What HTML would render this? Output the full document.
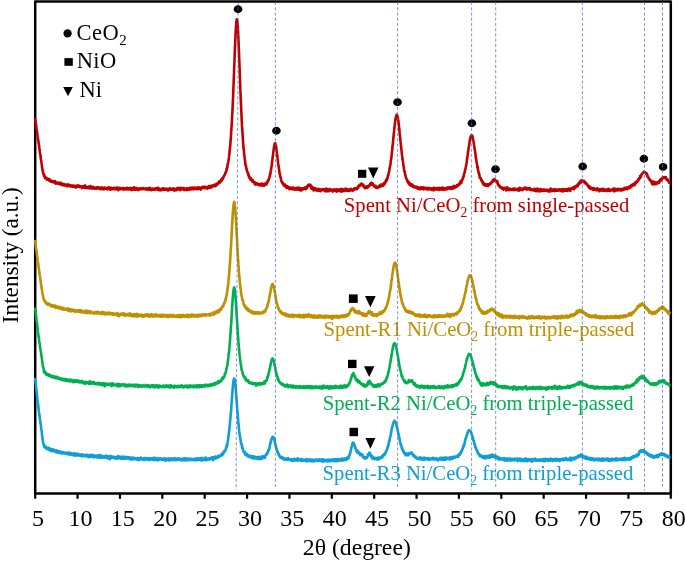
<!DOCTYPE html>
<html><head><meta charset="utf-8"><title>XRD patterns</title>
<style>
html,body{margin:0;padding:0;background:#fff;}
body{width:685px;height:561px;overflow:hidden;}
svg{display:block;font-family:"Liberation Serif",serif;will-change:transform;}
</style></head>
<body>
<svg width="685" height="561" viewBox="0 0 685 561">
<rect width="685" height="561" fill="#fff"/>
<rect x="35.2" y="1.5" width="635.5999999999999" height="492.0" fill="none" stroke="#000" stroke-width="2.5" stroke-linejoin="round"/>
<line x1="35.20" y1="493.5" x2="35.20" y2="498.8" stroke="#000" stroke-width="2.2"/>
<line x1="77.57" y1="493.5" x2="77.57" y2="498.8" stroke="#000" stroke-width="2.2"/>
<line x1="119.95" y1="493.5" x2="119.95" y2="498.8" stroke="#000" stroke-width="2.2"/>
<line x1="162.32" y1="493.5" x2="162.32" y2="498.8" stroke="#000" stroke-width="2.2"/>
<line x1="204.69" y1="493.5" x2="204.69" y2="498.8" stroke="#000" stroke-width="2.2"/>
<line x1="247.07" y1="493.5" x2="247.07" y2="498.8" stroke="#000" stroke-width="2.2"/>
<line x1="289.44" y1="493.5" x2="289.44" y2="498.8" stroke="#000" stroke-width="2.2"/>
<line x1="331.81" y1="493.5" x2="331.81" y2="498.8" stroke="#000" stroke-width="2.2"/>
<line x1="374.19" y1="493.5" x2="374.19" y2="498.8" stroke="#000" stroke-width="2.2"/>
<line x1="416.56" y1="493.5" x2="416.56" y2="498.8" stroke="#000" stroke-width="2.2"/>
<line x1="458.93" y1="493.5" x2="458.93" y2="498.8" stroke="#000" stroke-width="2.2"/>
<line x1="501.31" y1="493.5" x2="501.31" y2="498.8" stroke="#000" stroke-width="2.2"/>
<line x1="543.68" y1="493.5" x2="543.68" y2="498.8" stroke="#000" stroke-width="2.2"/>
<line x1="586.05" y1="493.5" x2="586.05" y2="498.8" stroke="#000" stroke-width="2.2"/>
<line x1="628.43" y1="493.5" x2="628.43" y2="498.8" stroke="#000" stroke-width="2.2"/>
<line x1="670.80" y1="493.5" x2="670.80" y2="498.8" stroke="#000" stroke-width="2.2"/>
<path d="M35.2 119.5L35.4 121.1L35.6 122.1L35.8 123.2L36.0 124.8L36.2 125.9L36.4 127.9L36.6 129.9L36.8 130.3L37.0 131.6L37.2 133.6L37.4 134.9L37.6 136.2L37.8 137.0L38.0 138.9L38.2 140.7L38.4 141.0L38.6 142.9L38.8 143.5L39.0 145.3L39.2 146.4L39.4 148.8L39.6 149.6L39.8 151.9L40.0 153.2L40.2 154.4L40.4 154.5L40.6 157.0L40.8 158.6L41.0 160.0L41.2 160.4L41.4 162.2L41.6 163.3L41.8 164.8L42.0 167.2L42.2 167.5L42.4 169.2L42.6 170.8L42.8 171.1L43.0 172.3L43.2 173.2L43.4 173.8L43.6 173.7L43.8 174.9L44.0 176.1L44.2 174.9L44.4 176.6L44.6 176.5L44.8 176.4L45.0 178.1L45.2 177.7L45.4 176.8L45.6 177.8L45.8 178.2L46.0 178.0L46.2 178.7L46.4 178.4L46.6 178.9L46.8 179.5L47.0 178.5L47.2 179.1L47.4 178.9L47.6 179.3L47.8 178.7L48.0 179.2L48.2 179.5L48.4 180.2L48.6 180.4L48.8 179.2L49.0 179.6L49.2 180.5L49.4 179.1L49.6 180.1L49.8 180.3L50.0 181.2L50.2 181.0L50.4 180.5L50.6 180.5L50.8 180.7L51.0 181.8L51.2 180.8L51.4 180.9L51.6 181.3L51.8 181.2L52.0 181.2L52.2 180.8L52.4 181.4L52.6 181.3L52.8 182.2L53.0 182.0L53.2 181.7L53.4 182.2L53.6 181.7L53.8 182.5L54.0 182.0L54.2 182.4L54.4 181.4L54.6 182.4L54.8 181.3L55.0 181.2L55.2 182.2L55.4 182.0L55.6 182.6L55.8 183.8L56.0 182.2L56.2 182.4L56.4 182.9L56.6 183.1L56.8 182.8L57.0 182.9L57.2 183.4L57.4 183.4L57.6 182.6L57.8 183.2L58.0 183.3L58.2 182.8L58.4 183.5L58.6 183.0L58.8 184.0L59.0 183.7L59.2 183.7L59.4 183.3L59.6 183.7L59.8 182.7L60.0 183.2L60.2 184.1L60.4 182.8L60.6 184.5L60.8 183.1L61.0 184.5L61.2 183.7L61.4 184.6L61.6 184.3L61.8 183.4L62.0 185.0L62.2 185.2L62.4 184.4L62.6 184.3L62.8 184.4L63.0 184.0L63.2 185.2L63.4 184.4L63.6 184.7L63.8 184.3L64.0 184.4L64.2 184.1L64.4 185.5L64.6 184.8L64.8 185.5L65.0 185.0L65.2 184.6L65.4 184.9L65.6 184.8L65.8 185.1L66.0 184.9L66.2 185.0L66.4 184.5L66.6 184.8L66.8 186.2L67.0 184.9L67.2 184.8L67.4 185.6L67.6 186.2L67.8 184.6L68.0 185.3L68.2 185.1L68.4 184.5L68.6 185.9L68.8 185.6L69.0 185.6L69.2 185.2L69.4 185.9L69.6 185.4L69.8 185.6L70.0 185.1L70.2 185.1L70.4 186.5L70.6 185.5L70.8 186.0L71.0 185.8L71.2 185.6L71.4 185.6L71.6 186.3L71.8 185.8L72.0 185.9L72.2 186.0L72.4 186.7L72.6 186.4L72.8 186.3L73.0 185.8L73.2 185.4L73.4 186.7L73.6 186.7L73.8 186.1L74.0 186.5L74.2 186.7L74.4 186.7L74.6 186.8L74.8 186.0L75.0 187.2L75.2 185.7L75.4 186.8L75.6 186.7L75.8 186.9L76.0 187.5L76.2 187.3L76.4 185.8L76.6 185.6L76.8 187.0L77.0 186.0L77.2 186.5L77.4 187.0L77.6 185.7L77.8 185.4L78.0 186.8L78.2 186.7L78.4 186.5L78.6 186.7L78.8 186.2L79.0 185.9L79.2 186.6L79.4 186.2L79.6 185.9L79.8 187.1L80.0 186.8L80.2 187.0L80.4 186.3L80.6 186.5L80.8 186.3L81.0 186.4L81.2 187.0L81.4 186.5L81.6 187.1L81.8 187.1L82.0 188.1L82.2 186.2L82.4 187.5L82.6 187.0L82.8 187.0L83.0 186.2L83.2 186.8L83.4 187.5L83.6 187.0L83.8 187.1L84.0 187.0L84.2 187.8L84.4 187.1L84.6 185.9L84.8 186.8L85.0 186.1L85.2 185.4L85.4 186.9L85.6 188.0L85.8 187.3L86.0 186.6L86.2 186.8L86.4 187.9L86.6 187.4L86.8 187.3L87.0 187.3L87.2 187.4L87.4 187.8L87.6 187.7L87.8 187.5L88.0 186.8L88.2 187.7L88.4 187.0L88.6 188.0L88.8 186.8L89.0 187.4L89.2 187.5L89.4 186.8L89.6 188.5L89.8 188.3L90.0 187.3L90.2 188.0L90.4 187.8L90.6 186.1L90.8 187.7L91.0 187.6L91.2 187.7L91.4 187.0L91.6 187.5L91.8 187.6L92.0 188.3L92.2 187.9L92.4 187.7L92.6 188.5L92.8 187.4L93.0 187.5L93.2 186.7L93.4 188.6L93.6 188.3L93.8 188.3L94.0 188.2L94.2 187.9L94.4 187.9L94.6 187.7L94.8 187.7L95.0 187.9L95.2 188.7L95.4 188.2L95.6 187.8L95.8 187.6L96.0 187.6L96.2 188.8L96.4 188.2L96.6 188.0L96.8 187.8L97.0 187.3L97.2 187.9L97.4 188.5L97.6 187.8L97.8 187.9L98.0 187.9L98.2 188.1L98.4 187.2L98.6 187.9L98.8 187.6L99.0 188.6L99.2 187.7L99.4 188.4L99.6 188.9L99.8 187.9L100.0 187.8L100.2 188.2L100.4 188.1L100.6 187.6L100.8 188.4L101.0 189.3L101.2 188.0L101.4 188.1L101.6 187.6L101.8 188.4L102.0 187.5L102.2 187.6L102.4 188.9L102.6 187.7L102.8 188.8L103.0 189.1L103.2 188.4L103.4 188.6L103.6 189.4L103.8 188.2L104.0 188.0L104.2 187.6L104.4 188.3L104.6 189.1L104.8 188.9L105.0 187.8L105.2 187.9L105.4 188.1L105.6 188.5L105.8 188.3L106.0 188.5L106.2 188.6L106.4 188.2L106.6 188.4L106.8 188.5L107.0 188.4L107.2 188.7L107.4 189.5L107.6 188.8L107.8 188.5L108.0 187.5L108.2 188.7L108.4 187.4L108.6 187.7L108.8 189.0L109.0 188.9L109.2 188.4L109.4 187.6L109.6 188.3L109.8 188.1L110.0 188.9L110.2 189.8L110.4 188.6L110.6 188.1L110.8 187.9L111.0 188.5L111.2 188.5L111.4 187.9L111.6 188.6L111.8 187.9L112.0 189.2L112.2 189.2L112.4 189.2L112.6 188.3L112.8 188.9L113.0 188.5L113.2 188.4L113.4 188.4L113.6 187.9L113.8 187.8L114.0 189.1L114.2 188.5L114.4 188.8L114.6 189.2L114.8 187.7L115.0 188.2L115.2 188.8L115.4 188.9L115.6 188.5L115.8 189.2L116.0 188.8L116.2 188.0L116.4 188.2L116.6 189.1L116.8 188.9L117.0 187.6L117.2 189.4L117.4 189.0L117.6 189.4L117.8 188.5L118.0 188.6L118.2 188.1L118.4 190.1L118.6 188.6L118.8 189.6L119.0 188.4L119.2 188.8L119.4 187.8L119.6 188.5L119.8 189.3L120.0 188.1L120.2 189.3L120.4 188.9L120.6 188.2L120.8 188.5L121.0 188.5L121.2 188.7L121.4 188.5L121.6 188.3L121.8 188.6L122.0 188.2L122.2 188.1L122.4 188.8L122.6 189.3L122.8 188.0L123.0 188.8L123.2 188.5L123.4 188.3L123.6 189.3L123.8 188.5L124.0 189.6L124.2 188.4L124.4 189.0L124.6 188.7L124.8 188.4L125.0 189.2L125.2 188.8L125.4 189.2L125.6 188.8L125.8 188.3L126.0 188.8L126.2 188.9L126.4 189.4L126.6 188.4L126.8 188.8L127.0 187.9L127.2 189.2L127.4 188.3L127.6 187.9L127.8 188.9L128.0 189.5L128.2 188.1L128.4 188.3L128.6 188.5L128.8 188.3L129.0 189.1L129.2 188.5L129.4 188.5L129.6 189.2L129.8 188.5L130.0 189.2L130.2 188.4L130.4 188.3L130.6 187.9L130.8 190.0L131.0 188.8L131.2 189.1L131.4 188.9L131.6 189.0L131.8 189.0L132.0 190.0L132.2 188.4L132.4 188.1L132.6 188.4L132.8 188.2L133.0 189.4L133.2 189.4L133.4 188.4L133.6 188.2L133.8 188.8L134.0 189.7L134.2 187.4L134.4 189.3L134.6 188.4L134.8 189.6L135.0 188.4L135.2 188.8L135.4 188.2L135.6 188.5L135.8 189.8L136.0 189.5L136.2 188.8L136.4 188.5L136.6 188.0L136.8 188.8L137.0 189.0L137.2 189.0L137.4 189.0L137.6 188.4L137.8 189.0L138.0 189.0L138.2 189.7L138.4 190.1L138.6 189.0L138.8 188.6L139.0 189.0L139.2 188.7L139.4 188.6L139.6 189.0L139.8 188.5L140.0 189.4L140.2 189.0L140.4 189.2L140.6 189.0L140.8 188.7L141.0 188.5L141.2 188.9L141.4 188.8L141.6 189.2L141.8 189.1L142.0 188.3L142.2 189.1L142.4 188.3L142.6 188.7L142.8 188.9L143.0 188.0L143.2 189.1L143.4 189.2L143.6 189.0L143.8 188.9L144.0 188.9L144.2 188.6L144.4 189.0L144.6 188.8L144.8 189.2L145.0 188.5L145.2 189.2L145.4 189.2L145.6 189.0L145.8 188.9L146.0 189.4L146.2 188.2L146.4 189.4L146.6 189.3L146.8 189.3L147.0 189.4L147.2 188.8L147.4 189.0L147.6 189.5L147.8 189.4L148.0 189.3L148.2 188.3L148.4 189.5L148.6 189.8L148.8 189.7L149.0 189.3L149.2 188.3L149.4 189.7L149.6 189.1L149.8 187.8L150.0 189.4L150.2 188.4L150.4 188.5L150.6 188.8L150.8 189.9L151.0 189.0L151.2 189.3L151.4 190.1L151.6 190.1L151.8 189.1L152.0 189.1L152.2 188.5L152.4 188.8L152.6 189.4L152.8 189.4L153.0 189.3L153.2 189.7L153.4 188.8L153.6 189.2L153.8 189.6L154.0 189.5L154.2 189.8L154.4 189.4L154.6 189.0L154.8 189.4L155.0 188.7L155.2 188.3L155.4 189.5L155.6 189.2L155.8 189.4L156.0 188.3L156.2 189.0L156.4 188.9L156.6 188.7L156.8 188.0L157.0 189.0L157.2 189.7L157.4 189.4L157.6 188.9L157.8 189.2L158.0 189.6L158.2 187.7L158.4 189.2L158.6 189.5L158.8 189.6L159.0 190.2L159.2 189.9L159.4 189.4L159.6 189.4L159.8 189.7L160.0 188.9L160.2 189.2L160.4 189.7L160.6 190.3L160.8 189.1L161.0 189.2L161.2 189.3L161.4 190.0L161.6 189.2L161.8 190.0L162.0 188.7L162.2 189.1L162.4 189.1L162.6 189.7L162.8 189.8L163.0 188.4L163.2 188.7L163.4 189.4L163.6 188.9L163.8 188.4L164.0 189.8L164.2 189.5L164.4 189.5L164.6 189.0L164.8 189.8L165.0 189.1L165.2 189.8L165.4 188.7L165.6 188.8L165.8 189.3L166.0 188.9L166.2 189.6L166.4 189.4L166.6 188.7L166.8 189.3L167.0 189.0L167.2 189.7L167.4 188.9L167.6 189.0L167.8 189.9L168.0 190.5L168.2 190.3L168.4 189.3L168.6 189.3L168.8 190.1L169.0 189.2L169.2 188.7L169.4 189.3L169.6 189.5L169.8 188.8L170.0 188.3L170.2 188.4L170.4 189.6L170.6 188.8L170.8 189.1L171.0 189.3L171.2 189.6L171.4 189.0L171.6 189.5L171.8 188.7L172.0 189.0L172.2 188.6L172.4 189.8L172.6 189.2L172.8 188.8L173.0 189.0L173.2 189.1L173.4 189.6L173.6 188.3L173.8 188.6L174.0 189.0L174.2 190.6L174.4 189.7L174.6 189.1L174.8 189.6L175.0 190.3L175.2 189.0L175.4 189.0L175.6 189.8L175.8 189.4L176.0 189.5L176.2 188.9L176.4 190.2L176.6 190.1L176.8 189.5L177.0 189.5L177.2 188.0L177.4 189.5L177.6 189.0L177.8 189.4L178.0 189.5L178.2 188.9L178.4 188.2L178.6 189.3L178.8 188.7L179.0 188.9L179.2 188.8L179.4 188.9L179.6 187.8L179.8 189.8L180.0 189.2L180.2 189.7L180.4 190.2L180.6 189.1L180.8 188.1L181.0 188.6L181.2 188.4L181.4 188.8L181.6 189.1L181.8 188.0L182.0 189.2L182.2 188.2L182.4 189.2L182.6 189.0L182.8 188.9L183.0 189.0L183.2 188.7L183.4 188.7L183.6 188.1L183.8 189.0L184.0 190.0L184.2 190.1L184.4 189.7L184.6 189.4L184.8 188.6L185.0 189.8L185.2 188.9L185.4 188.9L185.6 188.8L185.8 189.0L186.0 188.7L186.2 188.9L186.4 188.3L186.6 188.7L186.8 190.2L187.0 188.9L187.2 188.8L187.4 189.2L187.6 189.3L187.8 188.3L188.0 188.8L188.2 189.4L188.4 189.0L188.6 188.9L188.8 189.7L189.0 188.5L189.2 188.9L189.4 188.5L189.6 189.6L189.8 187.7L190.0 188.4L190.2 188.5L190.4 189.2L190.6 189.1L190.8 189.5L191.0 187.9L191.2 189.2L191.4 188.6L191.6 188.4L191.8 189.0L192.0 188.2L192.2 187.6L192.4 188.5L192.6 187.9L192.8 188.3L193.0 188.9L193.2 188.8L193.4 189.5L193.6 188.5L193.8 187.8L194.0 188.2L194.2 188.1L194.4 187.9L194.6 188.8L194.8 188.2L195.0 187.5L195.2 188.9L195.4 188.5L195.6 188.7L195.8 188.6L196.0 188.9L196.2 188.5L196.4 189.2L196.6 188.7L196.8 188.7L197.0 188.7L197.2 187.6L197.4 188.3L197.6 188.3L197.8 188.5L198.0 187.6L198.2 189.3L198.4 188.4L198.6 187.7L198.8 187.4L199.0 188.1L199.2 188.2L199.4 187.9L199.6 188.3L199.8 187.9L200.0 188.5L200.2 187.8L200.4 188.2L200.6 188.7L200.8 189.6L201.0 187.6L201.2 187.9L201.4 187.6L201.6 188.5L201.8 187.4L202.0 187.8L202.2 188.0L202.4 187.4L202.6 187.4L202.8 187.7L203.0 186.8L203.2 187.1L203.4 187.6L203.6 187.9L203.8 187.7L204.0 186.8L204.2 187.5L204.4 188.2L204.6 188.0L204.8 187.7L205.0 187.2L205.2 188.0L205.4 187.3L205.6 186.9L205.8 187.1L206.0 188.3L206.2 187.6L206.4 188.1L206.6 187.2L206.8 187.9L207.0 187.0L207.2 187.3L207.4 188.7L207.6 187.7L207.8 187.0L208.0 187.2L208.2 187.3L208.4 187.8L208.6 186.8L208.8 186.1L209.0 186.8L209.2 187.0L209.4 187.0L209.6 187.6L209.8 187.0L210.0 187.2L210.2 186.1L210.4 187.2L210.6 187.8L210.8 187.0L211.0 186.7L211.2 186.6L211.4 187.4L211.6 185.9L211.8 186.2L212.0 186.5L212.2 186.6L212.4 185.9L212.6 186.2L212.8 185.8L213.0 186.0L213.2 185.8L213.4 185.2L213.6 185.7L213.8 186.1L214.0 185.0L214.2 185.4L214.4 185.8L214.6 184.7L214.8 185.3L215.0 184.6L215.2 185.7L215.4 186.2L215.6 186.0L215.8 184.6L216.0 185.1L216.2 184.6L216.4 184.5L216.6 185.2L216.8 183.5L217.0 184.7L217.2 183.9L217.4 184.6L217.6 183.8L217.8 183.2L218.0 183.6L218.2 183.7L218.4 183.1L218.6 183.2L218.8 182.5L219.0 181.5L219.2 183.0L219.4 182.7L219.6 182.2L219.8 182.0L220.0 182.3L220.2 181.3L220.4 180.9L220.6 181.0L220.8 181.6L221.0 179.9L221.2 181.1L221.4 179.8L221.6 179.3L221.8 180.4L222.0 179.4L222.2 178.4L222.4 178.7L222.6 179.1L222.8 178.9L223.0 177.7L223.2 177.8L223.4 177.7L223.6 176.5L223.8 176.7L224.0 176.1L224.2 175.5L224.4 175.1L224.6 174.9L224.8 174.5L225.0 173.7L225.2 173.2L225.4 173.6L225.6 172.5L225.8 172.3L226.0 171.9L226.2 170.9L226.4 171.2L226.6 168.8L226.8 169.0L227.0 167.6L227.2 167.9L227.4 167.0L227.6 164.0L227.8 163.6L228.0 163.4L228.2 162.4L228.4 161.1L228.6 159.4L228.8 158.3L229.0 157.0L229.2 155.0L229.4 154.0L229.6 150.4L229.8 150.1L230.0 147.2L230.2 146.1L230.4 143.2L230.6 140.4L230.8 138.5L231.0 135.0L231.2 132.1L231.4 128.6L231.6 126.2L231.8 123.0L232.0 119.7L232.2 115.2L232.4 111.9L232.6 107.1L232.8 102.7L233.0 98.4L233.2 94.0L233.4 88.4L233.6 83.4L233.8 78.3L234.0 73.2L234.2 67.5L234.4 63.0L234.6 57.2L234.8 52.3L235.0 46.8L235.2 42.3L235.4 37.7L235.6 33.3L235.8 29.9L236.0 26.3L236.2 23.8L236.4 21.6L236.6 20.0L236.8 19.3L237.0 19.5L237.2 20.2L237.4 21.7L237.6 23.9L237.8 26.5L238.0 30.1L238.2 33.6L238.4 38.4L238.6 42.8L238.8 47.8L239.0 53.0L239.2 58.5L239.4 63.2L239.6 68.5L239.8 74.1L240.0 78.9L240.2 84.6L240.4 90.9L240.6 94.6L240.8 100.2L241.0 103.8L241.2 109.2L241.4 113.1L241.6 117.3L241.8 121.6L242.0 125.9L242.2 128.6L242.4 131.9L242.6 134.4L242.8 138.2L243.0 140.6L243.2 143.8L243.4 145.8L243.6 149.1L243.8 149.2L244.0 152.2L244.2 154.7L244.4 155.8L244.6 157.3L244.8 159.1L245.0 159.9L245.2 162.1L245.4 164.7L245.6 165.1L245.8 165.0L246.0 166.1L246.2 167.4L246.4 169.0L246.6 168.9L246.8 169.7L247.0 171.3L247.2 172.0L247.4 172.0L247.6 172.2L247.8 172.5L248.0 173.6L248.2 173.2L248.4 175.4L248.6 175.1L248.8 176.1L249.0 177.3L249.2 177.3L249.4 176.4L249.6 177.9L249.8 178.4L250.0 177.7L250.2 177.8L250.4 178.6L250.6 178.1L250.8 180.0L251.0 178.2L251.2 179.1L251.4 179.8L251.6 180.1L251.8 180.5L252.0 180.8L252.2 180.7L252.4 181.7L252.6 180.1L252.8 181.4L253.0 181.2L253.2 181.8L253.4 182.0L253.6 181.6L253.8 181.9L254.0 182.8L254.2 182.7L254.4 182.3L254.6 183.9L254.8 184.1L255.0 182.2L255.2 183.3L255.4 184.6L255.6 183.7L255.8 183.5L256.0 183.4L256.2 183.3L256.4 183.6L256.6 183.5L256.8 184.3L257.0 183.7L257.2 183.8L257.4 183.4L257.6 184.1L257.8 183.7L258.0 184.2L258.2 184.9L258.4 184.6L258.6 184.7L258.8 184.7L259.0 184.5L259.2 184.5L259.4 184.4L259.6 185.0L259.8 184.1L260.0 185.4L260.2 184.7L260.4 184.3L260.6 184.5L260.8 184.4L261.0 184.9L261.2 184.4L261.4 185.4L261.6 184.4L261.8 183.5L262.0 184.4L262.2 183.7L262.4 184.7L262.6 185.3L262.8 185.1L263.0 184.0L263.2 184.2L263.4 185.6L263.6 184.8L263.8 184.5L264.0 185.1L264.2 185.8L264.4 185.1L264.6 184.4L264.8 184.4L265.0 184.5L265.2 183.7L265.4 183.3L265.6 183.8L265.8 183.2L266.0 183.5L266.2 183.4L266.4 184.5L266.6 182.6L266.8 182.8L267.0 182.5L267.2 182.6L267.4 182.7L267.6 181.5L267.8 181.0L268.0 180.2L268.2 180.2L268.4 180.6L268.6 179.9L268.8 178.8L269.0 178.6L269.2 178.2L269.4 177.8L269.6 176.5L269.8 175.9L270.0 174.2L270.2 173.7L270.4 174.2L270.6 171.2L270.8 171.0L271.0 170.2L271.2 168.6L271.4 167.1L271.6 166.0L271.8 164.6L272.0 163.0L272.2 160.7L272.4 159.8L272.6 157.9L272.8 156.3L273.0 154.9L273.2 153.3L273.4 151.7L273.6 149.8L273.8 148.6L274.0 147.2L274.2 146.0L274.4 145.0L274.6 144.0L274.8 143.5L275.0 143.3L275.2 143.1L275.4 143.6L275.6 144.0L275.8 144.9L276.0 145.7L276.2 147.0L276.4 148.6L276.6 150.3L276.8 152.0L277.0 153.4L277.2 155.1L277.4 156.6L277.6 158.7L277.8 160.2L278.0 162.2L278.2 164.4L278.4 165.1L278.6 165.9L278.8 167.6L279.0 168.7L279.2 170.1L279.4 172.6L279.6 173.2L279.8 173.3L280.0 175.5L280.2 176.7L280.4 176.7L280.6 177.4L280.8 178.3L281.0 179.3L281.2 180.2L281.4 181.0L281.6 181.6L281.8 182.1L282.0 182.7L282.2 182.7L282.4 181.9L282.6 183.0L282.8 183.6L283.0 183.5L283.2 184.5L283.4 184.1L283.6 184.0L283.8 185.5L284.0 185.3L284.2 185.3L284.4 185.8L284.6 186.1L284.8 185.8L285.0 184.5L285.2 185.6L285.4 185.8L285.6 185.7L285.8 186.4L286.0 187.1L286.2 186.3L286.4 186.0L286.6 187.9L286.8 186.6L287.0 186.2L287.2 187.1L287.4 187.3L287.6 186.8L287.8 187.7L288.0 187.0L288.2 186.9L288.4 187.5L288.6 187.9L288.8 187.2L289.0 187.8L289.2 187.6L289.4 189.3L289.6 187.4L289.8 188.6L290.0 187.9L290.2 187.9L290.4 188.4L290.6 188.5L290.8 188.8L291.0 188.3L291.2 187.8L291.4 187.9L291.6 188.5L291.8 188.6L292.0 189.1L292.2 188.6L292.4 189.0L292.6 189.2L292.8 188.5L293.0 187.6L293.2 187.8L293.4 187.7L293.6 189.4L293.8 188.1L294.0 189.3L294.2 188.9L294.4 189.6L294.6 189.2L294.8 188.6L295.0 188.6L295.2 188.8L295.4 188.9L295.6 188.5L295.8 188.8L296.0 189.7L296.2 187.9L296.4 189.0L296.6 188.4L296.8 189.0L297.0 189.4L297.2 188.9L297.4 189.4L297.6 188.1L297.8 189.6L298.0 188.6L298.2 189.3L298.4 189.1L298.6 187.6L298.8 188.6L299.0 189.1L299.2 189.9L299.4 189.2L299.6 189.2L299.8 188.3L300.0 189.8L300.2 190.1L300.4 189.1L300.6 189.0L300.8 188.2L301.0 189.6L301.2 190.6L301.4 189.5L301.6 189.8L301.8 189.4L302.0 188.5L302.2 189.8L302.4 188.4L302.6 188.9L302.8 189.2L303.0 189.5L303.2 189.2L303.4 189.2L303.6 188.5L303.8 188.2L304.0 188.9L304.2 188.4L304.4 188.1L304.6 188.0L304.8 188.4L305.0 187.5L305.2 187.7L305.4 187.5L305.6 188.3L305.8 188.3L306.0 189.1L306.2 187.0L306.4 187.3L306.6 188.0L306.8 187.1L307.0 186.9L307.2 187.8L307.4 186.4L307.6 185.7L307.8 185.4L308.0 186.1L308.2 185.9L308.4 184.8L308.6 184.9L308.8 185.6L309.0 185.5L309.2 184.8L309.4 185.6L309.6 185.6L309.8 184.5L310.0 185.4L310.2 186.0L310.4 185.7L310.6 185.1L310.8 186.3L311.0 187.1L311.2 187.8L311.4 186.0L311.6 188.9L311.8 187.0L312.0 188.4L312.2 188.7L312.4 188.7L312.6 188.4L312.8 187.9L313.0 189.0L313.2 188.4L313.4 187.5L313.6 190.5L313.8 189.4L314.0 190.1L314.2 188.7L314.4 190.1L314.6 190.2L314.8 190.2L315.0 189.4L315.2 188.8L315.4 189.4L315.6 188.3L315.8 188.6L316.0 189.6L316.2 189.0L316.4 189.5L316.6 189.6L316.8 190.7L317.0 190.4L317.2 189.7L317.4 190.4L317.6 189.3L317.8 189.5L318.0 190.2L318.2 189.1L318.4 189.6L318.6 189.0L318.8 189.9L319.0 190.7L319.2 189.4L319.4 189.9L319.6 189.3L319.8 189.2L320.0 189.2L320.2 190.7L320.4 191.2L320.6 190.1L320.8 189.5L321.0 190.3L321.2 189.7L321.4 190.3L321.6 190.1L321.8 190.1L322.0 190.3L322.2 189.6L322.4 189.7L322.6 189.0L322.8 189.7L323.0 189.2L323.2 189.9L323.4 189.4L323.6 190.0L323.8 190.2L324.0 189.2L324.2 189.5L324.4 189.5L324.6 190.4L324.8 190.9L325.0 190.5L325.2 189.8L325.4 190.8L325.6 189.2L325.8 190.8L326.0 189.7L326.2 188.5L326.4 191.5L326.6 190.9L326.8 189.5L327.0 190.1L327.2 189.9L327.4 190.1L327.6 189.2L327.8 189.7L328.0 190.3L328.2 190.2L328.4 190.7L328.6 190.1L328.8 191.3L329.0 189.7L329.2 190.2L329.4 189.0L329.6 189.4L329.8 190.8L330.0 189.6L330.2 190.4L330.4 190.0L330.6 189.5L330.8 189.9L331.0 189.8L331.2 189.8L331.4 190.5L331.6 190.4L331.8 189.8L332.0 189.6L332.2 190.2L332.4 190.0L332.6 190.7L332.8 191.6L333.0 190.6L333.2 190.1L333.4 190.0L333.6 189.6L333.8 189.6L334.0 189.5L334.2 189.9L334.4 189.9L334.6 190.5L334.8 189.9L335.0 190.0L335.2 189.4L335.4 191.0L335.6 190.4L335.8 191.1L336.0 190.5L336.2 190.9L336.4 190.0L336.6 190.5L336.8 191.6L337.0 189.4L337.2 190.7L337.4 191.0L337.6 190.3L337.8 190.5L338.0 190.8L338.2 189.7L338.4 190.3L338.6 189.6L338.8 189.7L339.0 189.7L339.2 190.0L339.4 190.2L339.6 190.3L339.8 189.3L340.0 191.2L340.2 190.7L340.4 190.5L340.6 189.9L340.8 190.0L341.0 190.4L341.2 190.3L341.4 189.1L341.6 190.5L341.8 191.7L342.0 189.0L342.2 190.6L342.4 190.3L342.6 190.0L342.8 190.8L343.0 189.4L343.2 190.1L343.4 190.9L343.6 189.9L343.8 189.8L344.0 190.1L344.2 189.8L344.4 190.9L344.6 189.5L344.8 190.5L345.0 189.3L345.2 190.4L345.4 189.9L345.6 188.5L345.8 190.0L346.0 189.4L346.2 189.7L346.4 190.8L346.6 189.3L346.8 189.3L347.0 190.8L347.2 190.0L347.4 190.8L347.6 190.1L347.8 189.4L348.0 189.9L348.2 190.6L348.4 190.4L348.6 189.9L348.8 189.9L349.0 189.8L349.2 189.5L349.4 190.9L349.6 189.8L349.8 189.2L350.0 189.5L350.2 190.2L350.4 190.2L350.6 189.7L350.8 189.4L351.0 189.8L351.2 188.8L351.4 189.0L351.6 190.2L351.8 189.4L352.0 189.9L352.2 190.4L352.4 190.0L352.6 189.6L352.8 190.8L353.0 190.0L353.2 189.4L353.4 190.0L353.6 189.8L353.8 189.0L354.0 189.5L354.2 189.3L354.4 188.3L354.6 189.3L354.8 189.1L355.0 189.0L355.2 188.3L355.4 188.9L355.6 189.0L355.8 189.0L356.0 188.3L356.2 189.2L356.4 188.0L356.6 188.5L356.8 189.2L357.0 187.9L357.2 187.9L357.4 188.6L357.6 187.6L357.8 187.5L358.0 187.6L358.2 187.9L358.4 185.8L358.6 186.3L358.8 186.0L359.0 185.7L359.2 185.6L359.4 185.4L359.6 185.8L359.8 184.9L360.0 185.2L360.2 185.2L360.4 184.3L360.6 184.6L360.8 185.3L361.0 184.5L361.2 183.9L361.4 184.2L361.6 183.7L361.8 184.4L362.0 184.8L362.2 184.0L362.4 184.5L362.6 185.4L362.8 184.6L363.0 185.2L363.2 184.7L363.4 185.1L363.6 185.4L363.8 187.1L364.0 185.9L364.2 186.0L364.4 186.2L364.6 186.6L364.8 187.2L365.0 187.1L365.2 188.3L365.4 187.4L365.6 188.1L365.8 187.6L366.0 187.8L366.2 186.7L366.4 187.5L366.6 187.5L366.8 187.4L367.0 186.3L367.2 187.9L367.4 187.2L367.6 187.0L367.8 187.0L368.0 186.9L368.2 187.1L368.4 186.0L368.6 185.9L368.8 186.4L369.0 186.1L369.2 185.6L369.4 185.2L369.6 184.8L369.8 184.9L370.0 185.4L370.2 183.9L370.4 185.1L370.6 184.5L370.8 183.7L371.0 184.2L371.2 182.9L371.4 182.7L371.6 183.0L371.8 183.6L372.0 183.8L372.2 183.8L372.4 184.3L372.6 183.3L372.8 185.0L373.0 184.2L373.2 184.8L373.4 185.2L373.6 185.0L373.8 185.1L374.0 185.5L374.2 186.2L374.4 186.7L374.6 186.8L374.8 186.1L375.0 186.3L375.2 186.3L375.4 187.2L375.6 185.9L375.8 187.7L376.0 186.8L376.2 186.7L376.4 187.3L376.6 187.7L376.8 187.3L377.0 187.7L377.2 187.2L377.4 187.8L377.6 187.7L377.8 187.0L378.0 187.8L378.2 187.0L378.4 186.9L378.6 186.3L378.8 186.6L379.0 187.1L379.2 185.9L379.4 186.9L379.6 186.7L379.8 186.6L380.0 185.2L380.2 186.2L380.4 186.6L380.6 185.7L380.8 186.1L381.0 184.6L381.2 186.2L381.4 185.4L381.6 186.1L381.8 184.5L382.0 185.8L382.2 185.1L382.4 185.6L382.6 184.5L382.8 184.5L383.0 185.9L383.2 184.1L383.4 184.0L383.6 184.0L383.8 183.4L384.0 184.5L384.2 184.6L384.4 183.0L384.6 182.2L384.8 183.5L385.0 183.2L385.2 182.8L385.4 182.7L385.6 181.3L385.8 181.3L386.0 180.3L386.2 179.9L386.4 180.8L386.6 179.4L386.8 180.6L387.0 178.9L387.2 178.0L387.4 178.2L387.6 178.2L387.8 176.8L388.0 175.2L388.2 175.4L388.4 175.2L388.6 173.3L388.8 172.3L389.0 172.4L389.2 171.0L389.4 169.3L389.6 168.7L389.8 167.3L390.0 166.7L390.2 165.4L390.4 164.7L390.6 163.1L390.8 160.5L391.0 160.1L391.2 158.8L391.4 157.0L391.6 155.7L391.8 153.1L392.0 151.1L392.2 150.3L392.4 147.4L392.6 145.0L392.8 144.7L393.0 141.8L393.2 140.1L393.4 137.5L393.6 135.6L393.8 133.7L394.0 132.0L394.2 130.4L394.4 127.4L394.6 126.7L394.8 124.3L395.0 122.6L395.2 121.5L395.4 119.9L395.6 118.3L395.8 117.7L396.0 116.4L396.2 115.7L396.4 115.2L396.6 114.9L396.8 114.7L397.0 114.9L397.2 115.1L397.4 115.8L397.6 116.4L397.8 117.4L398.0 118.9L398.2 119.9L398.4 121.3L398.6 123.5L398.8 124.7L399.0 126.1L399.2 128.5L399.4 129.7L399.6 132.6L399.8 134.7L400.0 135.9L400.2 137.9L400.4 140.3L400.6 142.2L400.8 143.6L401.0 146.4L401.2 146.9L401.4 149.6L401.6 151.4L401.8 153.2L402.0 155.2L402.2 156.0L402.4 158.6L402.6 159.7L402.8 160.9L403.0 161.9L403.2 163.4L403.4 165.5L403.6 166.0L403.8 167.7L404.0 169.4L404.2 170.4L404.4 171.7L404.6 171.6L404.8 172.1L405.0 174.1L405.2 174.5L405.4 175.7L405.6 175.8L405.8 177.1L406.0 177.6L406.2 178.1L406.4 178.5L406.6 179.0L406.8 179.4L407.0 179.8L407.2 180.7L407.4 180.3L407.6 181.9L407.8 181.2L408.0 182.2L408.2 181.9L408.4 182.1L408.6 183.7L408.8 182.6L409.0 182.3L409.2 182.9L409.4 183.3L409.6 184.9L409.8 184.0L410.0 184.6L410.2 183.7L410.4 184.6L410.6 185.0L410.8 185.7L411.0 184.5L411.2 185.4L411.4 185.3L411.6 184.7L411.8 185.4L412.0 185.4L412.2 184.4L412.4 186.1L412.6 186.2L412.8 185.7L413.0 185.3L413.2 187.0L413.4 186.4L413.6 186.9L413.8 187.2L414.0 186.2L414.2 187.0L414.4 186.5L414.6 186.7L414.8 186.7L415.0 186.8L415.2 187.5L415.4 187.0L415.6 186.9L415.8 186.9L416.0 187.3L416.2 186.7L416.4 187.0L416.6 187.3L416.8 187.0L417.0 187.3L417.2 187.1L417.4 188.6L417.6 188.3L417.8 187.8L418.0 187.6L418.2 188.9L418.4 187.9L418.6 187.7L418.8 188.0L419.0 188.0L419.2 188.6L419.4 187.9L419.6 189.1L419.8 187.5L420.0 188.4L420.2 187.5L420.4 189.1L420.6 187.9L420.8 188.1L421.0 188.7L421.2 188.9L421.4 187.6L421.6 188.0L421.8 187.5L422.0 188.3L422.2 188.2L422.4 188.1L422.6 188.0L422.8 188.2L423.0 188.0L423.2 188.7L423.4 189.3L423.6 187.4L423.8 188.4L424.0 188.3L424.2 188.8L424.4 188.0L424.6 188.5L424.8 188.0L425.0 189.0L425.2 188.6L425.4 188.5L425.6 188.8L425.8 188.5L426.0 187.8L426.2 189.0L426.4 188.8L426.6 188.6L426.8 189.2L427.0 189.4L427.2 188.1L427.4 188.3L427.6 189.6L427.8 189.5L428.0 188.4L428.2 188.1L428.4 188.4L428.6 188.5L428.8 187.9L429.0 188.8L429.2 188.1L429.4 188.2L429.6 189.3L429.8 188.5L430.0 188.8L430.2 189.2L430.4 189.3L430.6 188.7L430.8 188.9L431.0 188.4L431.2 189.8L431.4 189.2L431.6 188.3L431.8 188.9L432.0 189.3L432.2 189.2L432.4 189.9L432.6 189.7L432.8 188.6L433.0 188.9L433.2 188.2L433.4 189.1L433.6 189.0L433.8 190.4L434.0 189.0L434.2 187.8L434.4 188.6L434.6 189.0L434.8 188.2L435.0 188.5L435.2 188.7L435.4 189.1L435.6 188.8L435.8 188.4L436.0 189.4L436.2 188.6L436.4 188.7L436.6 188.2L436.8 188.5L437.0 189.3L437.2 188.0L437.4 188.9L437.6 189.3L437.8 188.7L438.0 189.0L438.2 188.3L438.4 189.6L438.6 189.5L438.8 189.0L439.0 187.9L439.2 188.3L439.4 189.4L439.6 189.8L439.8 189.0L440.0 189.5L440.2 188.5L440.4 188.7L440.6 188.8L440.8 189.1L441.0 188.0L441.2 189.3L441.4 189.5L441.6 188.2L441.8 188.0L442.0 189.0L442.2 188.4L442.4 187.5L442.6 189.2L442.8 188.8L443.0 188.5L443.2 189.9L443.4 188.8L443.6 188.3L443.8 188.7L444.0 188.1L444.2 188.2L444.4 188.9L444.6 188.3L444.8 188.4L445.0 189.5L445.2 189.0L445.4 189.0L445.6 188.8L445.8 188.8L446.0 189.3L446.2 188.5L446.4 189.5L446.6 187.9L446.8 188.3L447.0 187.6L447.2 188.2L447.4 188.6L447.6 189.1L447.8 188.0L448.0 188.3L448.2 188.1L448.4 187.8L448.6 187.6L448.8 188.2L449.0 187.2L449.2 188.2L449.4 188.1L449.6 187.7L449.8 187.5L450.0 187.2L450.2 189.0L450.4 187.2L450.6 188.8L450.8 188.2L451.0 187.6L451.2 187.2L451.4 188.3L451.6 188.7L451.8 187.2L452.0 187.5L452.2 188.2L452.4 187.7L452.6 188.6L452.8 187.1L453.0 187.7L453.2 186.6L453.4 188.4L453.6 186.8L453.8 185.9L454.0 187.0L454.2 187.0L454.4 188.0L454.6 186.7L454.8 186.8L455.0 187.1L455.2 187.6L455.4 186.6L455.6 187.1L455.8 186.7L456.0 186.2L456.2 186.3L456.4 186.2L456.6 185.6L456.8 186.6L457.0 185.1L457.2 186.4L457.4 186.2L457.6 185.5L457.8 185.0L458.0 185.1L458.2 185.4L458.4 185.4L458.6 185.0L458.8 185.2L459.0 184.2L459.2 184.4L459.4 183.2L459.6 184.3L459.8 183.8L460.0 183.2L460.2 183.8L460.4 183.3L460.6 181.1L460.8 182.4L461.0 181.3L461.2 182.3L461.4 182.8L461.6 180.8L461.8 180.7L462.0 180.1L462.2 180.0L462.4 179.7L462.6 179.6L462.8 177.8L463.0 178.7L463.2 176.8L463.4 176.8L463.6 176.7L463.8 175.8L464.0 174.2L464.2 173.5L464.4 172.9L464.6 172.3L464.8 172.1L465.0 169.9L465.2 169.9L465.4 169.0L465.6 168.0L465.8 166.9L466.0 166.4L466.2 164.7L466.4 163.7L466.6 162.4L466.8 161.8L467.0 158.6L467.2 158.9L467.4 156.8L467.6 155.4L467.8 153.7L468.0 151.9L468.2 151.2L468.4 149.7L468.6 148.8L468.8 146.6L469.0 146.4L469.2 144.6L469.4 143.2L469.6 141.8L469.8 140.6L470.0 139.5L470.2 138.6L470.4 137.8L470.6 137.0L470.8 136.2L471.0 135.9L471.2 135.4L471.4 135.3L471.6 135.4L471.8 135.3L472.0 135.5L472.2 135.7L472.4 136.2L472.6 136.8L472.8 138.0L473.0 138.6L473.2 139.7L473.4 140.6L473.6 142.0L473.8 143.7L474.0 144.2L474.2 145.7L474.4 146.8L474.6 148.9L474.8 149.5L475.0 150.8L475.2 152.1L475.4 153.4L475.6 155.8L475.8 158.2L476.0 157.7L476.2 160.0L476.4 160.9L476.6 161.4L476.8 163.0L477.0 164.2L477.2 165.1L477.4 167.6L477.6 166.5L477.8 168.8L478.0 169.7L478.2 170.2L478.4 171.4L478.6 172.7L478.8 173.1L479.0 174.0L479.2 174.9L479.4 174.1L479.6 176.7L479.8 177.7L480.0 177.6L480.2 178.2L480.4 177.4L480.6 178.6L480.8 178.7L481.0 179.3L481.2 180.5L481.4 180.0L481.6 180.7L481.8 180.1L482.0 181.4L482.2 181.8L482.4 181.7L482.6 181.9L482.8 183.6L483.0 182.1L483.2 182.5L483.4 182.8L483.6 184.1L483.8 184.8L484.0 184.0L484.2 183.6L484.4 183.9L484.6 184.8L484.8 183.9L485.0 185.3L485.2 185.4L485.4 184.7L485.6 185.1L485.8 185.3L486.0 185.8L486.2 184.4L486.4 185.7L486.6 184.9L486.8 184.7L487.0 185.2L487.2 185.0L487.4 184.6L487.6 184.3L487.8 184.6L488.0 185.9L488.2 186.1L488.4 185.4L488.6 185.6L488.8 184.6L489.0 184.7L489.2 184.8L489.4 184.0L489.6 183.9L489.8 184.3L490.0 184.0L490.2 183.4L490.4 184.0L490.6 183.4L490.8 183.9L491.0 183.2L491.2 182.8L491.4 182.8L491.6 182.3L491.8 181.8L492.0 181.7L492.2 182.1L492.4 181.8L492.6 181.9L492.8 180.0L493.0 180.5L493.2 180.2L493.4 180.4L493.6 179.8L493.8 179.7L494.0 180.3L494.2 179.9L494.4 179.1L494.6 180.6L494.8 180.4L495.0 179.7L495.2 180.6L495.4 180.0L495.6 181.2L495.8 180.7L496.0 180.7L496.2 181.2L496.4 181.3L496.6 182.2L496.8 182.5L497.0 182.7L497.2 182.7L497.4 181.3L497.6 183.7L497.8 182.9L498.0 184.4L498.2 185.2L498.4 185.0L498.6 184.9L498.8 185.3L499.0 185.5L499.2 185.5L499.4 185.7L499.6 185.7L499.8 187.1L500.0 186.6L500.2 187.3L500.4 186.8L500.6 187.1L500.8 187.1L501.0 187.6L501.2 188.0L501.4 187.7L501.6 187.3L501.8 187.4L502.0 188.8L502.2 187.8L502.4 187.9L502.6 189.0L502.8 188.8L503.0 188.6L503.2 188.1L503.4 189.7L503.6 188.7L503.8 188.8L504.0 188.5L504.2 187.8L504.4 187.9L504.6 188.9L504.8 188.9L505.0 188.6L505.2 188.2L505.4 188.0L505.6 188.7L505.8 188.1L506.0 189.4L506.2 189.6L506.4 190.5L506.6 189.5L506.8 188.7L507.0 188.6L507.2 187.2L507.4 188.8L507.6 189.0L507.8 189.7L508.0 189.5L508.2 189.5L508.4 189.3L508.6 189.6L508.8 190.0L509.0 188.7L509.2 189.0L509.4 188.5L509.6 190.2L509.8 190.0L510.0 189.7L510.2 188.7L510.4 189.4L510.6 189.2L510.8 189.4L511.0 189.3L511.2 189.7L511.4 189.2L511.6 189.9L511.8 189.6L512.0 189.3L512.2 189.4L512.4 189.2L512.6 189.9L512.8 189.3L513.0 189.6L513.2 189.3L513.4 188.7L513.6 190.0L513.8 188.9L514.0 189.9L514.2 189.7L514.4 188.6L514.6 189.0L514.8 189.2L515.0 189.1L515.2 188.9L515.4 189.9L515.6 189.4L515.8 189.7L516.0 189.3L516.2 189.7L516.4 189.1L516.6 189.5L516.8 189.8L517.0 189.5L517.2 189.2L517.4 188.9L517.6 189.6L517.8 189.7L518.0 189.3L518.2 189.0L518.4 189.7L518.6 190.8L518.8 189.2L519.0 189.6L519.2 189.6L519.4 187.9L519.6 189.4L519.8 188.9L520.0 190.1L520.2 189.1L520.4 188.8L520.6 189.1L520.8 189.3L521.0 188.9L521.2 189.1L521.4 188.4L521.6 189.0L521.8 189.5L522.0 190.1L522.2 189.4L522.4 189.1L522.6 189.6L522.8 189.5L523.0 189.8L523.2 189.4L523.4 188.7L523.6 188.9L523.8 188.8L524.0 188.9L524.2 188.8L524.4 188.2L524.6 187.5L524.8 188.3L525.0 187.5L525.2 188.6L525.4 188.6L525.6 187.7L525.8 189.0L526.0 189.1L526.2 188.7L526.4 189.5L526.6 189.7L526.8 188.0L527.0 189.2L527.2 188.9L527.4 188.9L527.6 189.3L527.8 188.4L528.0 188.5L528.2 188.4L528.4 188.5L528.6 188.9L528.8 188.2L529.0 188.4L529.2 189.4L529.4 189.0L529.6 189.3L529.8 188.1L530.0 188.8L530.2 188.9L530.4 189.3L530.6 189.0L530.8 189.9L531.0 189.4L531.2 189.4L531.4 189.5L531.6 189.9L531.8 189.3L532.0 190.2L532.2 189.8L532.4 189.7L532.6 189.7L532.8 190.0L533.0 190.3L533.2 190.3L533.4 190.0L533.6 190.3L533.8 189.9L534.0 190.5L534.2 189.8L534.4 188.7L534.6 190.6L534.8 190.0L535.0 189.3L535.2 189.8L535.4 189.5L535.6 191.1L535.8 190.3L536.0 189.1L536.2 190.3L536.4 189.8L536.6 191.1L536.8 189.5L537.0 188.8L537.2 190.1L537.4 189.9L537.6 189.8L537.8 188.9L538.0 190.3L538.2 191.0L538.4 189.1L538.6 190.8L538.8 189.8L539.0 191.4L539.2 190.4L539.4 190.0L539.6 190.8L539.8 190.4L540.0 189.8L540.2 190.6L540.4 189.9L540.6 189.2L540.8 191.3L541.0 190.0L541.2 189.8L541.4 190.4L541.6 189.3L541.8 189.5L542.0 189.9L542.2 189.9L542.4 190.2L542.6 190.8L542.8 190.0L543.0 190.5L543.2 190.6L543.4 189.6L543.6 190.4L543.8 189.7L544.0 190.8L544.2 190.5L544.4 190.2L544.6 189.5L544.8 190.3L545.0 189.8L545.2 190.6L545.4 190.2L545.6 189.8L545.8 190.8L546.0 190.7L546.2 189.9L546.4 190.9L546.6 190.1L546.8 190.1L547.0 190.3L547.2 189.9L547.4 190.0L547.6 190.2L547.8 191.1L548.0 191.1L548.2 190.1L548.4 191.2L548.6 190.3L548.8 190.5L549.0 190.8L549.2 190.4L549.4 191.6L549.6 190.4L549.8 189.6L550.0 191.0L550.2 190.1L550.4 190.1L550.6 188.6L550.8 190.8L551.0 190.7L551.2 190.7L551.4 190.8L551.6 191.2L551.8 190.3L552.0 190.8L552.2 189.9L552.4 190.1L552.6 190.9L552.8 190.5L553.0 189.5L553.2 190.5L553.4 190.2L553.6 189.8L553.8 190.5L554.0 190.0L554.2 189.4L554.4 189.6L554.6 191.2L554.8 189.4L555.0 190.4L555.2 190.6L555.4 190.6L555.6 189.6L555.8 190.1L556.0 190.3L556.2 190.7L556.4 189.9L556.6 189.6L556.8 190.8L557.0 190.8L557.2 190.4L557.4 189.9L557.6 190.4L557.8 190.3L558.0 190.7L558.2 189.5L558.4 190.3L558.6 190.1L558.8 189.6L559.0 190.3L559.2 190.2L559.4 189.9L559.6 190.4L559.8 189.4L560.0 190.1L560.2 190.4L560.4 190.3L560.6 190.7L560.8 189.5L561.0 189.3L561.2 190.2L561.4 190.3L561.6 191.3L561.8 190.4L562.0 189.6L562.2 190.5L562.4 189.6L562.6 189.2L562.8 191.5L563.0 190.2L563.2 190.4L563.4 190.3L563.6 191.0L563.8 190.1L564.0 190.6L564.2 189.4L564.4 189.2L564.6 190.7L564.8 190.7L565.0 190.2L565.2 190.0L565.4 190.0L565.6 189.5L565.8 190.7L566.0 190.2L566.2 190.1L566.4 190.0L566.6 190.4L566.8 190.0L567.0 190.1L567.2 189.1L567.4 190.0L567.6 190.9L567.8 189.4L568.0 189.5L568.2 190.1L568.4 190.1L568.6 189.9L568.8 188.6L569.0 189.8L569.2 188.8L569.4 189.0L569.6 189.7L569.8 189.2L570.0 189.7L570.2 191.0L570.4 189.6L570.6 189.6L570.8 188.6L571.0 188.7L571.2 188.4L571.4 188.7L571.6 188.3L571.8 188.5L572.0 188.7L572.2 188.2L572.4 187.9L572.6 187.8L572.8 188.7L573.0 188.4L573.2 188.9L573.4 188.8L573.6 188.0L573.8 188.4L574.0 187.1L574.2 189.1L574.4 188.4L574.6 187.5L574.8 186.8L575.0 187.6L575.2 186.2L575.4 186.6L575.6 187.3L575.8 186.8L576.0 186.3L576.2 187.0L576.4 185.7L576.6 186.3L576.8 185.6L577.0 185.3L577.2 185.8L577.4 184.8L577.6 186.2L577.8 184.6L578.0 185.8L578.2 183.9L578.4 184.6L578.6 183.4L578.8 183.1L579.0 183.7L579.2 183.7L579.4 182.4L579.6 183.6L579.8 182.2L580.0 182.5L580.2 182.5L580.4 182.4L580.6 180.9L580.8 182.6L581.0 181.9L581.2 181.2L581.4 180.7L581.6 180.3L581.8 180.4L582.0 181.3L582.2 180.8L582.4 180.4L582.6 180.7L582.8 181.9L583.0 180.9L583.2 180.9L583.4 182.0L583.6 181.7L583.8 181.6L584.0 181.4L584.2 181.0L584.4 181.4L584.6 182.0L584.8 182.3L585.0 182.9L585.2 183.2L585.4 183.2L585.6 183.5L585.8 183.0L586.0 182.6L586.2 183.7L586.4 183.7L586.6 184.1L586.8 184.5L587.0 184.2L587.2 184.5L587.4 185.3L587.6 185.6L587.8 185.3L588.0 186.2L588.2 186.0L588.4 185.7L588.6 186.4L588.8 187.6L589.0 186.4L589.2 187.5L589.4 187.8L589.6 188.0L589.8 186.9L590.0 188.6L590.2 187.6L590.4 187.6L590.6 187.7L590.8 188.2L591.0 188.0L591.2 188.0L591.4 188.9L591.6 187.9L591.8 187.8L592.0 188.9L592.2 188.9L592.4 189.2L592.6 188.1L592.8 189.3L593.0 189.1L593.2 189.8L593.4 188.2L593.6 189.1L593.8 188.9L594.0 188.2L594.2 188.7L594.4 189.8L594.6 189.0L594.8 188.9L595.0 189.8L595.2 189.9L595.4 189.9L595.6 189.0L595.8 189.4L596.0 190.0L596.2 189.1L596.4 189.1L596.6 190.0L596.8 190.4L597.0 189.0L597.2 188.2L597.4 188.8L597.6 189.1L597.8 189.6L598.0 190.0L598.2 189.6L598.4 189.3L598.6 189.8L598.8 189.2L599.0 189.8L599.2 189.4L599.4 191.3L599.6 190.3L599.8 189.4L600.0 189.3L600.2 189.6L600.4 189.0L600.6 189.5L600.8 189.5L601.0 190.4L601.2 189.7L601.4 189.5L601.6 189.2L601.8 189.3L602.0 189.9L602.2 189.8L602.4 190.6L602.6 189.6L602.8 190.6L603.0 190.1L603.2 190.0L603.4 188.9L603.6 189.3L603.8 190.4L604.0 190.8L604.2 190.1L604.4 190.4L604.6 189.8L604.8 189.8L605.0 189.7L605.2 190.6L605.4 190.2L605.6 189.9L605.8 189.9L606.0 190.3L606.2 190.2L606.4 189.6L606.6 191.0L606.8 190.2L607.0 190.1L607.2 190.9L607.4 190.6L607.6 190.0L607.8 190.3L608.0 189.5L608.2 189.7L608.4 188.8L608.6 190.7L608.8 189.0L609.0 190.4L609.2 189.6L609.4 189.5L609.6 189.9L609.8 190.2L610.0 190.4L610.2 191.0L610.4 190.2L610.6 190.5L610.8 189.7L611.0 190.4L611.2 190.1L611.4 189.8L611.6 190.0L611.8 190.0L612.0 190.1L612.2 190.2L612.4 189.7L612.6 189.6L612.8 190.4L613.0 189.1L613.2 189.6L613.4 190.8L613.6 188.5L613.8 189.6L614.0 190.3L614.2 189.0L614.4 191.4L614.6 188.5L614.8 190.7L615.0 190.8L615.2 190.4L615.4 189.8L615.6 190.1L615.8 189.4L616.0 190.3L616.2 189.3L616.4 189.7L616.6 190.4L616.8 189.2L617.0 189.6L617.2 189.9L617.4 189.1L617.6 190.4L617.8 190.0L618.0 188.9L618.2 189.7L618.4 189.3L618.6 189.4L618.8 189.8L619.0 189.3L619.2 190.2L619.4 189.3L619.6 190.2L619.8 189.6L620.0 190.1L620.2 189.3L620.4 189.3L620.6 188.9L620.8 189.8L621.0 190.0L621.2 190.6L621.4 190.2L621.6 189.6L621.8 189.3L622.0 189.6L622.2 189.3L622.4 190.1L622.6 189.8L622.8 188.8L623.0 188.8L623.2 189.9L623.4 189.3L623.6 189.0L623.8 189.7L624.0 188.8L624.2 188.8L624.4 188.7L624.6 187.8L624.8 189.3L625.0 188.2L625.2 188.5L625.4 188.3L625.6 189.1L625.8 188.6L626.0 188.6L626.2 187.6L626.4 188.4L626.6 187.6L626.8 188.5L627.0 188.5L627.2 188.2L627.4 189.3L627.6 188.4L627.8 188.3L628.0 188.0L628.2 187.7L628.4 188.3L628.6 188.3L628.8 186.9L629.0 188.1L629.2 187.7L629.4 187.9L629.6 187.5L629.8 186.5L630.0 186.4L630.2 188.0L630.4 187.0L630.6 186.0L630.8 186.8L631.0 186.3L631.2 185.4L631.4 185.0L631.6 185.3L631.8 186.2L632.0 185.9L632.2 185.7L632.4 185.8L632.6 185.9L632.8 184.2L633.0 185.1L633.2 184.7L633.4 184.3L633.6 184.5L633.8 184.6L634.0 184.4L634.2 183.5L634.4 183.9L634.6 185.1L634.8 183.3L635.0 182.7L635.2 183.6L635.4 183.6L635.6 183.4L635.8 182.3L636.0 183.3L636.2 182.1L636.4 181.7L636.6 181.8L636.8 181.8L637.0 182.0L637.2 181.8L637.4 181.2L637.6 181.5L637.8 180.7L638.0 180.9L638.2 179.4L638.4 179.0L638.6 180.0L638.8 178.6L639.0 178.9L639.2 178.7L639.4 178.1L639.6 177.8L639.8 178.5L640.0 176.1L640.2 177.6L640.4 177.9L640.6 176.4L640.8 176.1L641.0 176.1L641.2 176.2L641.4 174.5L641.6 174.8L641.8 174.3L642.0 174.3L642.2 173.8L642.4 173.7L642.6 173.1L642.8 173.0L643.0 172.6L643.2 172.4L643.4 172.3L643.6 172.2L643.8 172.0L644.0 172.2L644.2 172.0L644.4 171.9L644.6 172.1L644.8 172.0L645.0 172.3L645.2 172.3L645.4 172.6L645.6 172.8L645.8 172.8L646.0 173.2L646.2 174.0L646.4 173.1L646.6 174.1L646.8 174.6L647.0 174.4L647.2 174.6L647.4 176.4L647.6 175.7L647.8 177.2L648.0 176.9L648.2 177.0L648.4 177.6L648.6 178.0L648.8 178.6L649.0 178.6L649.2 178.8L649.4 179.1L649.6 180.1L649.8 180.1L650.0 179.4L650.2 179.9L650.4 180.7L650.6 180.4L650.8 180.8L651.0 180.7L651.2 181.3L651.4 181.9L651.6 182.4L651.8 182.1L652.0 183.4L652.2 182.3L652.4 184.3L652.6 183.2L652.8 183.1L653.0 182.7L653.2 181.5L653.4 183.0L653.6 183.3L653.8 184.3L654.0 182.6L654.2 184.4L654.4 183.3L654.6 183.9L654.8 182.1L655.0 183.6L655.2 183.3L655.4 183.9L655.6 183.5L655.8 182.8L656.0 183.9L656.2 183.7L656.4 183.6L656.6 183.8L656.8 183.7L657.0 183.0L657.2 182.2L657.4 182.1L657.6 183.5L657.8 183.0L658.0 182.5L658.2 182.1L658.4 182.2L658.6 182.0L658.8 181.7L659.0 181.3L659.2 182.7L659.4 181.4L659.6 180.8L659.8 180.2L660.0 180.3L660.2 180.9L660.4 180.7L660.6 179.9L660.8 179.9L661.0 179.5L661.2 178.8L661.4 179.9L661.6 179.2L661.8 180.1L662.0 178.2L662.2 178.3L662.4 178.7L662.6 177.9L662.8 177.1L663.0 177.2L663.2 177.7L663.4 177.7L663.6 177.4L663.8 177.9L664.0 177.9L664.2 177.5L664.4 177.3L664.6 177.2L664.8 177.7L665.0 177.9L665.2 177.6L665.4 177.9L665.6 177.6L665.8 177.2L666.0 177.6L666.2 178.7L666.4 178.7L666.6 179.6L666.8 178.9L667.0 179.6L667.2 180.1L667.4 180.2L667.6 179.5L667.8 180.0L668.0 180.4L668.2 180.1L668.4 181.1L668.6 181.7L668.8 181.1L669.0 182.7L669.2 181.7L669.4 182.0L669.6 182.2" fill="none" stroke="#C00000" stroke-width="2.6" stroke-linejoin="round" stroke-linecap="round"/>
<path d="M35.2 241.0L35.4 243.1L35.6 244.4L35.8 246.8L36.0 247.8L36.2 249.3L36.4 250.3L36.6 251.2L36.8 253.4L37.0 254.5L37.2 256.9L37.4 257.9L37.6 260.3L37.8 261.2L38.0 262.7L38.2 263.8L38.4 265.3L38.6 267.0L38.8 268.6L39.0 269.1L39.2 271.2L39.4 273.8L39.6 273.8L39.8 275.1L40.0 276.3L40.2 277.2L40.4 280.1L40.6 280.8L40.8 282.2L41.0 284.4L41.2 286.0L41.4 285.4L41.6 287.8L41.8 288.9L42.0 290.1L42.2 291.4L42.4 292.4L42.6 294.5L42.8 295.1L43.0 296.0L43.2 297.5L43.4 298.1L43.6 298.6L43.8 299.2L44.0 300.5L44.2 300.4L44.4 300.5L44.6 300.6L44.8 301.2L45.0 301.2L45.2 302.1L45.4 302.4L45.6 301.4L45.8 302.8L46.0 303.3L46.2 303.2L46.4 302.8L46.6 304.1L46.8 303.1L47.0 303.0L47.2 303.2L47.4 303.9L47.6 304.5L47.8 304.7L48.0 304.3L48.2 303.6L48.4 304.0L48.6 304.0L48.8 304.4L49.0 303.7L49.2 304.8L49.4 305.1L49.6 304.8L49.8 305.2L50.0 304.5L50.2 304.3L50.4 304.8L50.6 305.9L50.8 305.8L51.0 305.1L51.2 306.1L51.4 305.3L51.6 306.4L51.8 305.9L52.0 305.4L52.2 306.1L52.4 305.3L52.6 305.3L52.8 305.1L53.0 306.1L53.2 306.0L53.4 306.0L53.6 305.9L53.8 307.0L54.0 306.0L54.2 305.9L54.4 307.0L54.6 307.2L54.8 306.7L55.0 305.6L55.2 306.3L55.4 307.0L55.6 306.7L55.8 307.6L56.0 306.1L56.2 307.3L56.4 306.6L56.6 307.7L56.8 307.0L57.0 307.7L57.2 306.8L57.4 306.5L57.6 306.7L57.8 307.0L58.0 306.8L58.2 308.1L58.4 308.3L58.6 307.7L58.8 307.1L59.0 307.6L59.2 307.4L59.4 308.6L59.6 308.0L59.8 308.2L60.0 307.7L60.2 306.9L60.4 307.6L60.6 307.5L60.8 308.3L61.0 308.2L61.2 307.8L61.4 308.1L61.6 309.2L61.8 307.9L62.0 307.9L62.2 308.3L62.4 308.1L62.6 308.3L62.8 308.9L63.0 309.6L63.2 307.7L63.4 308.7L63.6 308.8L63.8 308.8L64.0 308.8L64.2 308.7L64.4 309.5L64.6 308.7L64.8 309.0L65.0 309.1L65.2 309.2L65.4 309.1L65.6 309.7L65.8 309.2L66.0 309.4L66.2 309.3L66.4 308.8L66.6 308.9L66.8 308.8L67.0 309.6L67.2 309.1L67.4 308.9L67.6 309.7L67.8 309.9L68.0 308.6L68.2 310.6L68.4 309.7L68.6 309.7L68.8 310.3L69.0 309.8L69.2 309.5L69.4 311.1L69.6 309.3L69.8 309.9L70.0 310.4L70.2 309.4L70.4 309.9L70.6 310.2L70.8 311.4L71.0 309.6L71.2 310.1L71.4 310.5L71.6 310.2L71.8 309.6L72.0 310.5L72.2 310.3L72.4 310.5L72.6 311.0L72.8 310.9L73.0 310.6L73.2 310.6L73.4 309.8L73.6 310.4L73.8 310.6L74.0 310.3L74.2 310.6L74.4 310.1L74.6 311.4L74.8 311.8L75.0 310.4L75.2 310.9L75.4 310.6L75.6 311.4L75.8 311.0L76.0 310.8L76.2 310.7L76.4 310.9L76.6 310.3L76.8 311.3L77.0 310.5L77.2 311.2L77.4 311.0L77.6 311.6L77.8 311.0L78.0 311.6L78.2 310.6L78.4 311.4L78.6 311.0L78.8 311.2L79.0 311.2L79.2 311.7L79.4 310.1L79.6 311.4L79.8 310.4L80.0 311.9L80.2 310.2L80.4 310.8L80.6 310.4L80.8 312.3L81.0 310.7L81.2 311.5L81.4 311.1L81.6 310.5L81.8 311.3L82.0 311.9L82.2 311.4L82.4 312.1L82.6 311.4L82.8 311.6L83.0 311.4L83.2 311.8L83.4 312.7L83.6 311.9L83.8 311.8L84.0 311.4L84.2 311.3L84.4 312.5L84.6 311.2L84.8 311.3L85.0 311.8L85.2 311.6L85.4 312.9L85.6 310.6L85.8 312.1L86.0 312.3L86.2 311.3L86.4 311.6L86.6 312.2L86.8 312.9L87.0 311.5L87.2 311.2L87.4 312.6L87.6 312.9L87.8 311.9L88.0 310.9L88.2 312.9L88.4 312.0L88.6 312.8L88.8 312.1L89.0 312.0L89.2 312.0L89.4 313.0L89.6 313.0L89.8 311.1L90.0 311.8L90.2 313.3L90.4 312.1L90.6 311.6L90.8 312.4L91.0 312.3L91.2 312.3L91.4 312.1L91.6 312.3L91.8 312.2L92.0 312.6L92.2 312.0L92.4 312.3L92.6 312.4L92.8 313.2L93.0 312.8L93.2 312.5L93.4 312.9L93.6 312.8L93.8 313.2L94.0 312.9L94.2 313.6L94.4 313.4L94.6 312.7L94.8 312.5L95.0 313.2L95.2 313.0L95.4 312.7L95.6 312.0L95.8 311.8L96.0 313.0L96.2 313.2L96.4 313.3L96.6 312.1L96.8 313.4L97.0 312.6L97.2 313.1L97.4 313.1L97.6 312.5L97.8 312.6L98.0 311.8L98.2 312.5L98.4 312.0L98.6 313.2L98.8 313.0L99.0 313.5L99.2 313.2L99.4 312.7L99.6 313.3L99.8 312.9L100.0 313.4L100.2 313.3L100.4 312.6L100.6 313.1L100.8 313.2L101.0 313.0L101.2 313.7L101.4 314.1L101.6 313.0L101.8 313.0L102.0 312.0L102.2 313.2L102.4 313.0L102.6 312.1L102.8 313.5L103.0 313.6L103.2 312.9L103.4 313.1L103.6 312.8L103.8 313.8L104.0 312.6L104.2 313.2L104.4 314.5L104.6 313.5L104.8 313.7L105.0 313.4L105.2 312.8L105.4 313.5L105.6 313.7L105.8 312.9L106.0 313.7L106.2 314.2L106.4 314.1L106.6 312.7L106.8 313.0L107.0 312.7L107.2 314.2L107.4 314.0L107.6 314.0L107.8 313.2L108.0 313.0L108.2 313.7L108.4 313.7L108.6 313.2L108.8 313.8L109.0 314.1L109.2 313.9L109.4 313.2L109.6 312.6L109.8 313.6L110.0 313.9L110.2 313.7L110.4 313.6L110.6 313.4L110.8 314.2L111.0 313.8L111.2 313.9L111.4 313.3L111.6 313.5L111.8 314.0L112.0 313.4L112.2 313.2L112.4 313.8L112.6 314.6L112.8 314.1L113.0 314.8L113.2 313.9L113.4 313.8L113.6 313.2L113.8 313.7L114.0 314.8L114.2 314.2L114.4 314.5L114.6 314.5L114.8 314.1L115.0 314.0L115.2 314.2L115.4 314.5L115.6 314.4L115.8 314.4L116.0 314.2L116.2 313.7L116.4 314.0L116.6 313.7L116.8 314.8L117.0 313.1L117.2 314.1L117.4 315.6L117.6 314.1L117.8 313.6L118.0 314.3L118.2 315.0L118.4 314.2L118.6 314.7L118.8 314.4L119.0 314.1L119.2 316.1L119.4 314.4L119.6 314.1L119.8 314.1L120.0 314.6L120.2 314.6L120.4 314.8L120.6 314.5L120.8 313.7L121.0 314.7L121.2 314.3L121.4 314.3L121.6 313.7L121.8 314.2L122.0 314.1L122.2 314.5L122.4 313.7L122.6 314.6L122.8 314.6L123.0 314.0L123.2 314.2L123.4 314.1L123.6 315.1L123.8 313.2L124.0 314.4L124.2 313.7L124.4 314.4L124.6 315.1L124.8 314.3L125.0 314.8L125.2 314.2L125.4 315.8L125.6 315.2L125.8 315.3L126.0 314.0L126.2 314.1L126.4 315.4L126.6 314.7L126.8 314.6L127.0 315.0L127.2 314.1L127.4 315.2L127.6 314.8L127.8 315.1L128.0 314.5L128.2 315.1L128.4 314.5L128.6 315.4L128.8 315.5L129.0 315.4L129.2 315.2L129.4 315.3L129.6 313.4L129.8 315.4L130.0 314.8L130.2 315.0L130.4 314.8L130.6 314.2L130.8 314.7L131.0 315.4L131.2 315.8L131.4 314.7L131.6 314.5L131.8 315.8L132.0 314.5L132.2 316.2L132.4 315.1L132.6 314.6L132.8 315.6L133.0 316.0L133.2 314.3L133.4 316.0L133.6 315.0L133.8 315.9L134.0 314.9L134.2 314.3L134.4 315.4L134.6 315.7L134.8 316.3L135.0 316.1L135.2 315.6L135.4 315.0L135.6 314.9L135.8 315.0L136.0 314.7L136.2 315.1L136.4 313.8L136.6 315.3L136.8 315.2L137.0 316.7L137.2 315.7L137.4 315.0L137.6 315.6L137.8 314.6L138.0 314.9L138.2 314.3L138.4 316.1L138.6 315.6L138.8 314.7L139.0 315.3L139.2 315.8L139.4 315.6L139.6 315.5L139.8 314.9L140.0 315.0L140.2 315.4L140.4 315.9L140.6 314.9L140.8 314.8L141.0 316.0L141.2 314.9L141.4 316.0L141.6 315.5L141.8 315.9L142.0 316.4L142.2 315.8L142.4 315.8L142.6 314.9L142.8 315.0L143.0 315.8L143.2 316.3L143.4 316.2L143.6 316.7L143.8 315.6L144.0 315.6L144.2 316.0L144.4 315.5L144.6 315.4L144.8 314.9L145.0 316.0L145.2 314.9L145.4 315.8L145.6 314.7L145.8 316.1L146.0 314.9L146.2 316.0L146.4 314.6L146.6 315.3L146.8 316.2L147.0 315.1L147.2 315.6L147.4 315.3L147.6 314.3L147.8 315.7L148.0 315.8L148.2 314.9L148.4 315.9L148.6 315.1L148.8 315.0L149.0 315.6L149.2 315.2L149.4 316.8L149.6 314.7L149.8 316.0L150.0 316.1L150.2 314.5L150.4 314.7L150.6 315.9L150.8 315.4L151.0 315.8L151.2 316.3L151.4 315.4L151.6 315.0L151.8 314.1L152.0 315.8L152.2 315.1L152.4 315.8L152.6 315.8L152.8 314.9L153.0 316.6L153.2 316.3L153.4 316.1L153.6 315.0L153.8 315.5L154.0 315.4L154.2 315.5L154.4 315.1L154.6 315.9L154.8 315.8L155.0 315.9L155.2 315.4L155.4 316.4L155.6 315.8L155.8 314.2L156.0 315.4L156.2 315.7L156.4 316.3L156.6 315.6L156.8 315.6L157.0 315.4L157.2 316.1L157.4 315.5L157.6 315.4L157.8 315.3L158.0 316.1L158.2 315.5L158.4 314.8L158.6 316.1L158.8 315.4L159.0 316.0L159.2 316.0L159.4 316.4L159.6 316.4L159.8 315.5L160.0 315.7L160.2 315.1L160.4 316.7L160.6 316.0L160.8 316.6L161.0 315.6L161.2 314.7L161.4 316.6L161.6 315.9L161.8 315.9L162.0 315.8L162.2 316.2L162.4 316.1L162.6 314.9L162.8 316.4L163.0 315.5L163.2 315.6L163.4 316.8L163.6 316.3L163.8 315.7L164.0 314.8L164.2 315.9L164.4 316.1L164.6 315.8L164.8 315.2L165.0 315.4L165.2 315.2L165.4 316.0L165.6 316.3L165.8 316.4L166.0 315.5L166.2 316.0L166.4 316.2L166.6 315.6L166.8 315.8L167.0 317.0L167.2 316.0L167.4 316.4L167.6 315.6L167.8 315.9L168.0 314.9L168.2 315.9L168.4 316.5L168.6 317.0L168.8 316.6L169.0 316.3L169.2 315.9L169.4 315.6L169.6 315.8L169.8 316.2L170.0 315.5L170.2 316.4L170.4 315.4L170.6 314.9L170.8 315.4L171.0 315.0L171.2 315.2L171.4 316.5L171.6 315.8L171.8 316.0L172.0 316.6L172.2 316.6L172.4 315.6L172.6 316.7L172.8 316.1L173.0 315.9L173.2 316.2L173.4 315.1L173.6 315.5L173.8 315.9L174.0 316.3L174.2 315.7L174.4 315.9L174.6 316.5L174.8 316.7L175.0 316.4L175.2 316.6L175.4 315.7L175.6 315.8L175.8 316.1L176.0 315.8L176.2 315.7L176.4 316.8L176.6 315.8L176.8 315.4L177.0 316.2L177.2 316.9L177.4 316.0L177.6 316.6L177.8 315.7L178.0 315.7L178.2 315.6L178.4 315.9L178.6 316.9L178.8 315.3L179.0 316.8L179.2 315.4L179.4 315.8L179.6 316.4L179.8 316.3L180.0 316.1L180.2 315.0L180.4 316.1L180.6 315.4L180.8 317.3L181.0 315.8L181.2 316.0L181.4 315.3L181.6 315.7L181.8 315.2L182.0 316.5L182.2 315.8L182.4 316.2L182.6 315.5L182.8 315.6L183.0 316.6L183.2 315.4L183.4 314.9L183.6 316.1L183.8 315.3L184.0 315.7L184.2 316.4L184.4 315.5L184.6 316.4L184.8 315.5L185.0 316.7L185.2 316.6L185.4 315.6L185.6 315.8L185.8 315.4L186.0 316.0L186.2 316.5L186.4 315.1L186.6 316.4L186.8 315.2L187.0 315.4L187.2 314.9L187.4 317.0L187.6 315.9L187.8 316.0L188.0 315.5L188.2 316.5L188.4 314.7L188.6 315.9L188.8 317.1L189.0 315.6L189.2 315.9L189.4 316.2L189.6 315.4L189.8 315.8L190.0 316.4L190.2 315.9L190.4 316.0L190.6 315.6L190.8 316.0L191.0 315.8L191.2 316.6L191.4 316.2L191.6 315.7L191.8 314.4L192.0 316.2L192.2 316.2L192.4 315.3L192.6 314.7L192.8 315.1L193.0 316.3L193.2 315.2L193.4 315.5L193.6 315.9L193.8 316.4L194.0 315.7L194.2 315.7L194.4 315.4L194.6 316.6L194.8 316.3L195.0 315.6L195.2 314.9L195.4 315.3L195.6 316.0L195.8 315.3L196.0 316.2L196.2 315.9L196.4 315.8L196.6 316.0L196.8 315.9L197.0 315.2L197.2 315.4L197.4 316.9L197.6 314.9L197.8 315.3L198.0 316.2L198.2 315.5L198.4 315.1L198.6 314.8L198.8 315.8L199.0 316.1L199.2 316.3L199.4 315.5L199.6 316.1L199.8 314.9L200.0 315.6L200.2 315.1L200.4 315.6L200.6 315.9L200.8 316.0L201.0 314.9L201.2 316.1L201.4 315.1L201.6 314.8L201.8 315.3L202.0 314.5L202.2 315.3L202.4 315.5L202.6 315.2L202.8 315.6L203.0 315.1L203.2 315.3L203.4 314.4L203.6 315.2L203.8 314.7L204.0 314.9L204.2 315.1L204.4 315.3L204.6 314.2L204.8 314.3L205.0 314.9L205.2 315.3L205.4 315.2L205.6 315.5L205.8 315.7L206.0 315.3L206.2 315.0L206.4 314.4L206.6 314.4L206.8 314.6L207.0 315.0L207.2 315.0L207.4 314.8L207.6 314.7L207.8 315.1L208.0 314.8L208.2 314.9L208.4 314.8L208.6 314.3L208.8 314.0L209.0 314.8L209.2 314.8L209.4 314.4L209.6 314.2L209.8 315.7L210.0 314.0L210.2 314.2L210.4 314.5L210.6 313.6L210.8 314.3L211.0 315.2L211.2 314.6L211.4 314.4L211.6 314.4L211.8 314.1L212.0 314.5L212.2 313.8L212.4 313.6L212.6 313.8L212.8 314.2L213.0 313.8L213.2 314.0L213.4 312.4L213.6 314.1L213.8 314.7L214.0 314.1L214.2 313.1L214.4 312.7L214.6 313.3L214.8 312.5L215.0 313.4L215.2 312.6L215.4 313.3L215.6 313.4L215.8 311.5L216.0 312.7L216.2 312.0L216.4 311.5L216.6 311.9L216.8 312.0L217.0 312.5L217.2 311.0L217.4 312.3L217.6 312.7L217.8 311.8L218.0 311.7L218.2 311.2L218.4 310.4L218.6 311.2L218.8 311.0L219.0 311.0L219.2 311.9L219.4 310.7L219.6 310.3L219.8 310.8L220.0 309.0L220.2 308.9L220.4 309.1L220.6 308.8L220.8 309.3L221.0 308.5L221.2 309.4L221.4 309.0L221.6 308.4L221.8 307.5L222.0 307.7L222.2 307.6L222.4 306.2L222.6 306.7L222.8 306.6L223.0 306.0L223.2 306.3L223.4 305.8L223.6 304.2L223.8 304.3L224.0 303.4L224.2 303.7L224.4 302.4L224.6 302.9L224.8 302.0L225.0 301.7L225.2 300.5L225.4 299.1L225.6 300.2L225.8 298.3L226.0 298.4L226.2 297.0L226.4 296.2L226.6 295.8L226.8 293.9L227.0 293.3L227.2 290.5L227.4 290.5L227.6 288.4L227.8 287.0L228.0 285.4L228.2 283.9L228.4 282.7L228.6 278.8L228.8 277.8L229.0 275.1L229.2 273.8L229.4 270.4L229.6 268.3L229.8 265.0L230.0 262.7L230.2 259.8L230.4 255.9L230.6 252.8L230.8 248.7L231.0 246.0L231.2 242.7L231.4 238.4L231.6 235.3L231.8 230.4L232.0 226.8L232.2 223.4L232.4 220.1L232.6 216.9L232.8 213.7L233.0 210.8L233.2 208.3L233.4 206.0L233.6 204.1L233.8 202.9L234.0 202.4L234.2 201.8L234.4 202.3L234.6 203.3L234.8 204.6L235.0 206.3L235.2 208.6L235.4 211.5L235.6 214.5L235.8 217.3L236.0 221.2L236.2 224.7L236.4 228.7L236.6 232.6L236.8 235.8L237.0 239.1L237.2 243.7L237.4 248.0L237.6 251.1L237.8 254.3L238.0 258.8L238.2 260.3L238.4 264.4L238.6 266.6L238.8 269.8L239.0 272.5L239.2 275.8L239.4 276.9L239.6 279.3L239.8 280.9L240.0 284.0L240.2 285.4L240.4 287.6L240.6 288.5L240.8 290.4L241.0 292.6L241.2 293.3L241.4 294.9L241.6 296.0L241.8 296.6L242.0 296.9L242.2 299.3L242.4 299.7L242.6 300.9L242.8 300.0L243.0 300.9L243.2 301.3L243.4 302.6L243.6 304.2L243.8 304.4L244.0 304.6L244.2 305.1L244.4 305.9L244.6 305.7L244.8 306.4L245.0 306.7L245.2 305.7L245.4 307.0L245.6 308.3L245.8 307.6L246.0 308.0L246.2 308.0L246.4 308.3L246.6 309.4L246.8 308.8L247.0 308.6L247.2 307.7L247.4 309.2L247.6 308.7L247.8 308.9L248.0 310.5L248.2 310.6L248.4 309.3L248.6 311.0L248.8 310.9L249.0 310.4L249.2 311.3L249.4 310.1L249.6 310.5L249.8 310.5L250.0 310.8L250.2 311.9L250.4 310.8L250.6 311.0L250.8 311.2L251.0 311.9L251.2 311.7L251.4 312.5L251.6 311.7L251.8 311.4L252.0 311.9L252.2 312.3L252.4 311.8L252.6 312.6L252.8 313.5L253.0 312.2L253.2 312.6L253.4 313.4L253.6 312.3L253.8 312.3L254.0 312.2L254.2 313.0L254.4 313.1L254.6 312.8L254.8 313.0L255.0 313.7L255.2 313.5L255.4 312.3L255.6 313.0L255.8 313.1L256.0 313.5L256.2 313.0L256.4 312.8L256.6 312.9L256.8 312.2L257.0 313.2L257.2 312.9L257.4 313.5L257.6 312.6L257.8 313.0L258.0 312.7L258.2 312.6L258.4 313.6L258.6 313.0L258.8 313.5L259.0 312.6L259.2 313.2L259.4 312.3L259.6 312.9L259.8 312.9L260.0 313.4L260.2 313.2L260.4 313.0L260.6 313.5L260.8 313.1L261.0 313.3L261.2 313.4L261.4 312.9L261.6 312.7L261.8 313.0L262.0 312.5L262.2 312.9L262.4 313.2L262.6 313.0L262.8 312.2L263.0 311.6L263.2 312.2L263.4 312.1L263.6 312.6L263.8 311.7L264.0 311.6L264.2 312.0L264.4 311.2L264.6 311.2L264.8 312.0L265.0 311.7L265.2 310.9L265.4 310.5L265.6 309.5L265.8 310.0L266.0 309.4L266.2 309.1L266.4 308.3L266.6 308.2L266.8 307.6L267.0 307.4L267.2 307.4L267.4 306.3L267.6 304.5L267.8 304.2L268.0 303.2L268.2 302.8L268.4 302.7L268.6 301.8L268.8 300.4L269.0 299.8L269.2 298.4L269.4 297.0L269.6 296.0L269.8 295.2L270.0 294.9L270.2 292.8L270.4 292.5L270.6 291.4L270.8 289.8L271.0 288.8L271.2 287.7L271.4 286.9L271.6 286.1L271.8 285.3L272.0 284.9L272.2 284.4L272.4 284.1L272.6 284.0L272.8 284.1L273.0 284.4L273.2 284.7L273.4 285.5L273.6 286.2L273.8 286.8L274.0 288.4L274.2 288.7L274.4 289.8L274.6 291.3L274.8 291.7L275.0 293.2L275.2 294.0L275.4 295.4L275.6 296.8L275.8 298.1L276.0 299.6L276.2 300.5L276.4 301.6L276.6 302.3L276.8 302.6L277.0 304.3L277.2 304.2L277.4 304.9L277.6 306.8L277.8 307.0L278.0 307.3L278.2 308.2L278.4 308.8L278.6 308.0L278.8 309.2L279.0 309.0L279.2 310.1L279.4 310.1L279.6 311.5L279.8 311.4L280.0 310.9L280.2 311.6L280.4 311.2L280.6 312.1L280.8 312.6L281.0 312.6L281.2 311.6L281.4 312.6L281.6 313.3L281.8 313.3L282.0 313.9L282.2 312.7L282.4 313.8L282.6 313.2L282.8 313.8L283.0 314.0L283.2 314.3L283.4 313.7L283.6 314.2L283.8 313.5L284.0 313.4L284.2 314.6L284.4 314.3L284.6 313.5L284.8 314.0L285.0 314.5L285.2 315.4L285.4 315.2L285.6 315.1L285.8 313.8L286.0 314.7L286.2 315.1L286.4 315.1L286.6 315.2L286.8 314.8L287.0 316.0L287.2 315.9L287.4 315.0L287.6 314.6L287.8 316.3L288.0 314.9L288.2 315.9L288.4 316.3L288.6 314.8L288.8 315.5L289.0 315.1L289.2 315.6L289.4 315.6L289.6 316.5L289.8 315.8L290.0 315.5L290.2 316.1L290.4 315.4L290.6 315.3L290.8 316.8L291.0 315.1L291.2 315.3L291.4 315.6L291.6 315.1L291.8 314.5L292.0 316.3L292.2 315.3L292.4 315.4L292.6 315.5L292.8 315.2L293.0 315.2L293.2 315.9L293.4 317.1L293.6 316.2L293.8 316.2L294.0 315.0L294.2 315.8L294.4 315.2L294.6 316.3L294.8 315.8L295.0 315.9L295.2 315.9L295.4 315.6L295.6 315.1L295.8 316.3L296.0 315.2L296.2 315.3L296.4 315.8L296.6 315.6L296.8 316.1L297.0 316.6L297.2 316.2L297.4 316.1L297.6 316.0L297.8 316.5L298.0 315.0L298.2 316.3L298.4 315.6L298.6 315.4L298.8 316.1L299.0 315.9L299.2 316.4L299.4 316.7L299.6 314.8L299.8 316.1L300.0 317.2L300.2 316.6L300.4 316.9L300.6 316.2L300.8 315.4L301.0 315.5L301.2 316.5L301.4 316.7L301.6 315.8L301.8 316.0L302.0 316.3L302.2 315.2L302.4 316.0L302.6 317.0L302.8 317.4L303.0 316.1L303.2 317.1L303.4 315.8L303.6 315.7L303.8 314.9L304.0 316.6L304.2 315.9L304.4 317.4L304.6 316.2L304.8 316.1L305.0 315.0L305.2 316.8L305.4 315.8L305.6 315.9L305.8 314.7L306.0 316.4L306.2 316.4L306.4 315.5L306.6 315.9L306.8 316.0L307.0 316.3L307.2 315.8L307.4 316.7L307.6 315.6L307.8 315.4L308.0 315.5L308.2 314.4L308.4 315.3L308.6 316.4L308.8 316.0L309.0 315.4L309.2 316.1L309.4 314.8L309.6 315.8L309.8 316.3L310.0 316.4L310.2 315.6L310.4 316.6L310.6 317.1L310.8 315.9L311.0 316.6L311.2 315.4L311.4 315.2L311.6 316.6L311.8 316.3L312.0 316.4L312.2 316.0L312.4 316.2L312.6 316.8L312.8 317.3L313.0 316.3L313.2 315.5L313.4 317.1L313.6 316.8L313.8 316.8L314.0 316.6L314.2 317.8L314.4 316.5L314.6 316.8L314.8 315.5L315.0 316.2L315.2 316.2L315.4 316.5L315.6 316.7L315.8 316.2L316.0 317.5L316.2 316.0L316.4 316.3L316.6 316.7L316.8 315.9L317.0 316.9L317.2 317.0L317.4 316.4L317.6 317.7L317.8 316.7L318.0 316.8L318.2 316.1L318.4 315.7L318.6 316.3L318.8 316.5L319.0 316.4L319.2 317.1L319.4 315.3L319.6 316.0L319.8 315.7L320.0 317.4L320.2 316.4L320.4 316.4L320.6 316.1L320.8 317.2L321.0 316.5L321.2 316.8L321.4 315.6L321.6 317.3L321.8 316.9L322.0 317.0L322.2 317.4L322.4 316.6L322.6 316.6L322.8 317.1L323.0 316.9L323.2 316.6L323.4 316.7L323.6 316.4L323.8 317.1L324.0 317.2L324.2 316.7L324.4 317.8L324.6 315.9L324.8 316.6L325.0 317.7L325.2 316.5L325.4 315.9L325.6 317.5L325.8 317.0L326.0 316.1L326.2 317.2L326.4 316.2L326.6 316.0L326.8 316.7L327.0 316.5L327.2 316.1L327.4 316.5L327.6 316.2L327.8 316.8L328.0 316.7L328.2 317.2L328.4 316.5L328.6 316.0L328.8 316.0L329.0 316.6L329.2 317.6L329.4 317.2L329.6 316.4L329.8 317.3L330.0 316.1L330.2 317.3L330.4 316.5L330.6 317.2L330.8 317.1L331.0 316.6L331.2 316.9L331.4 316.2L331.6 316.7L331.8 317.4L332.0 319.0L332.2 317.1L332.4 316.8L332.6 316.2L332.8 317.3L333.0 315.8L333.2 316.3L333.4 316.9L333.6 316.1L333.8 317.6L334.0 317.3L334.2 316.4L334.4 316.4L334.6 316.0L334.8 316.0L335.0 317.0L335.2 317.1L335.4 316.9L335.6 316.9L335.8 316.4L336.0 316.9L336.2 315.9L336.4 316.7L336.6 317.5L336.8 317.4L337.0 316.5L337.2 316.5L337.4 317.5L337.6 317.7L337.8 315.9L338.0 316.4L338.2 316.8L338.4 317.3L338.6 316.2L338.8 317.0L339.0 316.5L339.2 318.0L339.4 316.9L339.6 316.6L339.8 316.4L340.0 317.2L340.2 317.0L340.4 316.0L340.6 316.7L340.8 315.8L341.0 316.2L341.2 315.9L341.4 315.8L341.6 316.2L341.8 316.0L342.0 316.8L342.2 317.0L342.4 316.4L342.6 315.9L342.8 316.9L343.0 315.3L343.2 315.4L343.4 316.8L343.6 316.8L343.8 316.9L344.0 316.2L344.2 315.6L344.4 316.0L344.6 316.6L344.8 315.8L345.0 315.8L345.2 315.4L345.4 315.5L345.6 316.6L345.8 316.3L346.0 315.4L346.2 315.4L346.4 315.6L346.6 316.1L346.8 315.1L347.0 315.6L347.2 314.4L347.4 314.8L347.6 315.6L347.8 315.7L348.0 314.4L348.2 314.4L348.4 315.1L348.6 314.2L348.8 313.9L349.0 314.2L349.2 313.7L349.4 313.9L349.6 313.4L349.8 312.3L350.0 312.1L350.2 311.8L350.4 310.6L350.6 310.4L350.8 311.0L351.0 309.2L351.2 310.2L351.4 309.4L351.6 308.9L351.8 309.0L352.0 308.7L352.2 309.0L352.4 308.0L352.6 308.2L352.8 308.3L353.0 309.6L353.2 309.3L353.4 308.6L353.6 309.2L353.8 309.3L354.0 310.0L354.2 310.4L354.4 311.9L354.6 309.9L354.8 311.7L355.0 311.6L355.2 311.2L355.4 311.7L355.6 311.6L355.8 312.0L356.0 312.6L356.2 311.3L356.4 312.9L356.6 312.0L356.8 313.1L357.0 312.5L357.2 312.9L357.4 312.5L357.6 312.8L357.8 312.2L358.0 311.7L358.2 312.5L358.4 312.5L358.6 313.3L358.8 311.1L359.0 312.1L359.2 312.9L359.4 311.6L359.6 312.3L359.8 313.7L360.0 313.4L360.2 312.2L360.4 313.6L360.6 313.6L360.8 313.6L361.0 313.5L361.2 313.5L361.4 313.1L361.6 313.4L361.8 314.2L362.0 314.0L362.2 315.1L362.4 314.0L362.6 313.0L362.8 314.3L363.0 314.7L363.2 314.9L363.4 314.8L363.6 314.4L363.8 315.7L364.0 314.6L364.2 315.4L364.4 314.9L364.6 314.4L364.8 315.9L365.0 313.8L365.2 314.7L365.4 315.4L365.6 314.9L365.8 315.5L366.0 315.0L366.2 314.7L366.4 316.0L366.6 314.6L366.8 314.5L367.0 313.8L367.2 313.8L367.4 314.3L367.6 314.0L367.8 313.4L368.0 312.7L368.2 313.2L368.4 311.5L368.6 312.0L368.8 311.8L369.0 311.2L369.2 311.6L369.4 311.1L369.6 311.1L369.8 312.6L370.0 312.2L370.2 312.7L370.4 312.4L370.6 313.2L370.8 313.4L371.0 313.9L371.2 314.8L371.4 313.6L371.6 314.1L371.8 314.1L372.0 312.4L372.2 313.7L372.4 314.6L372.6 315.0L372.8 314.4L373.0 315.4L373.2 315.5L373.4 314.6L373.6 315.7L373.8 315.9L374.0 315.2L374.2 314.4L374.4 315.7L374.6 314.8L374.8 314.7L375.0 314.9L375.2 314.5L375.4 315.4L375.6 315.2L375.8 315.4L376.0 315.0L376.2 314.3L376.4 314.6L376.6 315.1L376.8 314.4L377.0 316.1L377.2 314.4L377.4 314.1L377.6 315.0L377.8 314.8L378.0 314.3L378.2 314.1L378.4 314.4L378.6 314.6L378.8 314.5L379.0 313.8L379.2 314.2L379.4 314.3L379.6 314.2L379.8 312.0L380.0 313.1L380.2 313.1L380.4 313.3L380.6 313.5L380.8 313.8L381.0 313.5L381.2 313.0L381.4 313.0L381.6 313.8L381.8 312.4L382.0 312.8L382.2 313.3L382.4 312.5L382.6 311.0L382.8 312.2L383.0 311.6L383.2 311.6L383.4 312.1L383.6 311.5L383.8 310.9L384.0 311.3L384.2 310.8L384.4 310.4L384.6 310.3L384.8 309.9L385.0 309.3L385.2 308.9L385.4 308.8L385.6 307.9L385.8 307.4L386.0 308.4L386.2 307.1L386.4 306.7L386.6 306.2L386.8 305.7L387.0 305.1L387.2 304.6L387.4 303.4L387.6 303.7L387.8 302.1L388.0 302.3L388.2 299.9L388.4 299.5L388.6 299.8L388.8 298.2L389.0 297.0L389.2 296.5L389.4 294.7L389.6 294.2L389.8 291.8L390.0 291.5L390.2 290.2L390.4 289.5L390.6 288.3L390.8 286.1L391.0 285.9L391.2 283.4L391.4 281.2L391.6 279.6L391.8 279.9L392.0 277.6L392.2 275.9L392.4 274.4L392.6 272.8L392.8 272.2L393.0 270.4L393.2 269.6L393.4 267.8L393.6 266.2L393.8 265.8L394.0 264.7L394.2 264.0L394.4 263.6L394.6 262.9L394.8 262.8L395.0 262.6L395.2 262.6L395.4 263.0L395.6 263.3L395.8 264.2L396.0 264.9L396.2 265.7L396.4 266.8L396.6 268.0L396.8 269.0L397.0 270.6L397.2 271.7L397.4 273.4L397.6 274.3L397.8 276.2L398.0 277.8L398.2 278.8L398.4 280.5L398.6 281.9L398.8 284.0L399.0 284.7L399.2 286.7L399.4 288.6L399.6 289.4L399.8 289.6L400.0 291.8L400.2 293.5L400.4 293.9L400.6 295.8L400.8 296.6L401.0 297.5L401.2 298.1L401.4 298.9L401.6 299.9L401.8 300.9L402.0 302.0L402.2 302.6L402.4 303.0L402.6 303.8L402.8 304.6L403.0 304.1L403.2 305.2L403.4 305.7L403.6 306.5L403.8 306.9L404.0 307.3L404.2 307.4L404.4 308.6L404.6 308.7L404.8 308.0L405.0 309.2L405.2 308.9L405.4 310.7L405.6 309.7L405.8 309.9L406.0 310.4L406.2 310.4L406.4 310.6L406.6 311.7L406.8 311.0L407.0 311.5L407.2 311.7L407.4 310.7L407.6 312.2L407.8 311.7L408.0 311.9L408.2 311.0L408.4 311.9L408.6 311.7L408.8 311.2L409.0 312.8L409.2 311.9L409.4 311.5L409.6 311.8L409.8 312.2L410.0 312.4L410.2 312.2L410.4 312.6L410.6 312.9L410.8 311.5L411.0 312.0L411.2 311.9L411.4 312.5L411.6 313.4L411.8 313.1L412.0 312.3L412.2 312.9L412.4 313.7L412.6 313.0L412.8 313.4L413.0 313.8L413.2 312.7L413.4 314.3L413.6 314.1L413.8 314.4L414.0 313.6L414.2 313.9L414.4 314.1L414.6 314.6L414.8 314.6L415.0 314.7L415.2 315.7L415.4 315.5L415.6 314.5L415.8 314.6L416.0 315.9L416.2 314.9L416.4 315.9L416.6 316.0L416.8 314.9L417.0 315.1L417.2 315.3L417.4 314.8L417.6 314.8L417.8 315.2L418.0 315.9L418.2 315.2L418.4 315.4L418.6 315.2L418.8 314.8L419.0 316.4L419.2 314.3L419.4 315.2L419.6 315.9L419.8 314.9L420.0 316.0L420.2 316.4L420.4 315.2L420.6 315.8L420.8 315.1L421.0 316.0L421.2 315.8L421.4 315.9L421.6 316.6L421.8 316.1L422.0 316.6L422.2 316.2L422.4 315.2L422.6 316.0L422.8 316.2L423.0 315.1L423.2 316.6L423.4 316.0L423.6 316.1L423.8 315.5L424.0 316.0L424.2 316.1L424.4 315.8L424.6 316.0L424.8 314.8L425.0 316.8L425.2 315.4L425.4 314.8L425.6 315.5L425.8 315.6L426.0 316.4L426.2 315.6L426.4 316.2L426.6 315.6L426.8 317.3L427.0 316.4L427.2 317.2L427.4 315.6L427.6 316.5L427.8 315.6L428.0 316.4L428.2 316.5L428.4 315.3L428.6 315.5L428.8 315.5L429.0 315.3L429.2 315.8L429.4 315.6L429.6 315.4L429.8 316.2L430.0 316.5L430.2 315.5L430.4 315.9L430.6 316.2L430.8 316.1L431.0 315.8L431.2 316.6L431.4 316.7L431.6 316.6L431.8 316.1L432.0 317.3L432.2 317.2L432.4 316.0L432.6 316.1L432.8 316.9L433.0 315.8L433.2 316.4L433.4 316.2L433.6 315.8L433.8 316.1L434.0 315.3L434.2 315.9L434.4 315.1L434.6 317.5L434.8 317.0L435.0 316.9L435.2 316.4L435.4 316.7L435.6 316.9L435.8 316.7L436.0 316.7L436.2 315.7L436.4 316.4L436.6 315.9L436.8 315.5L437.0 315.5L437.2 316.4L437.4 316.7L437.6 315.4L437.8 317.1L438.0 317.0L438.2 315.9L438.4 315.9L438.6 316.1L438.8 316.7L439.0 315.9L439.2 315.5L439.4 316.3L439.6 315.0L439.8 316.2L440.0 316.7L440.2 316.3L440.4 316.5L440.6 316.3L440.8 316.5L441.0 316.1L441.2 315.6L441.4 315.9L441.6 316.0L441.8 316.7L442.0 316.9L442.2 316.2L442.4 315.6L442.6 315.6L442.8 315.9L443.0 316.7L443.2 316.1L443.4 315.9L443.6 315.5L443.8 316.4L444.0 316.1L444.2 315.9L444.4 315.9L444.6 316.8L444.8 315.8L445.0 316.8L445.2 316.5L445.4 315.8L445.6 316.3L445.8 315.7L446.0 315.3L446.2 315.6L446.4 315.2L446.6 316.0L446.8 315.7L447.0 316.0L447.2 316.1L447.4 313.9L447.6 315.8L447.8 314.6L448.0 315.7L448.2 315.1L448.4 315.6L448.6 316.3L448.8 314.5L449.0 315.6L449.2 315.4L449.4 314.4L449.6 315.7L449.8 315.4L450.0 315.0L450.2 314.9L450.4 317.0L450.6 315.0L450.8 314.2L451.0 314.7L451.2 314.9L451.4 314.9L451.6 315.0L451.8 314.4L452.0 315.3L452.2 314.7L452.4 314.1L452.6 314.4L452.8 314.6L453.0 315.2L453.2 315.0L453.4 314.5L453.6 314.6L453.8 314.6L454.0 315.6L454.2 314.1L454.4 314.6L454.6 314.7L454.8 313.7L455.0 314.2L455.2 314.1L455.4 313.7L455.6 314.2L455.8 314.3L456.0 314.3L456.2 313.5L456.4 313.6L456.6 314.6L456.8 312.6L457.0 313.2L457.2 313.4L457.4 312.9L457.6 313.0L457.8 312.6L458.0 312.7L458.2 312.8L458.4 311.8L458.6 311.8L458.8 311.5L459.0 311.1L459.2 311.0L459.4 310.2L459.6 310.9L459.8 311.1L460.0 310.8L460.2 310.3L460.4 308.7L460.6 309.7L460.8 308.0L461.0 308.0L461.2 308.6L461.4 306.5L461.6 307.1L461.8 306.3L462.0 305.5L462.2 304.5L462.4 304.7L462.6 303.6L462.8 303.8L463.0 303.2L463.2 301.1L463.4 300.8L463.6 300.2L463.8 298.9L464.0 298.1L464.2 298.0L464.4 296.9L464.6 295.3L464.8 295.0L465.0 294.6L465.2 292.7L465.4 291.9L465.6 292.3L465.8 291.1L466.0 288.6L466.2 287.7L466.4 287.6L466.6 285.8L466.8 285.3L467.0 284.2L467.2 283.6L467.4 281.4L467.6 280.7L467.8 280.2L468.0 280.1L468.2 278.9L468.4 277.8L468.6 277.7L468.8 277.1L469.0 276.4L469.2 276.0L469.4 275.7L469.6 275.5L469.8 275.3L470.0 275.2L470.2 275.2L470.4 275.4L470.6 275.5L470.8 276.0L471.0 276.4L471.2 276.9L471.4 277.7L471.6 278.3L471.8 279.2L472.0 279.3L472.2 280.8L472.4 281.3L472.6 282.1L472.8 283.0L473.0 284.9L473.2 285.7L473.4 286.0L473.6 286.8L473.8 288.4L474.0 289.2L474.2 291.3L474.4 290.6L474.6 291.4L474.8 293.2L475.0 294.3L475.2 295.3L475.4 296.5L475.6 298.1L475.8 297.7L476.0 298.4L476.2 298.5L476.4 300.4L476.6 301.5L476.8 301.6L477.0 303.1L477.2 303.1L477.4 304.6L477.6 304.5L477.8 304.3L478.0 305.1L478.2 305.2L478.4 305.5L478.6 307.1L478.8 307.9L479.0 308.9L479.2 308.2L479.4 308.5L479.6 308.4L479.8 309.9L480.0 309.9L480.2 309.6L480.4 310.6L480.6 310.8L480.8 309.7L481.0 311.4L481.2 311.3L481.4 311.2L481.6 311.4L481.8 312.7L482.0 312.8L482.2 313.1L482.4 311.6L482.6 311.9L482.8 312.9L483.0 311.8L483.2 312.2L483.4 311.7L483.6 313.8L483.8 313.4L484.0 313.1L484.2 313.0L484.4 312.7L484.6 312.7L484.8 313.3L485.0 312.5L485.2 313.6L485.4 312.6L485.6 312.4L485.8 313.5L486.0 312.7L486.2 313.0L486.4 312.4L486.6 311.4L486.8 312.8L487.0 311.7L487.2 312.9L487.4 311.4L487.6 311.1L487.8 312.2L488.0 312.1L488.2 311.8L488.4 310.9L488.6 311.9L488.8 310.5L489.0 310.9L489.2 310.6L489.4 310.7L489.6 311.2L489.8 310.2L490.0 310.7L490.2 310.7L490.4 309.2L490.6 309.4L490.8 309.7L491.0 309.5L491.2 309.9L491.4 308.6L491.6 310.0L491.8 310.0L492.0 309.5L492.2 308.8L492.4 309.6L492.6 309.4L492.8 310.1L493.0 309.8L493.2 310.4L493.4 309.9L493.6 311.1L493.8 309.2L494.0 310.1L494.2 311.1L494.4 310.2L494.6 311.6L494.8 310.7L495.0 311.6L495.2 311.3L495.4 311.8L495.6 312.3L495.8 312.4L496.0 312.4L496.2 314.0L496.4 313.0L496.6 312.7L496.8 313.9L497.0 314.0L497.2 314.4L497.4 314.9L497.6 313.5L497.8 314.8L498.0 315.0L498.2 314.5L498.4 314.7L498.6 313.1L498.8 314.5L499.0 315.9L499.2 314.1L499.4 314.9L499.6 315.4L499.8 315.7L500.0 316.3L500.2 314.6L500.4 315.6L500.6 316.1L500.8 315.0L501.0 315.8L501.2 316.9L501.4 316.6L501.6 316.3L501.8 314.6L502.0 316.0L502.2 316.3L502.4 316.0L502.6 316.2L502.8 317.9L503.0 316.1L503.2 315.8L503.4 316.5L503.6 316.2L503.8 316.2L504.0 316.4L504.2 316.9L504.4 316.6L504.6 315.8L504.8 316.4L505.0 316.8L505.2 316.3L505.4 317.2L505.6 317.0L505.8 316.1L506.0 316.8L506.2 317.7L506.4 317.5L506.6 316.7L506.8 317.2L507.0 316.3L507.2 315.9L507.4 317.0L507.6 316.9L507.8 317.1L508.0 316.8L508.2 317.0L508.4 316.5L508.6 317.1L508.8 317.3L509.0 316.8L509.2 317.3L509.4 315.9L509.6 316.4L509.8 317.7L510.0 317.9L510.2 317.0L510.4 316.9L510.6 316.2L510.8 317.1L511.0 317.4L511.2 316.1L511.4 317.3L511.6 317.2L511.8 317.2L512.0 316.4L512.2 317.3L512.4 316.2L512.6 317.8L512.8 317.1L513.0 316.4L513.2 317.8L513.4 317.7L513.6 316.7L513.8 318.3L514.0 316.5L514.2 317.2L514.4 317.7L514.6 315.8L514.8 317.6L515.0 317.1L515.2 317.1L515.4 316.5L515.6 317.3L515.8 316.5L516.0 316.6L516.2 316.9L516.4 316.5L516.6 318.0L516.8 316.4L517.0 316.7L517.2 317.0L517.4 317.2L517.6 317.6L517.8 317.6L518.0 317.0L518.2 317.0L518.4 317.2L518.6 317.7L518.8 317.6L519.0 316.9L519.2 316.1L519.4 318.4L519.6 317.7L519.8 317.4L520.0 317.4L520.2 316.9L520.4 316.7L520.6 317.1L520.8 317.1L521.0 316.9L521.2 316.5L521.4 317.1L521.6 317.6L521.8 317.0L522.0 317.3L522.2 316.1L522.4 317.2L522.6 317.2L522.8 316.6L523.0 316.3L523.2 317.5L523.4 316.8L523.6 317.6L523.8 317.1L524.0 317.6L524.2 317.1L524.4 316.5L524.6 317.3L524.8 317.1L525.0 317.7L525.2 317.1L525.4 317.1L525.6 317.8L525.8 318.0L526.0 317.7L526.2 317.9L526.4 317.6L526.6 317.8L526.8 317.8L527.0 317.6L527.2 317.4L527.4 317.4L527.6 318.7L527.8 317.4L528.0 317.2L528.2 317.2L528.4 317.3L528.6 317.5L528.8 316.7L529.0 316.3L529.2 317.5L529.4 316.5L529.6 317.5L529.8 317.5L530.0 318.0L530.2 318.3L530.4 317.6L530.6 317.1L530.8 316.7L531.0 316.9L531.2 317.4L531.4 316.2L531.6 317.4L531.8 317.4L532.0 317.7L532.2 317.2L532.4 317.5L532.6 317.0L532.8 317.1L533.0 316.4L533.2 317.5L533.4 318.3L533.6 317.5L533.8 317.6L534.0 316.9L534.2 318.2L534.4 317.0L534.6 317.9L534.8 317.5L535.0 316.9L535.2 318.0L535.4 317.4L535.6 317.5L535.8 317.7L536.0 317.4L536.2 317.2L536.4 317.7L536.6 317.2L536.8 317.5L537.0 317.1L537.2 316.6L537.4 317.1L537.6 317.1L537.8 317.4L538.0 318.1L538.2 316.5L538.4 317.5L538.6 316.2L538.8 316.8L539.0 317.1L539.2 316.2L539.4 316.4L539.6 317.5L539.8 317.5L540.0 317.4L540.2 317.0L540.4 318.6L540.6 317.3L540.8 316.9L541.0 318.3L541.2 317.8L541.4 317.2L541.6 318.1L541.8 317.5L542.0 317.8L542.2 317.5L542.4 316.9L542.6 318.0L542.8 317.5L543.0 316.9L543.2 317.0L543.4 317.9L543.6 317.2L543.8 317.4L544.0 317.8L544.2 317.5L544.4 316.6L544.6 317.8L544.8 317.9L545.0 317.9L545.2 318.3L545.4 317.6L545.6 317.8L545.8 318.3L546.0 317.2L546.2 318.3L546.4 318.3L546.6 317.8L546.8 318.4L547.0 317.8L547.2 316.9L547.4 318.0L547.6 317.5L547.8 317.6L548.0 317.4L548.2 318.1L548.4 317.7L548.6 317.0L548.8 317.6L549.0 317.7L549.2 316.9L549.4 317.1L549.6 317.1L549.8 317.0L550.0 317.5L550.2 317.9L550.4 318.4L550.6 318.0L550.8 317.9L551.0 317.9L551.2 318.0L551.4 317.1L551.6 317.7L551.8 317.5L552.0 317.2L552.2 317.0L552.4 317.0L552.6 317.1L552.8 316.6L553.0 317.6L553.2 317.3L553.4 317.3L553.6 317.4L553.8 317.7L554.0 316.9L554.2 317.2L554.4 316.4L554.6 316.0L554.8 316.2L555.0 318.1L555.2 316.2L555.4 317.5L555.6 318.0L555.8 317.0L556.0 318.1L556.2 318.2L556.4 317.7L556.6 318.5L556.8 317.5L557.0 316.8L557.2 317.5L557.4 316.9L557.6 316.4L557.8 316.5L558.0 318.4L558.2 316.8L558.4 317.1L558.6 316.8L558.8 317.2L559.0 317.0L559.2 316.9L559.4 316.4L559.6 316.3L559.8 316.7L560.0 317.3L560.2 318.2L560.4 317.7L560.6 318.1L560.8 317.3L561.0 317.0L561.2 316.3L561.4 317.0L561.6 315.9L561.8 316.9L562.0 317.9L562.2 317.2L562.4 317.6L562.6 316.8L562.8 316.2L563.0 316.7L563.2 316.7L563.4 317.6L563.6 318.0L563.8 316.5L564.0 316.7L564.2 316.8L564.4 316.7L564.6 316.2L564.8 316.9L565.0 317.0L565.2 317.0L565.4 316.2L565.6 316.7L565.8 315.8L566.0 317.3L566.2 316.2L566.4 316.6L566.6 316.5L566.8 316.4L567.0 316.1L567.2 315.7L567.4 317.6L567.6 316.7L567.8 316.7L568.0 317.7L568.2 316.5L568.4 316.8L568.6 316.5L568.8 317.1L569.0 316.7L569.2 316.5L569.4 316.2L569.6 316.4L569.8 316.9L570.0 315.0L570.2 316.1L570.4 315.8L570.6 315.9L570.8 314.9L571.0 316.3L571.2 315.4L571.4 315.6L571.6 315.4L571.8 314.7L572.0 315.3L572.2 314.5L572.4 314.9L572.6 315.1L572.8 315.2L573.0 315.1L573.2 314.9L573.4 316.1L573.6 315.0L573.8 314.0L574.0 314.2L574.2 314.1L574.4 314.2L574.6 313.8L574.8 313.6L575.0 314.8L575.2 313.8L575.4 313.4L575.6 313.3L575.8 313.2L576.0 313.9L576.2 313.3L576.4 313.5L576.6 311.0L576.8 312.7L577.0 313.0L577.2 313.3L577.4 312.1L577.6 311.0L577.8 312.1L578.0 311.3L578.2 310.5L578.4 311.1L578.6 311.9L578.8 311.8L579.0 311.5L579.2 310.4L579.4 312.3L579.6 310.2L579.8 310.8L580.0 310.0L580.2 311.5L580.4 311.1L580.6 311.3L580.8 310.9L581.0 310.9L581.2 311.1L581.4 310.1L581.6 311.7L581.8 311.8L582.0 311.2L582.2 311.5L582.4 311.8L582.6 312.7L582.8 312.2L583.0 312.1L583.2 312.0L583.4 311.6L583.6 312.3L583.8 312.8L584.0 312.8L584.2 313.1L584.4 313.6L584.6 313.6L584.8 313.7L585.0 314.0L585.2 313.9L585.4 313.9L585.6 314.3L585.8 313.3L586.0 315.0L586.2 313.8L586.4 315.1L586.6 314.7L586.8 315.4L587.0 315.0L587.2 314.5L587.4 315.7L587.6 315.4L587.8 315.4L588.0 315.5L588.2 316.1L588.4 316.1L588.6 315.8L588.8 314.9L589.0 315.6L589.2 316.0L589.4 317.0L589.6 316.2L589.8 316.0L590.0 316.8L590.2 316.1L590.4 316.2L590.6 316.4L590.8 315.5L591.0 316.9L591.2 316.7L591.4 316.3L591.6 315.9L591.8 316.7L592.0 317.3L592.2 316.3L592.4 316.1L592.6 316.9L592.8 315.8L593.0 315.5L593.2 316.5L593.4 316.4L593.6 316.6L593.8 316.5L594.0 317.0L594.2 316.7L594.4 316.5L594.6 316.6L594.8 317.2L595.0 317.4L595.2 317.4L595.4 317.3L595.6 315.1L595.8 316.4L596.0 316.8L596.2 317.1L596.4 316.1L596.6 317.8L596.8 317.2L597.0 316.7L597.2 317.1L597.4 316.9L597.6 316.6L597.8 317.4L598.0 316.8L598.2 316.3L598.4 316.7L598.6 317.0L598.8 316.5L599.0 317.8L599.2 316.5L599.4 318.1L599.6 317.6L599.8 316.6L600.0 317.2L600.2 317.8L600.4 317.1L600.6 316.5L600.8 317.2L601.0 318.3L601.2 316.4L601.4 317.5L601.6 317.2L601.8 317.1L602.0 317.0L602.2 317.0L602.4 317.8L602.6 317.5L602.8 316.7L603.0 318.1L603.2 316.5L603.4 317.6L603.6 317.3L603.8 317.9L604.0 317.4L604.2 317.8L604.4 317.2L604.6 317.8L604.8 317.4L605.0 318.4L605.2 316.8L605.4 317.9L605.6 317.5L605.8 317.3L606.0 316.9L606.2 317.5L606.4 316.4L606.6 316.5L606.8 317.6L607.0 316.4L607.2 318.0L607.4 317.1L607.6 317.4L607.8 317.3L608.0 317.5L608.2 317.1L608.4 317.0L608.6 317.2L608.8 317.8L609.0 317.8L609.2 317.9L609.4 317.4L609.6 317.1L609.8 316.3L610.0 317.6L610.2 317.7L610.4 317.0L610.6 317.6L610.8 317.9L611.0 317.2L611.2 317.8L611.4 317.4L611.6 316.2L611.8 316.9L612.0 316.9L612.2 317.5L612.4 316.7L612.6 316.9L612.8 316.6L613.0 317.1L613.2 317.2L613.4 317.7L613.6 317.6L613.8 317.2L614.0 317.3L614.2 317.2L614.4 317.2L614.6 318.0L614.8 315.7L615.0 317.0L615.2 317.3L615.4 317.7L615.6 316.5L615.8 317.2L616.0 317.5L616.2 316.8L616.4 316.0L616.6 316.8L616.8 316.3L617.0 317.4L617.2 316.5L617.4 318.0L617.6 317.0L617.8 316.5L618.0 316.7L618.2 316.3L618.4 317.1L618.6 317.7L618.8 316.8L619.0 317.4L619.2 316.3L619.4 317.0L619.6 318.1L619.8 316.0L620.0 317.5L620.2 317.4L620.4 315.7L620.6 316.0L620.8 316.2L621.0 317.2L621.2 316.5L621.4 316.6L621.6 317.0L621.8 316.7L622.0 316.7L622.2 316.4L622.4 317.2L622.6 316.1L622.8 317.4L623.0 316.3L623.2 316.0L623.4 316.8L623.6 316.6L623.8 315.2L624.0 316.4L624.2 315.5L624.4 315.8L624.6 316.6L624.8 315.7L625.0 316.3L625.2 315.9L625.4 317.1L625.6 315.9L625.8 315.3L626.0 315.3L626.2 315.3L626.4 315.8L626.6 315.7L626.8 316.2L627.0 315.7L627.2 315.6L627.4 315.7L627.6 315.3L627.8 315.5L628.0 315.7L628.2 315.6L628.4 314.8L628.6 314.1L628.8 314.5L629.0 315.0L629.2 313.4L629.4 314.5L629.6 314.9L629.8 314.2L630.0 313.8L630.2 315.3L630.4 315.0L630.6 314.0L630.8 314.7L631.0 314.6L631.2 313.1L631.4 315.1L631.6 313.0L631.8 313.2L632.0 312.7L632.2 313.2L632.4 312.3L632.6 312.8L632.8 313.3L633.0 312.6L633.2 312.2L633.4 313.0L633.6 311.5L633.8 312.4L634.0 311.5L634.2 311.6L634.4 311.3L634.6 311.2L634.8 310.9L635.0 310.3L635.2 310.2L635.4 310.6L635.6 310.1L635.8 309.3L636.0 309.3L636.2 309.1L636.4 309.2L636.6 309.1L636.8 308.8L637.0 308.2L637.2 308.3L637.4 307.3L637.6 306.3L637.8 307.6L638.0 306.4L638.2 306.6L638.4 306.2L638.6 307.0L638.8 305.7L639.0 306.3L639.2 305.7L639.4 305.0L639.6 304.7L639.8 305.6L640.0 305.3L640.2 305.4L640.4 305.8L640.6 304.8L640.8 304.7L641.0 304.3L641.2 304.4L641.4 304.1L641.6 303.7L641.8 305.3L642.0 303.2L642.2 304.4L642.4 304.5L642.6 304.4L642.8 303.9L643.0 304.5L643.2 304.5L643.4 304.3L643.6 305.0L643.8 305.0L644.0 305.1L644.2 306.0L644.4 305.3L644.6 306.4L644.8 306.0L645.0 306.8L645.2 306.9L645.4 307.2L645.6 306.8L645.8 307.2L646.0 307.4L646.2 308.2L646.4 308.8L646.6 309.2L646.8 308.6L647.0 309.2L647.2 308.5L647.4 308.4L647.6 309.4L647.8 309.7L648.0 309.4L648.2 309.5L648.4 311.0L648.6 310.4L648.8 310.1L649.0 312.5L649.2 311.5L649.4 311.4L649.6 312.0L649.8 311.4L650.0 312.8L650.2 311.2L650.4 311.5L650.6 312.2L650.8 312.0L651.0 313.3L651.2 311.7L651.4 312.2L651.6 312.8L651.8 313.1L652.0 313.4L652.2 313.0L652.4 314.1L652.6 312.7L652.8 313.0L653.0 313.4L653.2 312.8L653.4 312.8L653.6 312.7L653.8 312.5L654.0 312.2L654.2 312.5L654.4 311.9L654.6 312.9L654.8 311.8L655.0 313.7L655.2 313.4L655.4 313.0L655.6 312.2L655.8 311.9L656.0 312.8L656.2 312.1L656.4 312.2L656.6 311.4L656.8 312.2L657.0 311.0L657.2 311.4L657.4 310.2L657.6 310.7L657.8 311.1L658.0 310.4L658.2 310.3L658.4 310.8L658.6 310.1L658.8 310.7L659.0 308.5L659.2 309.9L659.4 309.7L659.6 308.4L659.8 308.4L660.0 309.4L660.2 308.2L660.4 308.2L660.6 308.8L660.8 308.1L661.0 308.4L661.2 307.6L661.4 308.1L661.6 308.5L661.8 308.0L662.0 306.6L662.2 308.1L662.4 307.8L662.6 307.3L662.8 308.6L663.0 306.9L663.2 309.0L663.4 307.7L663.6 309.0L663.8 308.3L664.0 307.7L664.2 308.6L664.4 308.9L664.6 309.2L664.8 309.7L665.0 308.8L665.2 309.8L665.4 310.1L665.6 309.7L665.8 309.6L666.0 309.8L666.2 310.9L666.4 311.1L666.6 310.4L666.8 310.4L667.0 312.0L667.2 310.6L667.4 311.7L667.6 311.4L667.8 311.1L668.0 312.3L668.2 312.3L668.4 313.3L668.6 313.9L668.8 312.7L669.0 313.5L669.2 313.7L669.4 313.0L669.6 312.9" fill="none" stroke="#BF9000" stroke-width="2.6" stroke-linejoin="round" stroke-linecap="round"/>
<path d="M35.2 308.8L35.4 309.6L35.6 311.6L35.8 313.3L36.0 315.1L36.2 316.7L36.4 319.1L36.6 321.2L36.8 322.0L37.0 323.1L37.2 325.6L37.4 326.3L37.6 328.4L37.8 331.0L38.0 333.2L38.2 333.7L38.4 334.4L38.6 336.9L38.8 336.7L39.0 339.0L39.2 341.7L39.4 342.7L39.6 343.0L39.8 344.2L40.0 347.0L40.2 347.8L40.4 348.9L40.6 350.7L40.8 351.5L41.0 352.1L41.2 354.9L41.4 355.4L41.6 356.5L41.8 357.7L42.0 360.0L42.2 360.8L42.4 363.0L42.6 363.8L42.8 365.8L43.0 366.2L43.2 367.2L43.4 367.4L43.6 368.7L43.8 370.4L44.0 372.3L44.2 370.4L44.4 370.9L44.6 372.0L44.8 372.4L45.0 372.1L45.2 372.8L45.4 372.1L45.6 373.0L45.8 373.9L46.0 374.4L46.2 373.6L46.4 373.7L46.6 374.2L46.8 374.7L47.0 374.5L47.2 373.9L47.4 374.6L47.6 375.1L47.8 374.3L48.0 374.0L48.2 375.1L48.4 375.1L48.6 375.6L48.8 375.2L49.0 374.9L49.2 375.1L49.4 374.8L49.6 374.9L49.8 375.2L50.0 375.3L50.2 376.3L50.4 375.1L50.6 375.8L50.8 375.6L51.0 376.8L51.2 376.2L51.4 375.9L51.6 376.6L51.8 376.3L52.0 376.0L52.2 377.2L52.4 376.8L52.6 377.4L52.8 377.2L53.0 377.0L53.2 376.7L53.4 376.1L53.6 377.2L53.8 376.9L54.0 377.3L54.2 377.0L54.4 376.7L54.6 376.6L54.8 377.6L55.0 377.9L55.2 377.1L55.4 377.6L55.6 378.2L55.8 377.0L56.0 377.3L56.2 377.0L56.4 378.3L56.6 377.9L56.8 377.5L57.0 376.9L57.2 377.8L57.4 378.5L57.6 377.8L57.8 377.8L58.0 378.5L58.2 377.5L58.4 378.2L58.6 378.6L58.8 377.9L59.0 377.9L59.2 378.6L59.4 378.4L59.6 378.4L59.8 378.7L60.0 378.8L60.2 378.2L60.4 378.4L60.6 379.0L60.8 379.5L61.0 379.6L61.2 378.5L61.4 379.6L61.6 379.5L61.8 379.1L62.0 379.4L62.2 379.6L62.4 380.2L62.6 378.7L62.8 379.6L63.0 379.3L63.2 379.3L63.4 380.1L63.6 379.9L63.8 379.0L64.0 379.4L64.2 379.7L64.4 378.9L64.6 380.2L64.8 379.7L65.0 379.9L65.2 380.0L65.4 380.8L65.6 379.9L65.8 379.7L66.0 380.9L66.2 379.7L66.4 379.8L66.6 379.3L66.8 380.7L67.0 380.3L67.2 380.4L67.4 380.3L67.6 380.2L67.8 379.8L68.0 379.9L68.2 380.6L68.4 380.4L68.6 381.3L68.8 380.0L69.0 380.2L69.2 379.9L69.4 381.3L69.6 379.9L69.8 381.0L70.0 381.4L70.2 380.6L70.4 381.1L70.6 379.5L70.8 380.5L71.0 379.9L71.2 380.9L71.4 380.8L71.6 380.4L71.8 381.4L72.0 381.1L72.2 380.6L72.4 380.7L72.6 380.2L72.8 380.9L73.0 382.2L73.2 380.7L73.4 381.3L73.6 380.8L73.8 381.6L74.0 381.4L74.2 381.1L74.4 380.3L74.6 381.0L74.8 381.9L75.0 381.2L75.2 381.7L75.4 381.1L75.6 380.4L75.8 381.6L76.0 381.6L76.2 381.1L76.4 381.3L76.6 381.6L76.8 381.2L77.0 381.7L77.2 381.5L77.4 380.3L77.6 381.5L77.8 381.3L78.0 381.2L78.2 381.9L78.4 381.4L78.6 382.0L78.8 382.3L79.0 381.8L79.2 380.9L79.4 381.4L79.6 382.3L79.8 381.7L80.0 381.4L80.2 381.8L80.4 382.2L80.6 382.1L80.8 382.3L81.0 381.5L81.2 381.9L81.4 381.9L81.6 382.0L81.8 380.9L82.0 382.0L82.2 381.4L82.4 382.9L82.6 383.0L82.8 383.1L83.0 382.6L83.2 382.0L83.4 382.8L83.6 382.1L83.8 382.6L84.0 381.8L84.2 382.0L84.4 382.6L84.6 383.3L84.8 382.4L85.0 383.6L85.2 383.9L85.4 381.7L85.6 382.5L85.8 382.0L86.0 382.4L86.2 382.2L86.4 382.5L86.6 383.1L86.8 383.1L87.0 382.8L87.2 382.6L87.4 382.7L87.6 382.7L87.8 383.0L88.0 382.7L88.2 383.0L88.4 382.0L88.6 383.2L88.8 383.7L89.0 382.9L89.2 382.1L89.4 383.6L89.6 382.7L89.8 381.3L90.0 382.8L90.2 383.3L90.4 383.2L90.6 383.7L90.8 383.3L91.0 383.1L91.2 382.0L91.4 382.5L91.6 383.2L91.8 383.5L92.0 382.6L92.2 382.8L92.4 383.4L92.6 382.1L92.8 382.1L93.0 383.1L93.2 383.4L93.4 383.0L93.6 382.0L93.8 383.3L94.0 382.6L94.2 383.7L94.4 383.3L94.6 383.5L94.8 383.7L95.0 383.1L95.2 383.9L95.4 384.1L95.6 383.7L95.8 384.2L96.0 383.2L96.2 384.0L96.4 383.7L96.6 383.0L96.8 383.5L97.0 383.3L97.2 383.3L97.4 383.7L97.6 384.2L97.8 383.5L98.0 383.8L98.2 382.9L98.4 383.8L98.6 384.4L98.8 384.2L99.0 384.0L99.2 383.5L99.4 383.3L99.6 383.8L99.8 383.1L100.0 383.2L100.2 384.4L100.4 383.4L100.6 384.9L100.8 383.2L101.0 384.2L101.2 383.3L101.4 384.1L101.6 383.4L101.8 384.0L102.0 384.0L102.2 383.8L102.4 384.4L102.6 384.9L102.8 383.8L103.0 384.6L103.2 384.2L103.4 384.1L103.6 385.4L103.8 383.0L104.0 383.8L104.2 383.2L104.4 384.1L104.6 384.1L104.8 386.3L105.0 384.5L105.2 385.3L105.4 385.0L105.6 384.1L105.8 384.6L106.0 385.3L106.2 384.5L106.4 384.5L106.6 384.7L106.8 383.6L107.0 384.0L107.2 384.6L107.4 384.7L107.6 384.0L107.8 384.3L108.0 384.4L108.2 384.4L108.4 384.9L108.6 384.6L108.8 384.6L109.0 383.8L109.2 384.0L109.4 384.7L109.6 383.7L109.8 384.7L110.0 384.2L110.2 384.2L110.4 385.0L110.6 384.3L110.8 384.2L111.0 384.3L111.2 384.7L111.4 386.2L111.6 383.5L111.8 384.7L112.0 384.6L112.2 385.2L112.4 384.5L112.6 383.4L112.8 385.5L113.0 384.2L113.2 384.7L113.4 384.0L113.6 384.2L113.8 384.5L114.0 385.3L114.2 385.3L114.4 384.5L114.6 385.1L114.8 384.6L115.0 384.9L115.2 384.9L115.4 385.2L115.6 384.5L115.8 384.8L116.0 385.0L116.2 385.0L116.4 384.5L116.6 385.9L116.8 384.7L117.0 385.4L117.2 385.1L117.4 385.6L117.6 383.8L117.8 386.1L118.0 384.9L118.2 384.3L118.4 385.1L118.6 386.2L118.8 385.3L119.0 384.4L119.2 384.8L119.4 385.8L119.6 384.3L119.8 385.0L120.0 384.9L120.2 386.3L120.4 384.9L120.6 385.8L120.8 384.7L121.0 384.7L121.2 385.7L121.4 385.5L121.6 384.2L121.8 385.5L122.0 385.5L122.2 384.8L122.4 385.3L122.6 385.3L122.8 384.9L123.0 384.9L123.2 384.8L123.4 385.1L123.6 384.5L123.8 385.2L124.0 384.4L124.2 385.3L124.4 385.2L124.6 384.7L124.8 385.7L125.0 386.3L125.2 386.0L125.4 384.5L125.6 386.0L125.8 385.4L126.0 385.3L126.2 385.0L126.4 385.3L126.6 386.1L126.8 385.6L127.0 385.1L127.2 385.0L127.4 385.1L127.6 385.7L127.8 386.4L128.0 384.8L128.2 385.4L128.4 385.2L128.6 385.0L128.8 385.6L129.0 385.7L129.2 384.6L129.4 384.9L129.6 386.1L129.8 385.6L130.0 385.7L130.2 385.2L130.4 385.3L130.6 385.7L130.8 385.2L131.0 384.9L131.2 385.5L131.4 386.0L131.6 384.9L131.8 386.1L132.0 385.9L132.2 385.1L132.4 385.5L132.6 385.5L132.8 385.9L133.0 385.9L133.2 384.8L133.4 384.8L133.6 386.1L133.8 385.6L134.0 385.8L134.2 385.8L134.4 386.4L134.6 384.9L134.8 386.2L135.0 385.2L135.2 386.0L135.4 386.4L135.6 384.9L135.8 385.9L136.0 385.5L136.2 385.5L136.4 385.7L136.6 385.1L136.8 385.1L137.0 386.0L137.2 386.1L137.4 385.4L137.6 384.9L137.8 387.0L138.0 386.3L138.2 385.9L138.4 385.2L138.6 385.4L138.8 385.9L139.0 385.2L139.2 386.6L139.4 385.8L139.6 386.0L139.8 385.2L140.0 385.3L140.2 385.3L140.4 385.9L140.6 385.6L140.8 385.6L141.0 386.0L141.2 385.9L141.4 386.6L141.6 385.7L141.8 385.3L142.0 385.8L142.2 386.6L142.4 385.5L142.6 385.9L142.8 385.6L143.0 386.1L143.2 386.0L143.4 385.4L143.6 385.7L143.8 386.4L144.0 386.5L144.2 386.4L144.4 386.3L144.6 385.7L144.8 385.7L145.0 386.4L145.2 385.3L145.4 385.9L145.6 384.9L145.8 385.7L146.0 385.5L146.2 385.3L146.4 386.3L146.6 385.5L146.8 385.8L147.0 385.8L147.2 385.6L147.4 386.7L147.6 385.7L147.8 386.1L148.0 385.3L148.2 385.7L148.4 385.8L148.6 385.8L148.8 385.7L149.0 386.1L149.2 386.9L149.4 386.0L149.6 386.0L149.8 385.8L150.0 387.4L150.2 386.9L150.4 386.4L150.6 386.4L150.8 385.7L151.0 386.0L151.2 386.2L151.4 386.1L151.6 385.6L151.8 385.7L152.0 386.4L152.2 386.3L152.4 385.0L152.6 386.2L152.8 386.8L153.0 385.8L153.2 386.3L153.4 385.3L153.6 386.6L153.8 385.5L154.0 385.5L154.2 386.0L154.4 387.4L154.6 385.8L154.8 385.5L155.0 386.4L155.2 386.3L155.4 387.1L155.6 385.5L155.8 385.3L156.0 386.0L156.2 386.4L156.4 386.4L156.6 386.8L156.8 385.4L157.0 385.8L157.2 386.2L157.4 386.7L157.6 386.5L157.8 386.0L158.0 385.7L158.2 386.7L158.4 386.8L158.6 387.7L158.8 386.2L159.0 387.2L159.2 385.6L159.4 386.0L159.6 385.9L159.8 386.0L160.0 385.8L160.2 386.0L160.4 386.3L160.6 386.1L160.8 386.7L161.0 386.3L161.2 386.3L161.4 387.1L161.6 386.5L161.8 386.4L162.0 386.3L162.2 386.4L162.4 386.7L162.6 385.9L162.8 387.0L163.0 387.2L163.2 387.0L163.4 386.1L163.6 385.5L163.8 386.2L164.0 386.5L164.2 386.8L164.4 386.3L164.6 386.2L164.8 387.2L165.0 386.1L165.2 387.0L165.4 386.9L165.6 385.7L165.8 386.6L166.0 386.1L166.2 385.9L166.4 385.4L166.6 385.6L166.8 386.7L167.0 386.2L167.2 386.6L167.4 385.9L167.6 386.3L167.8 386.3L168.0 385.6L168.2 385.6L168.4 386.7L168.6 386.6L168.8 386.0L169.0 386.4L169.2 386.8L169.4 387.5L169.6 386.0L169.8 386.8L170.0 387.6L170.2 386.5L170.4 387.3L170.6 385.1L170.8 387.3L171.0 386.5L171.2 385.5L171.4 386.9L171.6 387.1L171.8 387.2L172.0 387.2L172.2 386.5L172.4 386.1L172.6 386.3L172.8 386.5L173.0 386.8L173.2 386.3L173.4 386.6L173.6 387.0L173.8 386.7L174.0 387.8L174.2 387.7L174.4 385.9L174.6 386.3L174.8 385.9L175.0 385.9L175.2 386.9L175.4 386.0L175.6 386.0L175.8 386.4L176.0 387.0L176.2 386.4L176.4 386.4L176.6 387.1L176.8 386.8L177.0 386.8L177.2 387.1L177.4 386.0L177.6 386.7L177.8 386.3L178.0 387.2L178.2 387.0L178.4 386.0L178.6 387.3L178.8 386.0L179.0 387.2L179.2 386.7L179.4 386.1L179.6 386.0L179.8 386.4L180.0 386.6L180.2 386.2L180.4 386.9L180.6 385.9L180.8 386.6L181.0 386.6L181.2 385.6L181.4 386.8L181.6 385.9L181.8 385.3L182.0 386.3L182.2 386.5L182.4 387.1L182.6 386.3L182.8 387.4L183.0 387.4L183.2 387.2L183.4 387.3L183.6 386.8L183.8 386.3L184.0 387.0L184.2 387.1L184.4 386.7L184.6 386.5L184.8 385.7L185.0 387.0L185.2 386.8L185.4 385.9L185.6 386.6L185.8 387.0L186.0 386.5L186.2 387.0L186.4 387.0L186.6 385.8L186.8 386.4L187.0 386.8L187.2 387.1L187.4 387.3L187.6 385.5L187.8 386.5L188.0 387.0L188.2 387.2L188.4 387.5L188.6 386.1L188.8 386.4L189.0 386.0L189.2 387.0L189.4 385.8L189.6 387.2L189.8 387.0L190.0 386.8L190.2 385.3L190.4 386.2L190.6 386.9L190.8 385.7L191.0 386.4L191.2 386.4L191.4 387.0L191.6 386.7L191.8 386.6L192.0 386.2L192.2 386.5L192.4 386.4L192.6 386.9L192.8 386.4L193.0 387.0L193.2 385.5L193.4 387.1L193.6 386.4L193.8 387.1L194.0 386.5L194.2 386.9L194.4 387.2L194.6 386.1L194.8 386.5L195.0 386.3L195.2 386.5L195.4 385.5L195.6 386.3L195.8 386.2L196.0 385.9L196.2 386.3L196.4 385.5L196.6 387.1L196.8 386.6L197.0 387.4L197.2 385.8L197.4 385.7L197.6 386.5L197.8 385.4L198.0 386.4L198.2 385.9L198.4 386.1L198.6 386.4L198.8 386.3L199.0 387.3L199.2 386.6L199.4 385.5L199.6 386.7L199.8 385.5L200.0 386.2L200.2 385.5L200.4 385.7L200.6 386.9L200.8 385.8L201.0 385.8L201.2 385.8L201.4 385.9L201.6 386.9L201.8 385.4L202.0 385.4L202.2 386.4L202.4 385.2L202.6 385.8L202.8 386.6L203.0 386.0L203.2 385.7L203.4 385.6L203.6 385.5L203.8 385.6L204.0 386.0L204.2 386.6L204.4 386.4L204.6 385.6L204.8 385.5L205.0 386.2L205.2 384.8L205.4 385.6L205.6 385.6L205.8 385.2L206.0 385.2L206.2 385.9L206.4 384.8L206.6 385.2L206.8 385.3L207.0 385.7L207.2 384.9L207.4 386.2L207.6 385.4L207.8 385.4L208.0 385.3L208.2 385.1L208.4 384.9L208.6 386.1L208.8 385.5L209.0 385.3L209.2 385.9L209.4 384.9L209.6 385.6L209.8 385.3L210.0 384.7L210.2 385.6L210.4 384.3L210.6 385.5L210.8 384.6L211.0 385.3L211.2 385.8L211.4 385.3L211.6 384.6L211.8 384.9L212.0 384.6L212.2 384.2L212.4 384.2L212.6 384.7L212.8 385.0L213.0 383.7L213.2 384.5L213.4 384.8L213.6 384.5L213.8 383.9L214.0 384.9L214.2 383.6L214.4 384.6L214.6 385.0L214.8 383.0L215.0 384.2L215.2 384.1L215.4 384.0L215.6 383.4L215.8 383.6L216.0 382.9L216.2 383.7L216.4 383.8L216.6 383.1L216.8 382.8L217.0 383.0L217.2 383.1L217.4 383.1L217.6 382.9L217.8 382.9L218.0 382.0L218.2 381.1L218.4 382.8L218.6 383.1L218.8 381.5L219.0 381.8L219.2 382.1L219.4 382.4L219.6 382.0L219.8 382.2L220.0 381.4L220.2 381.5L220.4 381.3L220.6 380.7L220.8 381.4L221.0 380.9L221.2 380.9L221.4 379.9L221.6 380.5L221.8 379.1L222.0 379.7L222.2 377.8L222.4 378.4L222.6 379.1L222.8 378.2L223.0 378.3L223.2 377.0L223.4 378.4L223.6 377.5L223.8 376.8L224.0 376.7L224.2 376.3L224.4 376.4L224.6 375.3L224.8 374.0L225.0 374.1L225.2 374.4L225.4 373.4L225.6 372.3L225.8 372.2L226.0 371.2L226.2 370.7L226.4 368.7L226.6 368.2L226.8 368.1L227.0 366.6L227.2 365.9L227.4 365.6L227.6 363.1L227.8 362.1L228.0 360.2L228.2 358.7L228.4 357.4L228.6 354.9L228.8 352.7L229.0 352.6L229.2 349.8L229.4 348.2L229.6 345.4L229.8 343.0L230.0 340.7L230.2 338.1L230.4 334.3L230.6 332.6L230.8 328.6L231.0 326.1L231.2 323.9L231.4 319.7L231.6 317.0L231.8 313.0L232.0 310.1L232.2 306.7L232.4 303.7L232.6 300.4L232.8 297.7L233.0 295.4L233.2 292.8L233.4 291.0L233.6 289.7L233.8 288.4L234.0 287.7L234.2 287.5L234.4 287.9L234.6 288.5L234.8 289.8L235.0 291.3L235.2 293.6L235.4 295.5L235.6 297.8L235.8 301.1L236.0 304.0L236.2 307.2L236.4 309.9L236.6 314.1L236.8 317.0L237.0 320.3L237.2 322.9L237.4 326.9L237.6 329.8L237.8 333.5L238.0 335.6L238.2 338.0L238.4 341.4L238.6 343.4L238.8 346.6L239.0 348.1L239.2 350.8L239.4 352.9L239.6 354.9L239.8 356.5L240.0 358.1L240.2 360.1L240.4 361.4L240.6 363.2L240.8 364.3L241.0 364.5L241.2 366.8L241.4 368.7L241.6 369.1L241.8 370.2L242.0 371.0L242.2 371.3L242.4 371.6L242.6 373.4L242.8 374.2L243.0 374.5L243.2 375.0L243.4 375.5L243.6 375.7L243.8 376.3L244.0 376.6L244.2 377.2L244.4 376.9L244.6 377.4L244.8 378.3L245.0 378.1L245.2 377.3L245.4 378.9L245.6 377.9L245.8 380.4L246.0 380.0L246.2 380.2L246.4 379.7L246.6 379.6L246.8 380.3L247.0 380.6L247.2 380.3L247.4 381.0L247.6 381.4L247.8 381.5L248.0 380.8L248.2 380.3L248.4 381.6L248.6 381.4L248.8 382.1L249.0 382.8L249.2 382.9L249.4 382.3L249.6 382.9L249.8 383.2L250.0 382.5L250.2 382.7L250.4 383.1L250.6 382.7L250.8 382.5L251.0 382.5L251.2 382.9L251.4 382.7L251.6 383.5L251.8 383.0L252.0 384.0L252.2 383.9L252.4 382.7L252.6 383.9L252.8 383.2L253.0 384.2L253.2 383.8L253.4 383.5L253.6 384.0L253.8 383.4L254.0 383.9L254.2 383.9L254.4 383.7L254.6 384.0L254.8 383.3L255.0 384.1L255.2 383.2L255.4 384.2L255.6 384.2L255.8 384.3L256.0 383.7L256.2 385.6L256.4 383.9L256.6 384.1L256.8 383.6L257.0 384.8L257.2 383.8L257.4 384.6L257.6 383.6L257.8 384.2L258.0 383.9L258.2 384.6L258.4 383.9L258.6 383.6L258.8 384.3L259.0 383.4L259.2 383.6L259.4 384.5L259.6 383.1L259.8 384.4L260.0 383.8L260.2 383.5L260.4 384.1L260.6 384.3L260.8 383.6L261.0 383.8L261.2 384.3L261.4 384.2L261.6 383.7L261.8 383.3L262.0 383.2L262.2 383.3L262.4 383.9L262.6 383.8L262.8 383.6L263.0 384.1L263.2 383.1L263.4 383.0L263.6 382.9L263.8 383.9L264.0 381.8L264.2 382.8L264.4 382.8L264.6 382.4L264.8 383.4L265.0 382.6L265.2 382.2L265.4 381.1L265.6 381.6L265.8 380.9L266.0 380.8L266.2 380.6L266.4 379.8L266.6 380.0L266.8 380.2L267.0 379.4L267.2 378.5L267.4 376.9L267.6 377.9L267.8 377.3L268.0 376.0L268.2 375.2L268.4 375.0L268.6 373.6L268.8 373.5L269.0 371.8L269.2 371.0L269.4 370.6L269.6 369.0L269.8 368.7L270.0 367.9L270.2 366.2L270.4 366.0L270.6 364.5L270.8 363.9L271.0 362.8L271.2 361.8L271.4 361.0L271.6 360.1L271.8 359.7L272.0 359.2L272.2 359.0L272.4 358.7L272.6 358.5L272.8 358.8L273.0 358.9L273.2 359.3L273.4 359.9L273.6 360.6L273.8 361.1L274.0 362.0L274.2 363.0L274.4 363.7L274.6 365.0L274.8 365.9L275.0 366.7L275.2 367.6L275.4 369.1L275.6 370.3L275.8 371.0L276.0 371.4L276.2 373.0L276.4 373.6L276.6 374.7L276.8 375.7L277.0 375.4L277.2 376.5L277.4 376.9L277.6 377.4L277.8 379.4L278.0 379.4L278.2 378.5L278.4 380.1L278.6 380.1L278.8 381.3L279.0 381.2L279.2 381.4L279.4 381.9L279.6 382.3L279.8 382.4L280.0 382.5L280.2 382.8L280.4 383.3L280.6 382.7L280.8 383.4L281.0 383.5L281.2 383.5L281.4 384.3L281.6 383.4L281.8 384.0L282.0 383.9L282.2 384.7L282.4 384.3L282.6 384.6L282.8 384.9L283.0 384.0L283.2 385.1L283.4 384.6L283.6 384.9L283.8 385.0L284.0 385.6L284.2 385.6L284.4 386.2L284.6 385.4L284.8 385.1L285.0 385.2L285.2 385.8L285.4 386.4L285.6 385.8L285.8 385.3L286.0 385.8L286.2 385.8L286.4 385.8L286.6 385.4L286.8 384.5L287.0 385.6L287.2 386.4L287.4 386.0L287.6 384.8L287.8 386.0L288.0 385.1L288.2 387.1L288.4 386.2L288.6 385.5L288.8 386.6L289.0 385.8L289.2 386.5L289.4 386.2L289.6 385.6L289.8 386.6L290.0 385.6L290.2 387.0L290.4 386.4L290.6 385.8L290.8 385.4L291.0 387.2L291.2 387.2L291.4 385.8L291.6 387.3L291.8 386.5L292.0 386.4L292.2 386.5L292.4 386.4L292.6 387.3L292.8 386.6L293.0 385.6L293.2 387.6L293.4 387.0L293.6 386.0L293.8 386.4L294.0 386.2L294.2 386.7L294.4 386.9L294.6 386.8L294.8 386.4L295.0 386.3L295.2 387.1L295.4 386.7L295.6 387.9L295.8 386.3L296.0 387.2L296.2 386.8L296.4 386.4L296.6 387.5L296.8 386.8L297.0 386.3L297.2 386.6L297.4 387.3L297.6 386.2L297.8 387.5L298.0 387.2L298.2 386.7L298.4 387.6L298.6 387.8L298.8 387.2L299.0 387.0L299.2 387.8L299.4 387.7L299.6 386.4L299.8 386.8L300.0 386.8L300.2 386.7L300.4 386.2L300.6 387.4L300.8 387.0L301.0 387.0L301.2 387.7L301.4 386.7L301.6 386.9L301.8 387.1L302.0 386.8L302.2 386.9L302.4 387.4L302.6 387.0L302.8 387.7L303.0 386.6L303.2 387.1L303.4 386.3L303.6 387.0L303.8 386.7L304.0 387.7L304.2 387.4L304.4 387.3L304.6 388.0L304.8 387.8L305.0 387.4L305.2 386.7L305.4 386.3L305.6 387.1L305.8 386.9L306.0 386.7L306.2 386.9L306.4 386.2L306.6 387.9L306.8 386.5L307.0 386.7L307.2 387.4L307.4 386.3L307.6 387.6L307.8 387.6L308.0 387.0L308.2 386.6L308.4 386.9L308.6 386.2L308.8 387.8L309.0 387.2L309.2 386.8L309.4 386.7L309.6 387.4L309.8 387.9L310.0 386.5L310.2 386.9L310.4 386.2L310.6 387.5L310.8 387.2L311.0 388.3L311.2 387.1L311.4 386.9L311.6 386.8L311.8 387.6L312.0 386.3L312.2 387.6L312.4 387.3L312.6 386.9L312.8 386.7L313.0 387.7L313.2 388.2L313.4 387.0L313.6 387.5L313.8 388.1L314.0 386.9L314.2 387.1L314.4 386.6L314.6 387.1L314.8 387.2L315.0 387.0L315.2 386.8L315.4 386.4L315.6 386.5L315.8 386.7L316.0 387.6L316.2 387.0L316.4 386.8L316.6 387.6L316.8 387.5L317.0 386.8L317.2 386.9L317.4 387.6L317.6 387.4L317.8 386.8L318.0 387.4L318.2 387.2L318.4 387.8L318.6 386.8L318.8 387.7L319.0 387.5L319.2 386.7L319.4 387.8L319.6 387.7L319.8 386.6L320.0 388.3L320.2 386.6L320.4 386.8L320.6 387.1L320.8 387.7L321.0 387.6L321.2 387.2L321.4 388.0L321.6 387.5L321.8 388.0L322.0 388.7L322.2 387.4L322.4 385.9L322.6 387.0L322.8 386.7L323.0 387.3L323.2 387.3L323.4 386.6L323.6 386.6L323.8 387.1L324.0 387.2L324.2 385.9L324.4 387.8L324.6 387.3L324.8 387.3L325.0 387.4L325.2 386.7L325.4 387.2L325.6 387.8L325.8 387.8L326.0 387.5L326.2 387.1L326.4 386.8L326.6 388.0L326.8 387.5L327.0 387.0L327.2 386.1L327.4 386.8L327.6 386.2L327.8 387.9L328.0 387.4L328.2 386.9L328.4 387.1L328.6 388.6L328.8 387.9L329.0 386.5L329.2 387.2L329.4 386.6L329.6 386.3L329.8 387.3L330.0 388.5L330.2 388.1L330.4 387.3L330.6 387.0L330.8 387.3L331.0 387.8L331.2 386.5L331.4 386.2L331.6 388.2L331.8 387.4L332.0 388.1L332.2 387.4L332.4 388.0L332.6 386.9L332.8 387.5L333.0 388.1L333.2 387.8L333.4 387.0L333.6 387.7L333.8 386.8L334.0 386.4L334.2 387.5L334.4 388.0L334.6 387.7L334.8 386.5L335.0 387.7L335.2 387.6L335.4 386.9L335.6 385.8L335.8 387.7L336.0 387.7L336.2 387.4L336.4 386.2L336.6 386.3L336.8 387.7L337.0 387.6L337.2 387.4L337.4 387.0L337.6 387.3L337.8 386.8L338.0 386.9L338.2 386.6L338.4 387.2L338.6 386.9L338.8 387.6L339.0 387.5L339.2 386.6L339.4 388.1L339.6 386.4L339.8 387.3L340.0 387.6L340.2 387.7L340.4 385.8L340.6 387.6L340.8 387.7L341.0 387.8L341.2 385.8L341.4 386.6L341.6 386.9L341.8 386.7L342.0 387.7L342.2 386.5L342.4 387.6L342.6 387.2L342.8 386.0L343.0 386.3L343.2 386.6L343.4 386.8L343.6 387.3L343.8 386.6L344.0 387.2L344.2 385.8L344.4 385.0L344.6 386.4L344.8 386.8L345.0 386.4L345.2 386.0L345.4 386.7L345.6 387.5L345.8 386.3L346.0 385.9L346.2 385.8L346.4 387.3L346.6 386.1L346.8 386.4L347.0 386.6L347.2 386.4L347.4 385.2L347.6 386.1L347.8 385.9L348.0 385.5L348.2 385.6L348.4 384.5L348.6 384.6L348.8 384.1L349.0 384.5L349.2 383.3L349.4 383.6L349.6 382.3L349.8 382.4L350.0 381.8L350.2 381.4L350.4 381.0L350.6 380.2L350.8 379.6L351.0 377.9L351.2 379.0L351.4 377.4L351.6 376.9L351.8 375.9L352.0 376.3L352.2 374.6L352.4 374.9L352.6 374.8L352.8 374.8L353.0 374.3L353.2 373.9L353.4 373.0L353.6 374.5L353.8 374.7L354.0 374.9L354.2 375.3L354.4 375.4L354.6 375.5L354.8 376.9L355.0 377.5L355.2 376.8L355.4 378.3L355.6 378.4L355.8 379.2L356.0 379.2L356.2 380.0L356.4 380.3L356.6 380.5L356.8 379.5L357.0 380.9L357.2 380.6L357.4 380.2L357.6 381.3L357.8 380.3L358.0 381.7L358.2 382.2L358.4 381.1L358.6 382.0L358.8 381.9L359.0 382.1L359.2 381.1L359.4 382.3L359.6 382.2L359.8 382.7L360.0 382.4L360.2 383.2L360.4 382.9L360.6 383.3L360.8 383.9L361.0 383.4L361.2 384.0L361.4 383.8L361.6 384.1L361.8 383.7L362.0 384.6L362.2 385.0L362.4 384.4L362.6 385.1L362.8 385.0L363.0 384.3L363.2 385.2L363.4 385.8L363.6 385.0L363.8 384.4L364.0 385.5L364.2 385.1L364.4 386.6L364.6 385.6L364.8 385.6L365.0 385.3L365.2 385.8L365.4 385.4L365.6 385.2L365.8 385.6L366.0 385.1L366.2 386.2L366.4 384.8L366.6 385.2L366.8 384.7L367.0 384.1L367.2 385.5L367.4 383.2L367.6 384.8L367.8 382.9L368.0 383.3L368.2 384.1L368.4 381.3L368.6 381.4L368.8 382.5L369.0 381.6L369.2 381.0L369.4 381.2L369.6 380.8L369.8 381.5L370.0 382.5L370.2 381.9L370.4 382.5L370.6 383.5L370.8 384.3L371.0 383.3L371.2 384.1L371.4 384.0L371.6 384.2L371.8 384.6L372.0 384.7L372.2 384.3L372.4 384.3L372.6 385.1L372.8 385.6L373.0 386.3L373.2 385.4L373.4 385.7L373.6 386.2L373.8 386.2L374.0 385.8L374.2 385.8L374.4 386.9L374.6 385.7L374.8 385.6L375.0 385.0L375.2 386.1L375.4 385.7L375.6 386.8L375.8 385.6L376.0 386.2L376.2 386.3L376.4 386.6L376.6 385.0L376.8 386.5L377.0 385.7L377.2 385.6L377.4 385.4L377.6 385.4L377.8 385.3L378.0 384.2L378.2 385.7L378.4 385.4L378.6 384.9L378.8 385.3L379.0 386.5L379.2 385.4L379.4 385.0L379.6 386.0L379.8 384.6L380.0 384.9L380.2 384.6L380.4 384.7L380.6 385.2L380.8 385.0L381.0 384.2L381.2 384.5L381.4 384.5L381.6 384.1L381.8 384.2L382.0 383.7L382.2 383.6L382.4 383.9L382.6 383.2L382.8 383.8L383.0 383.4L383.2 382.8L383.4 382.8L383.6 382.7L383.8 382.7L384.0 382.6L384.2 382.2L384.4 381.6L384.6 382.6L384.8 382.0L385.0 381.3L385.2 381.4L385.4 380.8L385.6 380.1L385.8 379.9L386.0 380.9L386.2 379.5L386.4 379.1L386.6 377.8L386.8 377.8L387.0 378.2L387.2 376.6L387.4 376.3L387.6 375.8L387.8 374.8L388.0 374.5L388.2 373.0L388.4 372.4L388.6 370.9L388.8 371.8L389.0 369.6L389.2 368.6L389.4 368.3L389.6 366.3L389.8 365.5L390.0 364.0L390.2 363.3L390.4 361.9L390.6 361.2L390.8 359.7L391.0 358.3L391.2 357.2L391.4 356.1L391.6 354.7L391.8 354.1L392.0 352.8L392.2 351.4L392.4 349.9L392.6 349.3L392.8 347.8L393.0 347.2L393.2 346.3L393.4 345.4L393.6 344.7L393.8 344.2L394.0 344.0L394.2 343.4L394.4 343.3L394.6 343.3L394.8 343.3L395.0 343.6L395.2 343.7L395.4 344.1L395.6 345.3L395.8 345.5L396.0 346.3L396.2 347.2L396.4 348.4L396.6 348.8L396.8 350.3L397.0 351.4L397.2 352.8L397.4 353.8L397.6 354.7L397.8 355.8L398.0 356.2L398.2 359.0L398.4 359.0L398.6 360.7L398.8 362.9L399.0 363.0L399.2 364.7L399.4 365.3L399.6 366.9L399.8 367.5L400.0 368.2L400.2 370.1L400.4 370.2L400.6 370.5L400.8 371.9L401.0 373.1L401.2 373.0L401.4 374.7L401.6 375.4L401.8 376.8L402.0 375.9L402.2 377.2L402.4 376.5L402.6 377.7L402.8 378.5L403.0 379.1L403.2 379.2L403.4 379.6L403.6 379.7L403.8 380.1L404.0 380.8L404.2 381.2L404.4 381.5L404.6 382.0L404.8 382.3L405.0 380.9L405.2 381.7L405.4 382.1L405.6 381.9L405.8 382.9L406.0 382.8L406.2 382.4L406.4 382.6L406.6 383.2L406.8 382.3L407.0 382.3L407.2 382.9L407.4 382.6L407.6 383.0L407.8 382.4L408.0 382.5L408.2 381.7L408.4 381.3L408.6 381.6L408.8 380.1L409.0 381.5L409.2 381.7L409.4 381.0L409.6 380.7L409.8 381.3L410.0 380.6L410.2 381.0L410.4 381.6L410.6 380.8L410.8 380.9L411.0 380.7L411.2 380.6L411.4 380.7L411.6 380.8L411.8 381.5L412.0 380.2L412.2 381.2L412.4 381.9L412.6 381.4L412.8 382.0L413.0 382.0L413.2 382.8L413.4 383.3L413.6 383.9L413.8 383.7L414.0 383.3L414.2 384.0L414.4 384.4L414.6 385.1L414.8 383.4L415.0 384.9L415.2 384.0L415.4 385.5L415.6 385.5L415.8 385.7L416.0 386.0L416.2 385.9L416.4 385.4L416.6 386.0L416.8 386.6L417.0 386.0L417.2 386.1L417.4 385.5L417.6 386.9L417.8 386.0L418.0 386.0L418.2 386.2L418.4 386.0L418.6 386.3L418.8 387.2L419.0 387.0L419.2 387.3L419.4 387.4L419.6 386.2L419.8 386.9L420.0 387.5L420.2 387.9L420.4 386.0L420.6 386.0L420.8 387.0L421.0 386.6L421.2 386.3L421.4 387.0L421.6 386.4L421.8 385.7L422.0 386.9L422.2 386.9L422.4 387.2L422.6 387.4L422.8 387.0L423.0 386.8L423.2 386.6L423.4 386.1L423.6 386.7L423.8 387.5L424.0 387.3L424.2 388.1L424.4 386.9L424.6 386.1L424.8 387.5L425.0 387.6L425.2 386.4L425.4 386.2L425.6 387.1L425.8 387.4L426.0 386.5L426.2 386.9L426.4 386.7L426.6 386.5L426.8 386.4L427.0 387.2L427.2 386.9L427.4 386.8L427.6 385.8L427.8 388.1L428.0 386.7L428.2 387.1L428.4 386.6L428.6 387.4L428.8 386.4L429.0 387.2L429.2 387.1L429.4 387.7L429.6 386.6L429.8 386.8L430.0 387.1L430.2 388.3L430.4 386.4L430.6 387.3L430.8 386.9L431.0 387.4L431.2 387.5L431.4 387.3L431.6 387.3L431.8 387.4L432.0 386.9L432.2 387.1L432.4 386.3L432.6 387.0L432.8 386.8L433.0 387.1L433.2 387.6L433.4 387.4L433.6 387.5L433.8 387.8L434.0 386.0L434.2 387.4L434.4 387.2L434.6 387.2L434.8 386.5L435.0 387.5L435.2 387.8L435.4 387.8L435.6 387.2L435.8 387.5L436.0 387.7L436.2 388.2L436.4 387.8L436.6 387.3L436.8 387.2L437.0 387.3L437.2 387.3L437.4 386.9L437.6 387.6L437.8 386.8L438.0 386.8L438.2 387.4L438.4 386.9L438.6 387.0L438.8 386.1L439.0 387.6L439.2 387.2L439.4 387.1L439.6 387.4L439.8 387.3L440.0 386.8L440.2 388.2L440.4 386.9L440.6 387.6L440.8 388.1L441.0 386.8L441.2 387.1L441.4 386.7L441.6 387.6L441.8 386.9L442.0 386.5L442.2 387.8L442.4 387.5L442.6 386.6L442.8 387.7L443.0 387.1L443.2 388.4L443.4 387.9L443.6 386.7L443.8 386.8L444.0 386.5L444.2 387.0L444.4 387.0L444.6 387.3L444.8 387.0L445.0 386.1L445.2 386.5L445.4 387.6L445.6 387.5L445.8 386.8L446.0 386.8L446.2 386.8L446.4 386.8L446.6 385.9L446.8 387.3L447.0 386.4L447.2 386.8L447.4 385.4L447.6 386.8L447.8 387.4L448.0 385.5L448.2 387.5L448.4 386.9L448.6 386.2L448.8 385.8L449.0 387.2L449.2 386.7L449.4 386.8L449.6 386.4L449.8 386.1L450.0 386.9L450.2 385.9L450.4 386.9L450.6 385.5L450.8 385.9L451.0 385.6L451.2 387.0L451.4 385.3L451.6 385.6L451.8 386.5L452.0 386.3L452.2 387.3L452.4 387.0L452.6 386.3L452.8 386.3L453.0 385.0L453.2 385.4L453.4 385.7L453.6 385.7L453.8 385.0L454.0 385.2L454.2 385.2L454.4 386.1L454.6 385.7L454.8 385.3L455.0 385.2L455.2 385.4L455.4 384.8L455.6 385.0L455.8 384.1L456.0 385.3L456.2 385.3L456.4 384.9L456.6 384.9L456.8 384.7L457.0 385.5L457.2 384.4L457.4 383.4L457.6 383.4L457.8 384.2L458.0 384.2L458.2 383.9L458.4 383.7L458.6 383.2L458.8 382.1L459.0 382.2L459.2 381.4L459.4 381.9L459.6 381.1L459.8 381.6L460.0 381.2L460.2 379.9L460.4 381.0L460.6 380.7L460.8 379.2L461.0 379.6L461.2 379.5L461.4 378.5L461.6 378.6L461.8 377.8L462.0 377.8L462.2 376.8L462.4 376.1L462.6 375.8L462.8 375.4L463.0 374.5L463.2 373.5L463.4 372.7L463.6 372.2L463.8 371.4L464.0 371.1L464.2 370.4L464.4 369.5L464.6 368.7L464.8 368.0L465.0 368.0L465.2 367.0L465.4 365.2L465.6 364.9L465.8 363.7L466.0 363.0L466.2 362.1L466.4 361.2L466.6 360.1L466.8 358.9L467.0 359.2L467.2 358.8L467.4 357.4L467.6 357.2L467.8 356.4L468.0 356.0L468.2 355.3L468.4 355.0L468.6 354.6L468.8 354.1L469.0 354.2L469.2 354.0L469.4 353.8L469.6 354.1L469.8 354.2L470.0 354.4L470.2 354.7L470.4 354.9L470.6 355.2L470.8 355.8L471.0 356.3L471.2 357.6L471.4 358.2L471.6 358.2L471.8 358.9L472.0 360.0L472.2 360.8L472.4 361.1L472.6 361.8L472.8 363.9L473.0 364.4L473.2 363.9L473.4 364.6L473.6 365.9L473.8 367.2L474.0 368.2L474.2 368.5L474.4 368.6L474.6 370.3L474.8 371.3L475.0 371.7L475.2 372.1L475.4 373.3L475.6 373.7L475.8 373.7L476.0 375.0L476.2 374.8L476.4 376.6L476.6 376.9L476.8 376.6L477.0 377.7L477.2 378.8L477.4 377.4L477.6 378.9L477.8 380.3L478.0 378.9L478.2 380.0L478.4 379.7L478.6 380.8L478.8 379.8L479.0 380.6L479.2 381.4L479.4 382.0L479.6 382.4L479.8 382.7L480.0 383.3L480.2 383.2L480.4 383.4L480.6 382.7L480.8 383.3L481.0 385.3L481.2 384.9L481.4 384.3L481.6 384.3L481.8 384.6L482.0 383.9L482.2 385.3L482.4 384.1L482.6 384.4L482.8 385.7L483.0 383.4L483.2 384.8L483.4 383.7L483.6 384.4L483.8 384.7L484.0 384.6L484.2 384.9L484.4 384.4L484.6 384.8L484.8 384.2L485.0 384.6L485.2 384.1L485.4 385.1L485.6 384.1L485.8 385.1L486.0 384.5L486.2 384.5L486.4 385.3L486.6 384.6L486.8 383.5L487.0 384.7L487.2 382.8L487.4 384.4L487.6 384.0L487.8 383.4L488.0 384.1L488.2 383.8L488.4 384.9L488.6 383.5L488.8 384.7L489.0 384.3L489.2 383.1L489.4 382.9L489.6 384.0L489.8 383.1L490.0 383.1L490.2 382.8L490.4 382.2L490.6 382.6L490.8 382.2L491.0 381.8L491.2 382.5L491.4 383.6L491.6 383.5L491.8 382.5L492.0 382.7L492.2 382.9L492.4 383.4L492.6 382.9L492.8 382.5L493.0 382.6L493.2 383.6L493.4 384.5L493.6 382.8L493.8 382.2L494.0 383.9L494.2 383.5L494.4 383.8L494.6 384.5L494.8 384.0L495.0 383.4L495.2 383.2L495.4 384.4L495.6 383.9L495.8 384.9L496.0 384.2L496.2 384.8L496.4 384.3L496.6 385.0L496.8 385.1L497.0 385.8L497.2 386.3L497.4 385.6L497.6 385.3L497.8 387.0L498.0 386.2L498.2 386.4L498.4 386.5L498.6 387.1L498.8 386.9L499.0 386.8L499.2 386.9L499.4 386.1L499.6 386.3L499.8 386.6L500.0 386.8L500.2 386.8L500.4 387.0L500.6 386.9L500.8 386.7L501.0 386.1L501.2 387.5L501.4 387.4L501.6 386.6L501.8 387.4L502.0 387.4L502.2 387.2L502.4 386.2L502.6 386.6L502.8 386.9L503.0 388.2L503.2 386.9L503.4 387.2L503.6 386.8L503.8 387.1L504.0 387.6L504.2 386.3L504.4 385.9L504.6 387.8L504.8 387.5L505.0 387.2L505.2 388.0L505.4 388.0L505.6 386.4L505.8 387.4L506.0 388.2L506.2 387.2L506.4 387.4L506.6 388.1L506.8 387.4L507.0 386.9L507.2 387.2L507.4 386.9L507.6 387.9L507.8 386.7L508.0 388.2L508.2 386.8L508.4 387.7L508.6 386.9L508.8 387.5L509.0 388.3L509.2 388.3L509.4 388.4L509.6 387.7L509.8 387.8L510.0 387.9L510.2 388.1L510.4 387.5L510.6 388.4L510.8 387.9L511.0 388.4L511.2 388.0L511.4 388.2L511.6 387.4L511.8 387.6L512.0 387.1L512.2 387.6L512.4 387.7L512.6 388.3L512.8 387.1L513.0 389.6L513.2 387.8L513.4 388.5L513.6 388.4L513.8 386.5L514.0 387.7L514.2 388.7L514.4 386.5L514.6 388.3L514.8 387.4L515.0 387.6L515.2 388.0L515.4 386.9L515.6 388.0L515.8 387.5L516.0 387.5L516.2 388.3L516.4 389.8L516.6 388.1L516.8 388.2L517.0 387.9L517.2 387.5L517.4 388.1L517.6 388.8L517.8 388.0L518.0 388.4L518.2 387.8L518.4 389.3L518.6 387.0L518.8 388.3L519.0 388.2L519.2 388.1L519.4 387.3L519.6 387.3L519.8 387.8L520.0 388.0L520.2 387.3L520.4 387.4L520.6 388.3L520.8 388.5L521.0 387.7L521.2 387.6L521.4 387.6L521.6 389.3L521.8 388.3L522.0 387.9L522.2 388.5L522.4 389.3L522.6 388.6L522.8 387.2L523.0 387.9L523.2 387.8L523.4 387.8L523.6 387.3L523.8 387.8L524.0 387.4L524.2 388.2L524.4 388.0L524.6 387.2L524.8 387.1L525.0 387.7L525.2 388.4L525.4 388.3L525.6 388.0L525.8 386.2L526.0 387.8L526.2 387.6L526.4 387.8L526.6 387.4L526.8 387.8L527.0 387.7L527.2 389.5L527.4 388.4L527.6 387.9L527.8 388.0L528.0 388.0L528.2 388.1L528.4 387.8L528.6 388.0L528.8 388.6L529.0 388.5L529.2 388.2L529.4 388.8L529.6 388.2L529.8 387.5L530.0 387.1L530.2 387.7L530.4 388.0L530.6 388.3L530.8 388.7L531.0 387.7L531.2 387.6L531.4 388.5L531.6 388.7L531.8 387.8L532.0 388.3L532.2 388.8L532.4 388.2L532.6 388.0L532.8 386.9L533.0 388.8L533.2 388.4L533.4 388.1L533.6 387.8L533.8 387.4L534.0 388.0L534.2 388.0L534.4 388.7L534.6 387.4L534.8 388.9L535.0 388.1L535.2 388.7L535.4 387.5L535.6 388.3L535.8 388.8L536.0 388.1L536.2 387.3L536.4 387.9L536.6 388.4L536.8 387.3L537.0 387.3L537.2 388.2L537.4 387.6L537.6 388.5L537.8 387.4L538.0 387.1L538.2 387.7L538.4 388.9L538.6 387.6L538.8 388.1L539.0 388.2L539.2 387.6L539.4 388.7L539.6 388.2L539.8 388.3L540.0 387.2L540.2 387.1L540.4 386.6L540.6 388.0L540.8 388.0L541.0 388.5L541.2 388.9L541.4 387.9L541.6 387.9L541.8 388.3L542.0 388.9L542.2 387.6L542.4 388.4L542.6 387.9L542.8 387.9L543.0 388.5L543.2 387.6L543.4 387.5L543.6 388.4L543.8 388.0L544.0 387.9L544.2 388.0L544.4 388.3L544.6 387.8L544.8 388.5L545.0 388.3L545.2 388.8L545.4 388.7L545.6 388.5L545.8 387.9L546.0 388.1L546.2 387.7L546.4 389.6L546.6 387.9L546.8 388.3L547.0 388.7L547.2 387.2L547.4 387.5L547.6 387.8L547.8 387.4L548.0 387.3L548.2 387.7L548.4 388.7L548.6 388.4L548.8 388.0L549.0 388.0L549.2 387.0L549.4 388.3L549.6 388.2L549.8 387.3L550.0 388.0L550.2 387.8L550.4 387.6L550.6 387.4L550.8 387.5L551.0 387.4L551.2 388.2L551.4 388.1L551.6 388.1L551.8 387.8L552.0 387.7L552.2 389.0L552.4 386.8L552.6 388.5L552.8 388.1L553.0 387.9L553.2 387.6L553.4 387.7L553.6 387.2L553.8 387.1L554.0 387.8L554.2 386.9L554.4 388.3L554.6 388.4L554.8 385.9L555.0 386.9L555.2 387.9L555.4 387.9L555.6 387.8L555.8 388.0L556.0 388.2L556.2 388.2L556.4 388.7L556.6 387.8L556.8 388.2L557.0 386.8L557.2 387.6L557.4 387.0L557.6 388.5L557.8 389.0L558.0 388.0L558.2 387.0L558.4 387.6L558.6 387.7L558.8 387.8L559.0 388.3L559.2 388.2L559.4 386.2L559.6 388.4L559.8 387.4L560.0 387.3L560.2 388.4L560.4 387.5L560.6 386.8L560.8 386.9L561.0 387.6L561.2 388.1L561.4 388.4L561.6 387.5L561.8 387.3L562.0 388.4L562.2 387.3L562.4 388.3L562.6 387.6L562.8 387.6L563.0 387.4L563.2 387.7L563.4 387.2L563.6 387.1L563.8 387.4L564.0 387.1L564.2 387.6L564.4 387.5L564.6 387.3L564.8 387.3L565.0 387.3L565.2 388.3L565.4 387.4L565.6 387.0L565.8 387.2L566.0 387.7L566.2 387.2L566.4 387.2L566.6 387.2L566.8 387.4L567.0 387.5L567.2 387.5L567.4 386.3L567.6 386.6L567.8 385.7L568.0 387.6L568.2 387.8L568.4 387.8L568.6 387.2L568.8 387.7L569.0 387.0L569.2 386.9L569.4 386.1L569.6 386.5L569.8 386.6L570.0 387.4L570.2 387.8L570.4 386.5L570.6 387.0L570.8 386.9L571.0 386.2L571.2 385.7L571.4 386.2L571.6 385.7L571.8 386.3L572.0 386.3L572.2 386.2L572.4 386.2L572.6 386.5L572.8 385.6L573.0 386.5L573.2 385.1L573.4 385.9L573.6 386.0L573.8 385.3L574.0 384.8L574.2 385.9L574.4 385.1L574.6 385.8L574.8 385.7L575.0 385.1L575.2 385.0L575.4 385.5L575.6 385.0L575.8 384.2L576.0 384.7L576.2 384.8L576.4 384.5L576.6 384.3L576.8 384.0L577.0 383.9L577.2 383.4L577.4 383.0L577.6 384.3L577.8 383.2L578.0 383.5L578.2 382.5L578.4 383.3L578.6 382.7L578.8 384.7L579.0 382.4L579.2 382.4L579.4 383.4L579.6 383.5L579.8 381.7L580.0 382.9L580.2 383.3L580.4 382.1L580.6 383.2L580.8 382.6L581.0 382.3L581.2 382.7L581.4 382.7L581.6 382.3L581.8 384.4L582.0 383.0L582.2 382.9L582.4 383.9L582.6 383.5L582.8 384.4L583.0 383.6L583.2 384.1L583.4 384.1L583.6 384.2L583.8 384.1L584.0 384.3L584.2 385.4L584.4 384.2L584.6 384.4L584.8 384.7L585.0 385.3L585.2 385.3L585.4 385.7L585.6 384.6L585.8 385.5L586.0 385.4L586.2 385.4L586.4 385.8L586.6 384.7L586.8 386.0L587.0 386.0L587.2 385.3L587.4 386.1L587.6 387.0L587.8 386.1L588.0 386.7L588.2 386.3L588.4 386.0L588.6 386.0L588.8 386.4L589.0 387.3L589.2 387.1L589.4 386.4L589.6 387.3L589.8 386.8L590.0 386.5L590.2 387.2L590.4 386.5L590.6 386.1L590.8 387.7L591.0 386.1L591.2 387.4L591.4 386.3L591.6 387.1L591.8 387.1L592.0 387.0L592.2 386.0L592.4 387.2L592.6 387.3L592.8 386.8L593.0 387.3L593.2 387.9L593.4 387.0L593.6 387.5L593.8 386.8L594.0 387.6L594.2 387.8L594.4 388.8L594.6 387.9L594.8 387.7L595.0 388.2L595.2 386.9L595.4 388.1L595.6 387.2L595.8 387.2L596.0 388.1L596.2 387.7L596.4 388.3L596.6 386.8L596.8 387.7L597.0 387.3L597.2 387.4L597.4 386.5L597.6 388.1L597.8 387.7L598.0 387.1L598.2 386.9L598.4 387.1L598.6 388.4L598.8 387.6L599.0 387.5L599.2 387.9L599.4 387.7L599.6 387.8L599.8 388.1L600.0 387.8L600.2 388.1L600.4 387.0L600.6 387.7L600.8 387.5L601.0 387.7L601.2 387.7L601.4 387.3L601.6 387.5L601.8 388.2L602.0 387.4L602.2 387.0L602.4 388.0L602.6 388.2L602.8 387.6L603.0 387.8L603.2 387.3L603.4 387.6L603.6 388.3L603.8 388.2L604.0 387.8L604.2 387.6L604.4 386.8L604.6 387.9L604.8 388.0L605.0 388.3L605.2 388.8L605.4 387.9L605.6 388.3L605.8 387.1L606.0 388.4L606.2 388.2L606.4 388.5L606.6 388.1L606.8 388.0L607.0 388.5L607.2 387.4L607.4 388.1L607.6 388.3L607.8 387.3L608.0 387.1L608.2 388.0L608.4 387.8L608.6 388.1L608.8 388.1L609.0 387.3L609.2 387.9L609.4 388.3L609.6 387.5L609.8 387.6L610.0 387.1L610.2 388.2L610.4 388.8L610.6 387.0L610.8 388.1L611.0 388.2L611.2 387.4L611.4 387.5L611.6 387.2L611.8 387.3L612.0 387.8L612.2 388.1L612.4 387.8L612.6 388.2L612.8 387.8L613.0 387.1L613.2 388.5L613.4 388.3L613.6 387.3L613.8 388.6L614.0 387.9L614.2 387.7L614.4 388.7L614.6 386.3L614.8 386.8L615.0 388.0L615.2 387.5L615.4 387.1L615.6 388.4L615.8 387.9L616.0 386.9L616.2 387.3L616.4 388.1L616.6 388.6L616.8 386.5L617.0 387.7L617.2 387.4L617.4 386.6L617.6 387.5L617.8 386.7L618.0 387.3L618.2 388.4L618.4 387.8L618.6 388.0L618.8 387.9L619.0 387.7L619.2 388.0L619.4 386.9L619.6 387.3L619.8 387.9L620.0 387.1L620.2 387.2L620.4 388.1L620.6 388.3L620.8 387.1L621.0 387.0L621.2 387.7L621.4 387.5L621.6 387.0L621.8 387.7L622.0 387.7L622.2 387.4L622.4 388.9L622.6 388.1L622.8 387.7L623.0 387.8L623.2 388.9L623.4 387.9L623.6 386.9L623.8 387.4L624.0 387.3L624.2 386.9L624.4 387.3L624.6 387.3L624.8 387.1L625.0 386.9L625.2 387.5L625.4 386.2L625.6 387.5L625.8 387.0L626.0 387.1L626.2 385.7L626.4 387.9L626.6 386.0L626.8 386.4L627.0 387.2L627.2 386.5L627.4 386.6L627.6 385.6L627.8 386.5L628.0 386.8L628.2 387.0L628.4 386.4L628.6 386.7L628.8 386.7L629.0 386.1L629.2 386.0L629.4 387.4L629.6 385.8L629.8 386.9L630.0 386.2L630.2 386.9L630.4 385.7L630.6 386.3L630.8 386.1L631.0 385.7L631.2 385.9L631.4 385.3L631.6 385.5L631.8 385.3L632.0 385.8L632.2 385.2L632.4 384.4L632.6 384.9L632.8 384.9L633.0 384.4L633.2 385.4L633.4 384.8L633.6 384.9L633.8 383.9L634.0 384.0L634.2 384.6L634.4 383.1L634.6 383.9L634.8 383.6L635.0 383.1L635.2 383.2L635.4 382.4L635.6 382.9L635.8 381.9L636.0 381.7L636.2 382.9L636.4 381.6L636.6 380.6L636.8 382.1L637.0 380.9L637.2 379.2L637.4 380.8L637.6 381.1L637.8 380.6L638.0 381.1L638.2 379.8L638.4 380.0L638.6 378.9L638.8 379.3L639.0 379.8L639.2 379.0L639.4 378.6L639.6 377.2L639.8 377.9L640.0 377.2L640.2 378.1L640.4 377.1L640.6 377.6L640.8 376.7L641.0 378.2L641.2 376.4L641.4 377.0L641.6 378.3L641.8 377.0L642.0 376.4L642.2 377.2L642.4 377.4L642.6 377.4L642.8 375.9L643.0 377.2L643.2 376.0L643.4 378.3L643.6 377.4L643.8 377.3L644.0 378.1L644.2 378.2L644.4 377.4L644.6 379.2L644.8 378.4L645.0 377.7L645.2 379.7L645.4 380.0L645.6 380.0L645.8 379.9L646.0 379.3L646.2 380.5L646.4 381.2L646.6 380.9L646.8 381.5L647.0 380.4L647.2 381.6L647.4 381.8L647.6 380.7L647.8 380.8L648.0 381.4L648.2 382.1L648.4 382.4L648.6 382.2L648.8 382.5L649.0 382.6L649.2 382.9L649.4 383.3L649.6 383.4L649.8 383.2L650.0 383.5L650.2 383.2L650.4 384.0L650.6 383.4L650.8 384.6L651.0 383.8L651.2 384.1L651.4 383.6L651.6 383.9L651.8 384.2L652.0 384.2L652.2 383.9L652.4 383.6L652.6 384.3L652.8 384.4L653.0 384.6L653.2 385.0L653.4 384.2L653.6 383.3L653.8 384.3L654.0 383.3L654.2 383.6L654.4 384.9L654.6 384.6L654.8 383.9L655.0 383.9L655.2 384.1L655.4 383.2L655.6 384.3L655.8 383.8L656.0 384.9L656.2 383.3L656.4 384.3L656.6 383.3L656.8 384.2L657.0 383.0L657.2 383.8L657.4 383.1L657.6 382.8L657.8 383.0L658.0 383.3L658.2 383.1L658.4 383.6L658.6 383.1L658.8 381.1L659.0 382.2L659.2 381.2L659.4 381.9L659.6 382.4L659.8 381.2L660.0 381.1L660.2 381.8L660.4 381.4L660.6 382.3L660.8 381.6L661.0 381.6L661.2 382.2L661.4 380.9L661.6 381.1L661.8 380.5L662.0 381.2L662.2 381.6L662.4 381.8L662.6 381.0L662.8 380.7L663.0 380.7L663.2 380.4L663.4 381.3L663.6 382.0L663.8 380.1L664.0 380.3L664.2 382.4L664.4 380.8L664.6 382.0L664.8 381.3L665.0 382.5L665.2 382.6L665.4 382.4L665.6 382.9L665.8 382.6L666.0 383.1L666.2 383.9L666.4 383.6L666.6 382.8L666.8 382.9L667.0 383.3L667.2 383.4L667.4 383.7L667.6 383.5L667.8 384.3L668.0 384.1L668.2 384.4L668.4 384.3L668.6 384.7L668.8 383.8L669.0 385.5L669.2 384.9L669.4 385.0L669.6 385.2" fill="none" stroke="#00B050" stroke-width="2.6" stroke-linejoin="round" stroke-linecap="round"/>
<path d="M35.2 379.0L35.4 380.8L35.6 382.5L35.8 384.2L36.0 385.3L36.2 388.2L36.4 389.8L36.6 391.6L36.8 394.9L37.0 394.4L37.2 397.2L37.4 399.6L37.6 401.2L37.8 403.0L38.0 403.3L38.2 405.1L38.4 407.6L38.6 408.7L38.8 411.4L39.0 412.1L39.2 413.6L39.4 415.3L39.6 416.4L39.8 418.1L40.0 419.1L40.2 420.9L40.4 422.1L40.6 424.0L40.8 424.5L41.0 425.9L41.2 428.4L41.4 429.7L41.6 430.6L41.8 432.6L42.0 433.8L42.2 437.1L42.4 436.6L42.6 439.9L42.8 439.9L43.0 441.8L43.2 442.5L43.4 443.4L43.6 444.7L43.8 445.1L44.0 445.0L44.2 445.0L44.4 447.0L44.6 446.9L44.8 446.5L45.0 446.4L45.2 447.0L45.4 447.1L45.6 447.8L45.8 446.8L46.0 447.5L46.2 447.2L46.4 448.5L46.6 448.9L46.8 447.9L47.0 448.4L47.2 449.0L47.4 448.1L47.6 447.9L47.8 449.0L48.0 448.8L48.2 448.5L48.4 449.5L48.6 449.0L48.8 447.9L49.0 449.2L49.2 449.0L49.4 450.2L49.6 449.2L49.8 449.2L50.0 449.6L50.2 449.6L50.4 448.7L50.6 449.7L50.8 449.5L51.0 450.5L51.2 451.1L51.4 449.2L51.6 449.4L51.8 449.5L52.0 449.7L52.2 449.7L52.4 450.2L52.6 450.8L52.8 449.6L53.0 449.5L53.2 449.4L53.4 451.0L53.6 451.2L53.8 449.7L54.0 449.7L54.2 450.7L54.4 451.3L54.6 451.3L54.8 450.9L55.0 451.3L55.2 451.1L55.4 450.7L55.6 452.1L55.8 451.1L56.0 450.5L56.2 450.9L56.4 450.4L56.6 451.3L56.8 452.0L57.0 450.7L57.2 452.1L57.4 452.7L57.6 451.8L57.8 451.0L58.0 451.2L58.2 451.5L58.4 451.0L58.6 451.1L58.8 451.7L59.0 451.8L59.2 452.3L59.4 451.3L59.6 453.0L59.8 452.6L60.0 452.6L60.2 451.8L60.4 453.2L60.6 452.0L60.8 453.3L61.0 452.9L61.2 451.9L61.4 452.2L61.6 453.5L61.8 453.0L62.0 452.4L62.2 452.7L62.4 452.7L62.6 452.2L62.8 452.6L63.0 452.4L63.2 452.5L63.4 453.1L63.6 452.3L63.8 453.3L64.0 453.0L64.2 453.4L64.4 453.5L64.6 453.7L64.8 453.4L65.0 453.5L65.2 453.0L65.4 453.5L65.6 452.7L65.8 453.1L66.0 453.7L66.2 453.3L66.4 453.6L66.6 452.8L66.8 454.1L67.0 453.1L67.2 453.7L67.4 453.5L67.6 454.0L67.8 453.3L68.0 453.0L68.2 452.6L68.4 453.5L68.6 453.0L68.8 454.0L69.0 454.5L69.2 452.5L69.4 453.1L69.6 454.0L69.8 454.5L70.0 454.0L70.2 454.1L70.4 454.2L70.6 454.3L70.8 454.9L71.0 454.3L71.2 453.4L71.4 453.8L71.6 454.2L71.8 453.7L72.0 454.0L72.2 453.9L72.4 453.8L72.6 454.6L72.8 454.0L73.0 453.7L73.2 453.9L73.4 454.4L73.6 455.5L73.8 454.5L74.0 455.2L74.2 454.7L74.4 453.3L74.6 454.7L74.8 454.0L75.0 453.8L75.2 454.0L75.4 455.6L75.6 453.7L75.8 454.3L76.0 455.3L76.2 455.0L76.4 453.8L76.6 454.7L76.8 454.5L77.0 454.7L77.2 455.2L77.4 454.5L77.6 454.7L77.8 455.7L78.0 453.9L78.2 454.7L78.4 455.2L78.6 454.3L78.8 454.6L79.0 454.3L79.2 455.1L79.4 454.7L79.6 455.5L79.8 455.7L80.0 455.1L80.2 454.9L80.4 455.3L80.6 455.2L80.8 454.5L81.0 455.8L81.2 455.4L81.4 455.7L81.6 454.5L81.8 455.8L82.0 456.5L82.2 455.7L82.4 454.5L82.6 455.4L82.8 455.4L83.0 455.5L83.2 455.3L83.4 455.7L83.6 455.2L83.8 455.6L84.0 455.1L84.2 455.6L84.4 456.1L84.6 455.3L84.8 455.9L85.0 455.1L85.2 455.4L85.4 455.5L85.6 456.3L85.8 455.2L86.0 456.4L86.2 454.9L86.4 455.6L86.6 456.2L86.8 456.1L87.0 455.2L87.2 455.1L87.4 456.3L87.6 455.1L87.8 456.2L88.0 455.6L88.2 455.9L88.4 457.2L88.6 456.8L88.8 456.4L89.0 455.2L89.2 456.1L89.4 456.0L89.6 455.9L89.8 456.7L90.0 455.0L90.2 456.2L90.4 456.1L90.6 455.6L90.8 457.0L91.0 455.4L91.2 456.1L91.4 456.2L91.6 454.9L91.8 455.3L92.0 455.6L92.2 456.6L92.4 456.7L92.6 456.5L92.8 456.3L93.0 455.0L93.2 456.4L93.4 456.0L93.6 456.9L93.8 457.0L94.0 457.5L94.2 456.7L94.4 456.8L94.6 455.8L94.8 456.4L95.0 455.7L95.2 456.9L95.4 455.7L95.6 456.3L95.8 456.0L96.0 456.2L96.2 456.7L96.4 456.1L96.6 456.6L96.8 455.9L97.0 457.3L97.2 456.1L97.4 457.1L97.6 457.7L97.8 455.2L98.0 456.0L98.2 456.4L98.4 457.2L98.6 456.3L98.8 456.8L99.0 456.2L99.2 456.9L99.4 456.0L99.6 457.1L99.8 455.0L100.0 455.6L100.2 457.7L100.4 456.8L100.6 456.2L100.8 458.0L101.0 457.3L101.2 457.4L101.4 456.5L101.6 457.1L101.8 457.1L102.0 455.9L102.2 457.1L102.4 456.7L102.6 457.5L102.8 457.6L103.0 456.5L103.2 456.5L103.4 457.0L103.6 457.3L103.8 456.7L104.0 456.8L104.2 457.3L104.4 457.2L104.6 457.6L104.8 457.1L105.0 456.5L105.2 456.0L105.4 457.4L105.6 456.8L105.8 456.8L106.0 456.9L106.2 456.2L106.4 456.8L106.6 455.6L106.8 456.8L107.0 456.6L107.2 458.1L107.4 457.4L107.6 457.0L107.8 457.2L108.0 457.6L108.2 456.7L108.4 457.0L108.6 457.0L108.8 458.6L109.0 457.2L109.2 456.1L109.4 457.7L109.6 458.7L109.8 456.7L110.0 459.2L110.2 457.2L110.4 457.8L110.6 457.0L110.8 457.2L111.0 456.6L111.2 456.7L111.4 456.1L111.6 458.0L111.8 456.7L112.0 457.6L112.2 457.6L112.4 457.0L112.6 457.4L112.8 457.4L113.0 457.2L113.2 457.5L113.4 457.5L113.6 456.9L113.8 456.7L114.0 457.0L114.2 457.6L114.4 458.3L114.6 458.4L114.8 457.7L115.0 458.1L115.2 457.6L115.4 458.2L115.6 457.7L115.8 457.8L116.0 457.5L116.2 457.6L116.4 458.7L116.6 457.0L116.8 457.7L117.0 457.3L117.2 458.2L117.4 458.7L117.6 457.5L117.8 456.1L118.0 458.1L118.2 458.1L118.4 456.8L118.6 457.6L118.8 457.7L119.0 456.5L119.2 458.2L119.4 458.1L119.6 458.0L119.8 457.2L120.0 457.4L120.2 457.5L120.4 458.1L120.6 457.3L120.8 458.7L121.0 458.1L121.2 456.7L121.4 458.9L121.6 458.0L121.8 457.6L122.0 458.0L122.2 456.9L122.4 458.1L122.6 456.6L122.8 457.4L123.0 458.8L123.2 458.8L123.4 457.9L123.6 457.5L123.8 458.6L124.0 458.1L124.2 458.2L124.4 458.5L124.6 457.5L124.8 458.6L125.0 456.9L125.2 459.0L125.4 457.3L125.6 457.8L125.8 457.8L126.0 458.6L126.2 458.6L126.4 458.4L126.6 458.5L126.8 458.5L127.0 458.2L127.2 457.2L127.4 457.0L127.6 457.0L127.8 458.3L128.0 458.2L128.2 458.2L128.4 458.5L128.6 458.2L128.8 457.8L129.0 457.5L129.2 457.3L129.4 459.1L129.6 458.9L129.8 457.6L130.0 458.3L130.2 458.7L130.4 459.3L130.6 458.1L130.8 458.5L131.0 459.1L131.2 457.5L131.4 458.1L131.6 458.5L131.8 458.1L132.0 459.7L132.2 459.0L132.4 458.6L132.6 458.0L132.8 459.0L133.0 458.9L133.2 458.3L133.4 458.3L133.6 457.7L133.8 458.5L134.0 459.1L134.2 459.2L134.4 458.9L134.6 459.1L134.8 458.3L135.0 458.4L135.2 459.3L135.4 458.9L135.6 458.2L135.8 459.0L136.0 459.2L136.2 459.1L136.4 458.8L136.6 458.4L136.8 458.9L137.0 459.7L137.2 458.8L137.4 458.4L137.6 458.9L137.8 458.0L138.0 458.9L138.2 458.6L138.4 459.3L138.6 458.8L138.8 459.4L139.0 460.1L139.2 458.7L139.4 458.3L139.6 459.1L139.8 458.8L140.0 458.9L140.2 458.5L140.4 459.2L140.6 458.9L140.8 457.6L141.0 458.7L141.2 459.0L141.4 459.5L141.6 458.5L141.8 458.4L142.0 459.5L142.2 458.5L142.4 458.9L142.6 459.2L142.8 459.3L143.0 458.9L143.2 458.3L143.4 459.5L143.6 458.7L143.8 458.6L144.0 460.1L144.2 459.4L144.4 458.3L144.6 458.7L144.8 458.8L145.0 458.5L145.2 457.9L145.4 459.4L145.6 459.4L145.8 459.1L146.0 458.7L146.2 459.1L146.4 459.3L146.6 458.4L146.8 458.8L147.0 458.7L147.2 459.4L147.4 459.2L147.6 458.3L147.8 458.7L148.0 460.0L148.2 458.5L148.4 459.1L148.6 458.7L148.8 459.7L149.0 459.0L149.2 458.8L149.4 458.4L149.6 458.9L149.8 459.5L150.0 459.4L150.2 458.3L150.4 460.0L150.6 458.9L150.8 458.5L151.0 459.1L151.2 458.7L151.4 458.8L151.6 458.7L151.8 459.0L152.0 458.8L152.2 458.1L152.4 459.4L152.6 458.8L152.8 459.8L153.0 459.4L153.2 459.5L153.4 459.2L153.6 459.9L153.8 458.9L154.0 458.6L154.2 459.3L154.4 457.6L154.6 458.9L154.8 459.3L155.0 458.9L155.2 459.9L155.4 459.6L155.6 459.2L155.8 458.9L156.0 459.8L156.2 458.8L156.4 458.9L156.6 459.6L156.8 459.5L157.0 460.3L157.2 459.1L157.4 458.1L157.6 459.6L157.8 459.9L158.0 459.1L158.2 460.1L158.4 460.2L158.6 458.8L158.8 458.9L159.0 458.5L159.2 459.5L159.4 459.6L159.6 459.6L159.8 458.5L160.0 458.8L160.2 458.4L160.4 458.3L160.6 458.5L160.8 458.3L161.0 459.1L161.2 459.5L161.4 459.6L161.6 459.2L161.8 458.9L162.0 459.2L162.2 459.6L162.4 459.1L162.6 459.3L162.8 459.1L163.0 459.0L163.2 459.3L163.4 458.6L163.6 459.9L163.8 458.4L164.0 459.5L164.2 458.5L164.4 460.1L164.6 459.8L164.8 458.8L165.0 459.0L165.2 458.6L165.4 459.3L165.6 459.5L165.8 460.7L166.0 458.5L166.2 460.0L166.4 459.0L166.6 459.5L166.8 459.8L167.0 459.6L167.2 459.5L167.4 459.2L167.6 459.3L167.8 459.4L168.0 460.0L168.2 458.5L168.4 459.0L168.6 458.6L168.8 458.8L169.0 458.9L169.2 459.9L169.4 460.5L169.6 460.1L169.8 458.7L170.0 459.4L170.2 458.7L170.4 459.6L170.6 460.1L170.8 459.7L171.0 459.8L171.2 459.3L171.4 458.2L171.6 458.2L171.8 459.3L172.0 459.7L172.2 460.1L172.4 459.2L172.6 459.4L172.8 459.5L173.0 460.0L173.2 459.3L173.4 458.7L173.6 460.0L173.8 459.6L174.0 459.6L174.2 458.6L174.4 459.4L174.6 458.4L174.8 458.2L175.0 459.2L175.2 459.1L175.4 459.7L175.6 460.2L175.8 459.4L176.0 460.4L176.2 459.0L176.4 459.8L176.6 458.7L176.8 459.5L177.0 459.2L177.2 459.3L177.4 459.7L177.6 458.3L177.8 459.4L178.0 458.9L178.2 459.5L178.4 459.6L178.6 459.2L178.8 459.2L179.0 458.7L179.2 459.7L179.4 459.0L179.6 459.6L179.8 458.6L180.0 460.2L180.2 458.8L180.4 460.0L180.6 459.1L180.8 459.7L181.0 459.3L181.2 459.8L181.4 459.4L181.6 460.1L181.8 459.8L182.0 459.8L182.2 460.3L182.4 459.0L182.6 460.1L182.8 459.4L183.0 458.6L183.2 459.7L183.4 459.3L183.6 460.3L183.8 459.1L184.0 459.4L184.2 459.5L184.4 458.3L184.6 459.7L184.8 458.8L185.0 460.2L185.2 460.3L185.4 459.4L185.6 458.5L185.8 459.5L186.0 459.5L186.2 459.8L186.4 459.2L186.6 458.7L186.8 459.3L187.0 458.9L187.2 460.4L187.4 459.0L187.6 459.0L187.8 459.4L188.0 458.7L188.2 459.1L188.4 459.3L188.6 459.1L188.8 459.2L189.0 460.1L189.2 459.6L189.4 458.6L189.6 459.1L189.8 459.8L190.0 459.0L190.2 459.4L190.4 459.4L190.6 459.7L190.8 459.3L191.0 459.3L191.2 458.9L191.4 459.6L191.6 458.8L191.8 460.3L192.0 459.4L192.2 459.2L192.4 459.8L192.6 459.3L192.8 459.4L193.0 459.3L193.2 458.9L193.4 458.8L193.6 459.0L193.8 460.0L194.0 459.0L194.2 459.1L194.4 459.1L194.6 459.7L194.8 460.4L195.0 458.8L195.2 459.6L195.4 459.4L195.6 459.2L195.8 459.6L196.0 458.6L196.2 459.8L196.4 459.4L196.6 458.7L196.8 460.2L197.0 459.8L197.2 459.9L197.4 458.5L197.6 459.1L197.8 459.0L198.0 459.6L198.2 460.0L198.4 458.2L198.6 459.3L198.8 459.2L199.0 459.8L199.2 459.2L199.4 458.5L199.6 459.1L199.8 458.6L200.0 458.8L200.2 459.2L200.4 458.9L200.6 459.4L200.8 458.3L201.0 460.5L201.2 459.9L201.4 459.6L201.6 458.4L201.8 457.9L202.0 458.7L202.2 459.0L202.4 460.4L202.6 459.9L202.8 458.8L203.0 459.8L203.2 459.8L203.4 459.1L203.6 459.8L203.8 459.3L204.0 458.7L204.2 458.4L204.4 459.0L204.6 459.6L204.8 458.3L205.0 458.1L205.2 459.3L205.4 457.5L205.6 460.0L205.8 458.7L206.0 459.4L206.2 460.0L206.4 458.1L206.6 458.3L206.8 460.2L207.0 458.7L207.2 458.8L207.4 459.0L207.6 459.4L207.8 459.6L208.0 458.9L208.2 458.6L208.4 458.7L208.6 458.9L208.8 459.5L209.0 458.8L209.2 459.7L209.4 458.2L209.6 458.9L209.8 459.6L210.0 459.3L210.2 458.8L210.4 458.1L210.6 458.1L210.8 458.4L211.0 458.7L211.2 458.3L211.4 457.6L211.6 458.0L211.8 458.7L212.0 458.8L212.2 457.5L212.4 458.1L212.6 457.3L212.8 457.9L213.0 460.2L213.2 458.2L213.4 457.9L213.6 457.7L213.8 457.4L214.0 457.0L214.2 457.9L214.4 457.8L214.6 458.7L214.8 456.9L215.0 458.0L215.2 458.5L215.4 456.6L215.6 458.0L215.8 456.7L216.0 457.8L216.2 458.3L216.4 457.4L216.6 457.5L216.8 456.9L217.0 457.4L217.2 457.8L217.4 457.0L217.6 457.0L217.8 457.2L218.0 457.4L218.2 455.9L218.4 456.8L218.6 456.3L218.8 456.9L219.0 457.1L219.2 456.6L219.4 457.0L219.6 455.7L219.8 455.9L220.0 455.5L220.2 455.9L220.4 455.8L220.6 455.6L220.8 454.9L221.0 455.4L221.2 455.0L221.4 455.5L221.6 454.8L221.8 455.5L222.0 454.8L222.2 453.5L222.4 454.2L222.6 453.3L222.8 454.5L223.0 454.5L223.2 453.5L223.4 453.5L223.6 452.2L223.8 451.5L224.0 452.1L224.2 452.0L224.4 451.0L224.6 451.5L224.8 451.3L225.0 451.1L225.2 451.2L225.4 450.3L225.6 449.1L225.8 448.9L226.0 448.6L226.2 447.0L226.4 447.7L226.6 446.8L226.8 445.4L227.0 444.3L227.2 445.9L227.4 443.3L227.6 442.3L227.8 441.7L228.0 440.1L228.2 438.4L228.4 437.3L228.6 435.0L228.8 434.4L229.0 431.5L229.2 430.9L229.4 429.1L229.6 426.0L229.8 425.9L230.0 422.1L230.2 421.1L230.4 417.9L230.6 416.0L230.8 413.0L231.0 411.9L231.2 408.6L231.4 406.2L231.6 403.0L231.8 400.3L232.0 397.4L232.2 394.6L232.4 392.2L232.6 389.6L232.8 387.2L233.0 384.9L233.2 383.2L233.4 381.7L233.6 380.3L233.8 379.4L234.0 378.8L234.2 378.5L234.4 378.7L234.6 379.3L234.8 380.3L235.0 381.6L235.2 383.4L235.4 384.9L235.6 386.8L235.8 389.7L236.0 391.9L236.2 394.6L236.4 398.2L236.6 400.5L236.8 402.9L237.0 405.8L237.2 408.1L237.4 411.2L237.6 413.0L237.8 415.4L238.0 417.9L238.2 421.3L238.4 423.6L238.6 424.5L238.8 427.5L239.0 428.7L239.2 431.2L239.4 432.1L239.6 434.5L239.8 435.4L240.0 436.7L240.2 438.2L240.4 439.6L240.6 440.3L240.8 441.0L241.0 443.7L241.2 443.5L241.4 443.6L241.6 444.2L241.8 444.6L242.0 446.6L242.2 448.3L242.4 447.3L242.6 448.6L242.8 448.2L243.0 450.4L243.2 450.4L243.4 450.8L243.6 451.8L243.8 452.3L244.0 452.3L244.2 451.7L244.4 451.6L244.6 452.1L244.8 451.9L245.0 454.2L245.2 453.3L245.4 453.7L245.6 453.9L245.8 455.2L246.0 453.9L246.2 455.1L246.4 454.7L246.6 454.6L246.8 453.8L247.0 455.5L247.2 454.7L247.4 455.0L247.6 455.5L247.8 455.6L248.0 456.3L248.2 455.4L248.4 456.0L248.6 456.1L248.8 456.1L249.0 456.5L249.2 456.1L249.4 457.0L249.6 456.0L249.8 455.7L250.0 456.5L250.2 457.3L250.4 456.4L250.6 456.4L250.8 456.6L251.0 457.0L251.2 456.9L251.4 457.2L251.6 456.1L251.8 458.0L252.0 457.5L252.2 456.7L252.4 458.0L252.6 457.6L252.8 458.2L253.0 456.7L253.2 458.4L253.4 457.5L253.6 456.3L253.8 458.0L254.0 457.4L254.2 457.0L254.4 457.5L254.6 456.6L254.8 458.0L255.0 457.6L255.2 457.6L255.4 458.6L255.6 457.8L255.8 457.4L256.0 457.3L256.2 457.8L256.4 458.5L256.6 457.5L256.8 457.3L257.0 458.4L257.2 457.9L257.4 457.9L257.6 459.1L257.8 457.2L258.0 458.0L258.2 456.9L258.4 457.8L258.6 458.3L258.8 458.6L259.0 457.2L259.2 458.4L259.4 458.3L259.6 457.8L259.8 459.3L260.0 457.9L260.2 457.4L260.4 458.1L260.6 456.8L260.8 458.7L261.0 458.3L261.2 457.5L261.4 458.1L261.6 458.0L261.8 458.7L262.0 457.3L262.2 456.8L262.4 456.4L262.6 457.3L262.8 456.5L263.0 457.3L263.2 457.5L263.4 457.0L263.6 456.6L263.8 457.7L264.0 456.8L264.2 457.0L264.4 457.3L264.6 455.9L264.8 456.0L265.0 457.8L265.2 456.1L265.4 455.4L265.6 455.7L265.8 455.3L266.0 454.7L266.2 454.9L266.4 454.9L266.6 454.6L266.8 454.6L267.0 453.0L267.2 452.7L267.4 453.6L267.6 452.5L267.8 453.0L268.0 452.0L268.2 450.5L268.4 451.0L268.6 449.6L268.8 449.6L269.0 449.5L269.2 449.2L269.4 447.4L269.6 447.0L269.8 446.0L270.0 445.4L270.2 443.2L270.4 443.3L270.6 442.7L270.8 441.9L271.0 440.8L271.2 440.4L271.4 439.7L271.6 438.8L271.8 438.2L272.0 437.6L272.2 437.3L272.4 437.1L272.6 436.9L272.8 436.7L273.0 436.7L273.2 436.9L273.4 437.4L273.6 437.8L273.8 438.3L274.0 439.0L274.2 439.6L274.4 440.3L274.6 440.8L274.8 441.7L275.0 442.8L275.2 443.8L275.4 444.3L275.6 445.1L275.8 446.7L276.0 446.7L276.2 447.8L276.4 448.2L276.6 448.6L276.8 449.0L277.0 450.1L277.2 450.6L277.4 452.0L277.6 451.5L277.8 452.4L278.0 453.5L278.2 453.5L278.4 454.2L278.6 454.8L278.8 453.8L279.0 454.8L279.2 454.8L279.4 456.4L279.6 455.8L279.8 456.4L280.0 457.3L280.2 456.4L280.4 456.8L280.6 457.2L280.8 456.9L281.0 457.9L281.2 457.8L281.4 458.1L281.6 457.7L281.8 457.6L282.0 457.6L282.2 457.7L282.4 457.1L282.6 458.3L282.8 458.7L283.0 458.3L283.2 458.1L283.4 458.4L283.6 458.6L283.8 458.7L284.0 459.6L284.2 458.2L284.4 458.9L284.6 459.1L284.8 458.8L285.0 458.7L285.2 458.3L285.4 458.6L285.6 459.3L285.8 459.8L286.0 458.7L286.2 459.3L286.4 459.4L286.6 459.7L286.8 459.3L287.0 459.4L287.2 459.7L287.4 458.6L287.6 459.3L287.8 458.3L288.0 458.2L288.2 458.9L288.4 458.5L288.6 459.7L288.8 460.0L289.0 459.3L289.2 459.4L289.4 459.3L289.6 459.3L289.8 459.6L290.0 459.7L290.2 459.3L290.4 459.1L290.6 459.3L290.8 460.0L291.0 459.4L291.2 460.4L291.4 459.5L291.6 460.4L291.8 459.0L292.0 459.3L292.2 460.0L292.4 460.0L292.6 459.6L292.8 460.9L293.0 459.8L293.2 459.9L293.4 459.5L293.6 460.7L293.8 460.3L294.0 460.0L294.2 458.9L294.4 460.0L294.6 459.6L294.8 460.1L295.0 460.4L295.2 459.4L295.4 460.0L295.6 460.4L295.8 460.0L296.0 459.7L296.2 459.3L296.4 459.5L296.6 459.2L296.8 460.5L297.0 460.0L297.2 459.3L297.4 459.9L297.6 459.2L297.8 458.2L298.0 460.6L298.2 460.6L298.4 459.2L298.6 459.6L298.8 460.1L299.0 459.8L299.2 459.5L299.4 459.7L299.6 459.9L299.8 459.7L300.0 460.2L300.2 459.9L300.4 459.6L300.6 460.1L300.8 459.1L301.0 460.9L301.2 459.1L301.4 460.0L301.6 460.3L301.8 460.3L302.0 460.2L302.2 460.8L302.4 459.5L302.6 460.1L302.8 460.2L303.0 459.8L303.2 459.8L303.4 460.8L303.6 459.7L303.8 459.9L304.0 460.0L304.2 460.0L304.4 460.2L304.6 460.0L304.8 460.4L305.0 460.2L305.2 460.4L305.4 460.9L305.6 459.7L305.8 461.1L306.0 459.9L306.2 460.6L306.4 460.3L306.6 460.0L306.8 459.1L307.0 461.1L307.2 459.8L307.4 459.8L307.6 460.8L307.8 460.3L308.0 461.3L308.2 461.2L308.4 460.6L308.6 460.4L308.8 460.7L309.0 459.5L309.2 460.3L309.4 460.3L309.6 460.0L309.8 460.4L310.0 459.5L310.2 460.8L310.4 461.0L310.6 459.6L310.8 460.4L311.0 461.1L311.2 460.5L311.4 459.7L311.6 459.7L311.8 460.8L312.0 461.3L312.2 459.7L312.4 460.3L312.6 459.9L312.8 460.1L313.0 460.5L313.2 460.3L313.4 459.9L313.6 461.5L313.8 460.2L314.0 460.2L314.2 460.9L314.4 460.3L314.6 460.2L314.8 460.8L315.0 459.8L315.2 460.7L315.4 460.9L315.6 460.7L315.8 460.2L316.0 460.3L316.2 459.4L316.4 460.3L316.6 460.5L316.8 460.8L317.0 460.4L317.2 460.1L317.4 459.9L317.6 460.3L317.8 460.4L318.0 461.0L318.2 460.4L318.4 460.1L318.6 460.3L318.8 460.1L319.0 460.2L319.2 459.2L319.4 459.5L319.6 459.7L319.8 460.6L320.0 460.3L320.2 460.5L320.4 461.0L320.6 459.8L320.8 461.0L321.0 460.6L321.2 460.0L321.4 461.2L321.6 459.6L321.8 459.8L322.0 460.3L322.2 460.6L322.4 460.3L322.6 459.2L322.8 460.2L323.0 460.3L323.2 461.8L323.4 461.1L323.6 460.5L323.8 459.8L324.0 460.6L324.2 459.8L324.4 460.5L324.6 460.6L324.8 460.2L325.0 460.5L325.2 460.2L325.4 460.1L325.6 461.2L325.8 460.7L326.0 460.2L326.2 460.0L326.4 460.5L326.6 460.7L326.8 460.9L327.0 461.2L327.2 460.6L327.4 459.8L327.6 461.5L327.8 461.0L328.0 460.8L328.2 461.1L328.4 459.6L328.6 460.2L328.8 460.1L329.0 461.0L329.2 459.7L329.4 460.2L329.6 461.2L329.8 460.7L330.0 460.2L330.2 461.4L330.4 459.7L330.6 460.6L330.8 460.2L331.0 460.6L331.2 460.2L331.4 459.9L331.6 460.5L331.8 459.6L332.0 460.6L332.2 460.2L332.4 460.9L332.6 460.1L332.8 460.0L333.0 460.6L333.2 461.0L333.4 459.2L333.6 460.4L333.8 460.7L334.0 459.6L334.2 459.8L334.4 460.7L334.6 459.9L334.8 460.0L335.0 461.2L335.2 459.8L335.4 459.8L335.6 459.0L335.8 459.7L336.0 459.6L336.2 461.2L336.4 460.9L336.6 459.6L336.8 461.3L337.0 460.7L337.2 460.1L337.4 460.7L337.6 460.4L337.8 459.8L338.0 459.2L338.2 459.7L338.4 460.2L338.6 460.0L338.8 459.8L339.0 460.7L339.2 459.6L339.4 460.6L339.6 459.9L339.8 460.2L340.0 459.5L340.2 460.1L340.4 459.6L340.6 459.1L340.8 460.0L341.0 460.0L341.2 460.5L341.4 460.1L341.6 459.4L341.8 459.6L342.0 458.6L342.2 459.3L342.4 460.6L342.6 460.7L342.8 460.2L343.0 460.0L343.2 460.1L343.4 460.0L343.6 458.8L343.8 459.2L344.0 460.3L344.2 460.3L344.4 459.7L344.6 459.4L344.8 459.3L345.0 459.1L345.2 458.9L345.4 458.3L345.6 459.4L345.8 459.0L346.0 459.0L346.2 460.0L346.4 459.3L346.6 458.5L346.8 459.1L347.0 457.8L347.2 459.1L347.4 458.5L347.6 458.1L347.8 458.3L348.0 458.5L348.2 457.2L348.4 456.7L348.6 458.0L348.8 456.5L349.0 456.9L349.2 455.4L349.4 455.4L349.6 454.4L349.8 454.4L350.0 453.4L350.2 452.5L350.4 452.7L350.6 451.4L350.8 449.8L351.0 449.6L351.2 448.5L351.4 447.6L351.6 446.9L351.8 446.0L352.0 445.3L352.2 444.4L352.4 443.7L352.6 443.3L352.8 443.0L353.0 442.6L353.2 442.6L353.4 442.7L353.6 442.8L353.8 443.3L354.0 443.6L354.2 444.2L354.4 444.7L354.6 445.7L354.8 446.6L355.0 446.8L355.2 448.0L355.4 447.5L355.6 448.5L355.8 449.0L356.0 450.6L356.2 450.1L356.4 451.1L356.6 450.1L356.8 451.4L357.0 451.9L357.2 451.8L357.4 450.6L357.6 452.3L357.8 452.8L358.0 453.1L358.2 452.7L358.4 451.7L358.6 452.6L358.8 453.3L359.0 452.4L359.2 453.3L359.4 452.9L359.6 453.3L359.8 453.8L360.0 453.2L360.2 455.3L360.4 454.0L360.6 454.3L360.8 453.9L361.0 454.6L361.2 454.6L361.4 454.2L361.6 454.4L361.8 455.6L362.0 455.6L362.2 454.5L362.4 455.0L362.6 456.2L362.8 456.5L363.0 457.1L363.2 456.2L363.4 457.4L363.6 457.1L363.8 457.1L364.0 457.4L364.2 458.2L364.4 458.0L364.6 458.3L364.8 457.5L365.0 457.8L365.2 457.3L365.4 457.7L365.6 457.8L365.8 457.7L366.0 458.3L366.2 458.0L366.4 458.1L366.6 457.6L366.8 457.9L367.0 457.2L367.2 457.4L367.4 456.8L367.6 456.6L367.8 455.7L368.0 454.7L368.2 454.1L368.4 455.6L368.6 454.3L368.8 454.0L369.0 453.4L369.2 453.0L369.4 454.8L369.6 452.6L369.8 453.4L370.0 453.7L370.2 453.5L370.4 453.8L370.6 454.5L370.8 455.2L371.0 455.5L371.2 456.6L371.4 455.9L371.6 457.1L371.8 457.9L372.0 457.9L372.2 457.0L372.4 456.2L372.6 458.4L372.8 458.3L373.0 457.9L373.2 459.0L373.4 458.1L373.6 458.4L373.8 457.8L374.0 458.6L374.2 458.2L374.4 458.2L374.6 459.1L374.8 458.6L375.0 457.7L375.2 458.9L375.4 458.9L375.6 458.0L375.8 458.2L376.0 458.5L376.2 458.3L376.4 458.5L376.6 458.7L376.8 458.1L377.0 459.5L377.2 457.9L377.4 458.0L377.6 459.3L377.8 459.5L378.0 458.2L378.2 458.0L378.4 457.5L378.6 458.7L378.8 458.1L379.0 457.5L379.2 458.1L379.4 458.6L379.6 458.2L379.8 458.9L380.0 458.3L380.2 457.8L380.4 457.5L380.6 457.7L380.8 458.0L381.0 457.7L381.2 457.7L381.4 457.2L381.6 457.4L381.8 457.5L382.0 456.6L382.2 455.9L382.4 457.4L382.6 456.6L382.8 455.9L383.0 456.1L383.2 455.7L383.4 454.7L383.6 455.3L383.8 454.4L384.0 455.1L384.2 454.7L384.4 455.1L384.6 454.2L384.8 454.1L385.0 453.5L385.2 453.1L385.4 452.2L385.6 453.1L385.8 452.3L386.0 451.4L386.2 451.4L386.4 450.6L386.6 450.0L386.8 450.0L387.0 450.0L387.2 448.6L387.4 447.3L387.6 447.2L387.8 447.8L388.0 445.7L388.2 446.1L388.4 444.6L388.6 444.3L388.8 443.1L389.0 441.4L389.2 441.2L389.4 441.7L389.6 439.6L389.8 439.1L390.0 437.7L390.2 436.8L390.4 436.1L390.6 435.2L390.8 435.1L391.0 433.0L391.2 431.9L391.4 430.7L391.6 429.5L391.8 428.4L392.0 428.4L392.2 426.5L392.4 426.8L392.6 425.8L392.8 424.7L393.0 423.7L393.2 423.3L393.4 422.8L393.6 422.4L393.8 421.7L394.0 421.4L394.2 421.2L394.4 421.0L394.6 420.9L394.8 420.9L395.0 421.0L395.2 421.4L395.4 421.7L395.6 422.3L395.8 423.1L396.0 423.6L396.2 424.0L396.4 425.2L396.6 425.4L396.8 426.1L397.0 428.0L397.2 427.6L397.4 428.8L397.6 429.8L397.8 431.5L398.0 431.6L398.2 433.2L398.4 433.6L398.6 434.1L398.8 435.9L399.0 436.8L399.2 437.0L399.4 438.1L399.6 439.0L399.8 440.9L400.0 441.5L400.2 442.2L400.4 443.1L400.6 443.4L400.8 444.7L401.0 444.8L401.2 445.1L401.4 446.1L401.6 447.3L401.8 447.8L402.0 448.9L402.2 448.0L402.4 449.3L402.6 450.1L402.8 449.9L403.0 451.0L403.2 451.0L403.4 451.0L403.6 452.6L403.8 451.6L404.0 453.2L404.2 452.8L404.4 452.7L404.6 453.0L404.8 453.3L405.0 453.5L405.2 454.3L405.4 453.2L405.6 455.1L405.8 455.0L406.0 455.4L406.2 454.1L406.4 453.4L406.6 454.4L406.8 454.6L407.0 454.9L407.2 454.4L407.4 454.6L407.6 454.6L407.8 453.6L408.0 455.4L408.2 453.6L408.4 454.3L408.6 454.6L408.8 453.4L409.0 453.7L409.2 454.4L409.4 453.2L409.6 453.8L409.8 453.3L410.0 453.1L410.2 453.3L410.4 452.7L410.6 452.7L410.8 453.3L411.0 453.0L411.2 453.1L411.4 452.3L411.6 453.1L411.8 453.9L412.0 453.9L412.2 453.8L412.4 453.6L412.6 453.7L412.8 454.6L413.0 455.4L413.2 454.9L413.4 455.8L413.6 455.2L413.8 456.2L414.0 455.3L414.2 456.1L414.4 455.7L414.6 456.8L414.8 457.0L415.0 456.3L415.2 456.6L415.4 456.9L415.6 456.5L415.8 456.9L416.0 457.1L416.2 458.1L416.4 458.5L416.6 457.6L416.8 457.8L417.0 458.1L417.2 457.8L417.4 458.0L417.6 458.7L417.8 458.4L418.0 458.2L418.2 458.0L418.4 459.2L418.6 458.1L418.8 458.5L419.0 457.9L419.2 458.2L419.4 458.6L419.6 458.3L419.8 458.8L420.0 458.6L420.2 457.8L420.4 457.3L420.6 459.2L420.8 458.3L421.0 459.5L421.2 458.7L421.4 458.3L421.6 459.0L421.8 458.6L422.0 458.7L422.2 458.2L422.4 459.1L422.6 459.4L422.8 458.5L423.0 459.8L423.2 458.5L423.4 458.9L423.6 457.9L423.8 457.7L424.0 460.0L424.2 459.6L424.4 459.5L424.6 457.9L424.8 459.0L425.0 459.1L425.2 458.9L425.4 459.0L425.6 458.4L425.8 458.8L426.0 458.3L426.2 458.7L426.4 459.1L426.6 458.5L426.8 458.7L427.0 458.7L427.2 458.9L427.4 459.4L427.6 459.0L427.8 459.1L428.0 458.1L428.2 458.7L428.4 459.4L428.6 458.5L428.8 458.7L429.0 458.4L429.2 459.7L429.4 458.7L429.6 458.5L429.8 459.3L430.0 459.5L430.2 459.2L430.4 459.5L430.6 459.1L430.8 458.9L431.0 458.7L431.2 458.7L431.4 458.6L431.6 459.1L431.8 458.9L432.0 459.0L432.2 459.3L432.4 458.9L432.6 458.2L432.8 458.5L433.0 458.3L433.2 457.9L433.4 459.0L433.6 458.3L433.8 458.2L434.0 458.4L434.2 459.4L434.4 458.8L434.6 459.5L434.8 458.9L435.0 458.7L435.2 459.2L435.4 459.3L435.6 459.0L435.8 458.4L436.0 458.7L436.2 458.3L436.4 458.8L436.6 459.0L436.8 459.7L437.0 459.7L437.2 459.3L437.4 459.4L437.6 459.0L437.8 460.4L438.0 459.7L438.2 460.4L438.4 459.1L438.6 459.1L438.8 459.5L439.0 459.0L439.2 459.0L439.4 458.3L439.6 459.4L439.8 458.9L440.0 459.3L440.2 458.7L440.4 457.9L440.6 459.1L440.8 459.5L441.0 458.1L441.2 458.3L441.4 458.7L441.6 458.7L441.8 457.9L442.0 459.8L442.2 459.3L442.4 458.4L442.6 457.8L442.8 459.0L443.0 459.9L443.2 459.2L443.4 459.4L443.6 458.2L443.8 458.9L444.0 457.9L444.2 459.8L444.4 459.0L444.6 457.5L444.8 457.7L445.0 458.9L445.2 458.7L445.4 458.5L445.6 459.0L445.8 459.7L446.0 458.8L446.2 457.6L446.4 458.5L446.6 457.8L446.8 458.1L447.0 458.7L447.2 458.4L447.4 457.9L447.6 458.5L447.8 458.0L448.0 458.8L448.2 458.3L448.4 458.6L448.6 458.3L448.8 458.8L449.0 458.3L449.2 458.3L449.4 458.0L449.6 458.4L449.8 457.3L450.0 459.7L450.2 457.9L450.4 458.3L450.6 457.9L450.8 457.9L451.0 458.4L451.2 457.8L451.4 457.8L451.6 457.3L451.8 457.5L452.0 457.3L452.2 458.9L452.4 457.2L452.6 457.3L452.8 458.0L453.0 458.6L453.2 456.8L453.4 456.9L453.6 457.8L453.8 457.8L454.0 456.8L454.2 456.5L454.4 457.0L454.6 457.8L454.8 457.3L455.0 457.7L455.2 457.2L455.4 457.2L455.6 457.4L455.8 457.0L456.0 457.1L456.2 456.4L456.4 456.4L456.6 456.9L456.8 456.4L457.0 456.1L457.2 456.7L457.4 456.5L457.6 456.1L457.8 455.5L458.0 456.3L458.2 457.0L458.4 455.0L458.6 454.5L458.8 454.7L459.0 454.4L459.2 454.0L459.4 453.9L459.6 454.8L459.8 454.5L460.0 454.6L460.2 453.9L460.4 452.9L460.6 453.5L460.8 452.2L461.0 452.0L461.2 451.2L461.4 452.2L461.6 451.7L461.8 450.4L462.0 450.1L462.2 449.8L462.4 449.5L462.6 449.3L462.8 448.4L463.0 448.0L463.2 446.4L463.4 446.5L463.6 445.1L463.8 446.5L464.0 445.7L464.2 444.6L464.4 444.2L464.6 444.0L464.8 442.8L465.0 440.7L465.2 440.8L465.4 439.0L465.6 439.0L465.8 438.1L466.0 438.0L466.2 437.5L466.4 436.2L466.6 435.8L466.8 435.4L467.0 434.5L467.2 433.9L467.4 432.7L467.6 432.7L467.8 432.5L468.0 431.9L468.2 431.2L468.4 431.0L468.6 430.8L468.8 430.4L469.0 430.4L469.2 430.2L469.4 430.2L469.6 430.2L469.8 430.5L470.0 430.5L470.2 430.7L470.4 431.2L470.6 431.3L470.8 431.9L471.0 431.8L471.2 432.9L471.4 433.4L471.6 433.6L471.8 435.1L472.0 435.2L472.2 435.9L472.4 436.1L472.6 436.6L472.8 437.8L473.0 438.0L473.2 439.7L473.4 440.6L473.6 440.6L473.8 440.7L474.0 442.1L474.2 442.4L474.4 443.7L474.6 444.4L474.8 444.7L475.0 445.6L475.2 446.7L475.4 447.7L475.6 447.0L475.8 448.2L476.0 448.2L476.2 448.3L476.4 450.1L476.6 450.1L476.8 450.4L477.0 450.9L477.2 451.0L477.4 450.9L477.6 452.9L477.8 452.8L478.0 452.7L478.2 453.4L478.4 453.9L478.6 453.4L478.8 454.1L479.0 453.9L479.2 454.6L479.4 454.4L479.6 456.1L479.8 454.7L480.0 455.4L480.2 455.6L480.4 455.3L480.6 456.2L480.8 455.8L481.0 455.7L481.2 456.1L481.4 455.8L481.6 457.0L481.8 456.8L482.0 457.1L482.2 455.9L482.4 456.8L482.6 456.4L482.8 456.9L483.0 457.6L483.2 457.1L483.4 456.9L483.6 457.7L483.8 457.7L484.0 458.2L484.2 456.2L484.4 457.4L484.6 457.1L484.8 456.8L485.0 457.4L485.2 456.7L485.4 456.1L485.6 456.9L485.8 457.2L486.0 458.4L486.2 457.0L486.4 456.7L486.6 456.3L486.8 457.1L487.0 457.2L487.2 457.4L487.4 456.5L487.6 456.8L487.8 455.9L488.0 457.2L488.2 456.2L488.4 455.5L488.6 457.6L488.8 457.2L489.0 457.1L489.2 457.0L489.4 456.2L489.6 457.3L489.8 456.1L490.0 457.6L490.2 456.6L490.4 455.4L490.6 456.9L490.8 457.4L491.0 456.1L491.2 456.8L491.4 456.0L491.6 455.8L491.8 454.6L492.0 456.7L492.2 455.7L492.4 456.2L492.6 455.3L492.8 455.5L493.0 456.6L493.2 455.8L493.4 455.8L493.6 455.4L493.8 456.2L494.0 456.6L494.2 456.0L494.4 456.2L494.6 455.7L494.8 457.3L495.0 456.2L495.2 456.6L495.4 457.7L495.6 456.7L495.8 456.1L496.0 456.6L496.2 457.0L496.4 458.2L496.6 457.5L496.8 457.3L497.0 458.0L497.2 458.4L497.4 457.3L497.6 458.6L497.8 458.4L498.0 458.2L498.2 456.8L498.4 458.3L498.6 459.0L498.8 458.1L499.0 459.6L499.2 458.5L499.4 457.9L499.6 458.9L499.8 458.8L500.0 459.1L500.2 458.6L500.4 459.5L500.6 458.5L500.8 458.9L501.0 458.2L501.2 458.5L501.4 459.1L501.6 458.6L501.8 458.8L502.0 458.9L502.2 459.2L502.4 459.5L502.6 459.6L502.8 459.7L503.0 459.3L503.2 458.9L503.4 458.3L503.6 459.0L503.8 458.8L504.0 458.3L504.2 460.2L504.4 458.3L504.6 459.5L504.8 459.6L505.0 459.2L505.2 460.8L505.4 459.4L505.6 459.0L505.8 460.4L506.0 459.0L506.2 458.6L506.4 458.9L506.6 459.1L506.8 459.5L507.0 459.6L507.2 458.6L507.4 459.7L507.6 460.7L507.8 459.1L508.0 459.4L508.2 459.9L508.4 460.2L508.6 459.2L508.8 459.0L509.0 459.0L509.2 460.2L509.4 460.1L509.6 458.4L509.8 458.4L510.0 458.9L510.2 458.8L510.4 459.8L510.6 459.7L510.8 460.7L511.0 460.1L511.2 459.7L511.4 460.3L511.6 459.1L511.8 458.9L512.0 459.7L512.2 460.2L512.4 458.7L512.6 460.2L512.8 460.1L513.0 459.4L513.2 459.8L513.4 459.5L513.6 459.7L513.8 460.1L514.0 459.2L514.2 460.3L514.4 460.2L514.6 460.2L514.8 458.6L515.0 458.7L515.2 460.1L515.4 459.4L515.6 459.3L515.8 459.3L516.0 459.0L516.2 459.6L516.4 459.3L516.6 459.4L516.8 460.0L517.0 459.1L517.2 460.4L517.4 458.5L517.6 461.2L517.8 459.0L518.0 460.1L518.2 460.3L518.4 459.8L518.6 460.2L518.8 459.7L519.0 458.8L519.2 460.0L519.4 460.4L519.6 459.5L519.8 458.8L520.0 459.5L520.2 460.0L520.4 460.0L520.6 460.4L520.8 460.1L521.0 460.1L521.2 458.7L521.4 461.1L521.6 459.9L521.8 460.3L522.0 459.6L522.2 459.7L522.4 459.9L522.6 460.7L522.8 460.7L523.0 460.2L523.2 461.0L523.4 459.6L523.6 460.1L523.8 459.6L524.0 460.6L524.2 459.9L524.4 460.4L524.6 460.8L524.8 458.7L525.0 461.1L525.2 460.0L525.4 459.7L525.6 458.8L525.8 459.7L526.0 458.6L526.2 459.9L526.4 459.8L526.6 460.9L526.8 459.7L527.0 460.5L527.2 460.5L527.4 461.1L527.6 459.8L527.8 460.3L528.0 459.0L528.2 459.3L528.4 459.7L528.6 459.9L528.8 459.2L529.0 459.7L529.2 460.3L529.4 459.7L529.6 459.8L529.8 459.4L530.0 460.7L530.2 460.9L530.4 460.0L530.6 459.9L530.8 460.9L531.0 460.2L531.2 459.5L531.4 459.2L531.6 459.6L531.8 461.2L532.0 459.6L532.2 461.6L532.4 459.9L532.6 459.8L532.8 460.7L533.0 459.8L533.2 460.1L533.4 459.3L533.6 459.2L533.8 459.5L534.0 460.1L534.2 459.6L534.4 458.8L534.6 460.2L534.8 459.9L535.0 459.8L535.2 459.6L535.4 458.7L535.6 460.8L535.8 459.7L536.0 460.2L536.2 460.7L536.4 460.6L536.6 460.1L536.8 460.0L537.0 460.1L537.2 460.5L537.4 460.3L537.6 459.7L537.8 460.2L538.0 460.2L538.2 460.3L538.4 460.1L538.6 460.7L538.8 460.1L539.0 460.5L539.2 460.0L539.4 459.6L539.6 459.4L539.8 459.9L540.0 460.3L540.2 460.7L540.4 459.9L540.6 459.7L540.8 459.7L541.0 460.7L541.2 460.0L541.4 459.7L541.6 460.4L541.8 459.2L542.0 460.0L542.2 459.9L542.4 459.9L542.6 459.3L542.8 460.5L543.0 460.9L543.2 459.2L543.4 460.0L543.6 460.3L543.8 461.2L544.0 459.7L544.2 459.4L544.4 459.9L544.6 461.1L544.8 460.0L545.0 460.1L545.2 460.9L545.4 458.7L545.6 458.7L545.8 460.4L546.0 460.4L546.2 459.1L546.4 460.2L546.6 459.9L546.8 460.0L547.0 459.5L547.2 459.7L547.4 459.4L547.6 459.9L547.8 459.8L548.0 460.9L548.2 460.3L548.4 459.0L548.6 460.1L548.8 460.7L549.0 460.0L549.2 460.5L549.4 459.9L549.6 460.3L549.8 459.4L550.0 460.3L550.2 459.1L550.4 460.6L550.6 459.0L550.8 458.7L551.0 460.2L551.2 459.8L551.4 459.9L551.6 460.1L551.8 459.8L552.0 459.3L552.2 460.0L552.4 460.0L552.6 460.1L552.8 461.0L553.0 459.4L553.2 459.9L553.4 460.1L553.6 459.6L553.8 459.1L554.0 459.5L554.2 460.4L554.4 459.7L554.6 460.1L554.8 459.4L555.0 460.0L555.2 459.4L555.4 459.3L555.6 459.8L555.8 459.8L556.0 460.6L556.2 458.9L556.4 460.1L556.6 460.7L556.8 460.5L557.0 459.5L557.2 459.4L557.4 459.5L557.6 459.9L557.8 459.8L558.0 459.9L558.2 460.1L558.4 459.1L558.6 459.1L558.8 459.0L559.0 459.0L559.2 459.7L559.4 459.9L559.6 461.1L559.8 460.0L560.0 459.7L560.2 460.5L560.4 459.3L560.6 459.9L560.8 460.2L561.0 460.1L561.2 459.9L561.4 459.5L561.6 459.0L561.8 459.6L562.0 459.3L562.2 460.0L562.4 459.6L562.6 459.9L562.8 458.7L563.0 460.2L563.2 459.1L563.4 458.7L563.6 458.8L563.8 459.2L564.0 460.2L564.2 460.0L564.4 458.9L564.6 459.6L564.8 459.5L565.0 458.7L565.2 459.0L565.4 458.4L565.6 459.0L565.8 458.0L566.0 459.1L566.2 459.0L566.4 459.0L566.6 459.0L566.8 460.1L567.0 459.3L567.2 459.6L567.4 459.9L567.6 459.9L567.8 459.8L568.0 459.1L568.2 458.8L568.4 458.9L568.6 459.1L568.8 459.3L569.0 459.3L569.2 459.9L569.4 459.2L569.6 460.2L569.8 459.8L570.0 458.9L570.2 459.6L570.4 457.5L570.6 459.9L570.8 459.3L571.0 459.3L571.2 458.1L571.4 460.4L571.6 458.8L571.8 458.8L572.0 459.5L572.2 458.7L572.4 458.3L572.6 459.1L572.8 458.1L573.0 459.0L573.2 458.6L573.4 459.1L573.6 457.8L573.8 459.1L574.0 458.5L574.2 459.4L574.4 457.8L574.6 459.1L574.8 458.4L575.0 458.4L575.2 457.5L575.4 458.1L575.6 458.1L575.8 457.1L576.0 456.9L576.2 457.0L576.4 458.2L576.6 457.3L576.8 457.7L577.0 457.2L577.2 457.0L577.4 457.0L577.6 456.5L577.8 457.4L578.0 456.7L578.2 456.6L578.4 455.6L578.6 456.5L578.8 455.9L579.0 455.9L579.2 456.7L579.4 455.4L579.6 455.9L579.8 456.3L580.0 456.5L580.2 455.6L580.4 456.0L580.6 456.0L580.8 455.2L581.0 454.6L581.2 454.7L581.4 456.2L581.6 455.9L581.8 455.2L582.0 455.6L582.2 455.8L582.4 455.9L582.6 456.1L582.8 457.5L583.0 455.9L583.2 456.5L583.4 456.1L583.6 456.2L583.8 456.2L584.0 456.6L584.2 456.6L584.4 457.2L584.6 457.2L584.8 456.6L585.0 458.3L585.2 456.7L585.4 457.6L585.6 458.7L585.8 457.2L586.0 458.4L586.2 458.6L586.4 458.0L586.6 456.9L586.8 458.8L587.0 458.1L587.2 457.9L587.4 458.9L587.6 457.9L587.8 459.0L588.0 458.1L588.2 458.8L588.4 457.9L588.6 458.4L588.8 458.1L589.0 458.3L589.2 458.8L589.4 458.7L589.6 458.9L589.8 459.6L590.0 458.8L590.2 457.9L590.4 458.8L590.6 459.1L590.8 459.6L591.0 459.7L591.2 459.6L591.4 459.0L591.6 459.5L591.8 458.4L592.0 459.9L592.2 459.5L592.4 459.5L592.6 459.1L592.8 459.3L593.0 458.9L593.2 459.6L593.4 458.6L593.6 459.9L593.8 459.7L594.0 460.5L594.2 459.4L594.4 459.4L594.6 459.5L594.8 459.4L595.0 459.4L595.2 458.8L595.4 458.8L595.6 459.1L595.8 459.3L596.0 458.8L596.2 458.8L596.4 459.3L596.6 459.9L596.8 459.4L597.0 459.9L597.2 460.1L597.4 460.0L597.6 459.3L597.8 459.3L598.0 458.5L598.2 459.2L598.4 459.8L598.6 458.9L598.8 460.3L599.0 460.4L599.2 459.4L599.4 460.1L599.6 458.8L599.8 459.0L600.0 459.4L600.2 459.6L600.4 459.5L600.6 459.1L600.8 460.7L601.0 459.8L601.2 459.8L601.4 460.0L601.6 459.7L601.8 459.5L602.0 459.3L602.2 458.7L602.4 460.4L602.6 459.1L602.8 458.7L603.0 459.2L603.2 458.7L603.4 460.7L603.6 459.8L603.8 460.4L604.0 460.4L604.2 459.9L604.4 459.9L604.6 459.2L604.8 459.6L605.0 459.3L605.2 459.6L605.4 459.2L605.6 460.3L605.8 460.1L606.0 459.6L606.2 458.7L606.4 460.0L606.6 460.1L606.8 459.6L607.0 458.9L607.2 459.9L607.4 460.2L607.6 458.5L607.8 459.9L608.0 458.6L608.2 459.7L608.4 460.6L608.6 459.7L608.8 459.9L609.0 459.4L609.2 459.6L609.4 460.9L609.6 460.4L609.8 459.4L610.0 459.4L610.2 459.6L610.4 460.8L610.6 459.7L610.8 460.2L611.0 459.4L611.2 458.9L611.4 460.3L611.6 459.6L611.8 459.2L612.0 459.2L612.2 459.2L612.4 459.2L612.6 458.7L612.8 460.3L613.0 459.8L613.2 460.1L613.4 459.4L613.6 459.8L613.8 459.7L614.0 460.2L614.2 460.0L614.4 459.8L614.6 459.2L614.8 458.9L615.0 459.1L615.2 459.2L615.4 459.2L615.6 458.8L615.8 460.5L616.0 459.7L616.2 458.4L616.4 458.9L616.6 458.8L616.8 459.6L617.0 460.1L617.2 458.9L617.4 459.8L617.6 459.3L617.8 460.1L618.0 460.2L618.2 459.6L618.4 459.9L618.6 459.5L618.8 459.2L619.0 458.8L619.2 459.6L619.4 459.4L619.6 459.2L619.8 459.4L620.0 459.3L620.2 458.8L620.4 459.1L620.6 460.0L620.8 459.3L621.0 460.2L621.2 458.7L621.4 458.6L621.6 459.4L621.8 459.8L622.0 459.0L622.2 459.7L622.4 459.8L622.6 459.9L622.8 459.2L623.0 459.2L623.2 458.3L623.4 459.3L623.6 459.4L623.8 460.0L624.0 458.5L624.2 458.7L624.4 458.6L624.6 459.7L624.8 457.8L625.0 458.5L625.2 460.3L625.4 459.5L625.6 458.4L625.8 459.0L626.0 459.5L626.2 459.3L626.4 458.9L626.6 458.6L626.8 459.4L627.0 459.0L627.2 459.4L627.4 459.1L627.6 458.6L627.8 459.7L628.0 458.6L628.2 459.0L628.4 458.4L628.6 458.6L628.8 458.6L629.0 458.3L629.2 458.8L629.4 459.3L629.6 459.6L629.8 459.3L630.0 458.4L630.2 459.3L630.4 458.6L630.6 459.3L630.8 457.6L631.0 459.1L631.2 457.9L631.4 458.8L631.6 457.8L631.8 458.5L632.0 457.8L632.2 456.8L632.4 457.3L632.6 457.6L632.8 457.6L633.0 456.3L633.2 456.8L633.4 457.0L633.6 457.2L633.8 457.3L634.0 456.6L634.2 456.1L634.4 457.0L634.6 456.5L634.8 457.1L635.0 456.2L635.2 456.7L635.4 455.7L635.6 456.2L635.8 456.0L636.0 456.0L636.2 455.1L636.4 455.4L636.6 454.8L636.8 455.0L637.0 455.3L637.2 456.4L637.4 454.6L637.6 454.8L637.8 454.3L638.0 454.6L638.2 454.1L638.4 454.2L638.6 453.6L638.8 454.6L639.0 453.8L639.2 451.9L639.4 452.8L639.6 452.5L639.8 451.0L640.0 451.6L640.2 451.6L640.4 451.3L640.6 451.6L640.8 450.4L641.0 451.7L641.2 451.6L641.4 451.2L641.6 450.7L641.8 450.8L642.0 450.5L642.2 451.3L642.4 450.9L642.6 451.7L642.8 450.4L643.0 451.4L643.2 450.3L643.4 450.6L643.6 450.2L643.8 451.1L644.0 450.9L644.2 451.4L644.4 452.0L644.6 451.2L644.8 451.6L645.0 452.1L645.2 451.7L645.4 451.6L645.6 452.3L645.8 452.5L646.0 452.8L646.2 453.1L646.4 452.4L646.6 453.2L646.8 453.8L647.0 453.1L647.2 453.7L647.4 453.3L647.6 453.9L647.8 455.0L648.0 454.3L648.2 453.8L648.4 454.7L648.6 454.8L648.8 455.4L649.0 454.2L649.2 454.6L649.4 455.2L649.6 454.5L649.8 456.1L650.0 454.5L650.2 455.2L650.4 455.0L650.6 455.5L650.8 456.4L651.0 456.4L651.2 456.7L651.4 456.6L651.6 455.2L651.8 456.5L652.0 455.4L652.2 456.2L652.4 456.3L652.6 456.3L652.8 456.9L653.0 456.2L653.2 457.6L653.4 457.0L653.6 457.3L653.8 457.1L654.0 457.2L654.2 456.6L654.4 457.7L654.6 456.1L654.8 456.9L655.0 456.6L655.2 456.4L655.4 456.7L655.6 456.1L655.8 456.9L656.0 456.8L656.2 456.4L656.4 456.7L656.6 455.6L656.8 455.1L657.0 455.7L657.2 455.8L657.4 457.3L657.6 455.7L657.8 456.3L658.0 456.1L658.2 456.7L658.4 455.5L658.6 455.7L658.8 455.1L659.0 454.7L659.2 454.5L659.4 454.5L659.6 455.6L659.8 454.9L660.0 454.5L660.2 454.5L660.4 454.1L660.6 454.3L660.8 454.3L661.0 454.6L661.2 454.7L661.4 453.2L661.6 454.2L661.8 454.8L662.0 453.5L662.2 453.9L662.4 454.1L662.6 454.6L662.8 454.4L663.0 454.0L663.2 454.4L663.4 454.8L663.6 454.5L663.8 455.3L664.0 454.6L664.2 453.9L664.4 454.2L664.6 454.6L664.8 454.7L665.0 455.3L665.2 455.2L665.4 456.1L665.6 455.7L665.8 456.2L666.0 455.1L666.2 455.4L666.4 456.1L666.6 455.9L666.8 456.3L667.0 456.3L667.2 455.9L667.4 457.3L667.6 457.1L667.8 455.7L668.0 456.3L668.2 456.8L668.4 457.2L668.6 456.9L668.8 456.3L669.0 457.6L669.2 457.1L669.4 457.9L669.6 457.5" fill="none" stroke="#0F9ED5" stroke-width="2.6" stroke-linejoin="round" stroke-linecap="round"/>
<ellipse cx="238.0" cy="9.3" rx="4.3" ry="3.95" fill="#000"/>
<ellipse cx="276.4" cy="130.7" rx="4.3" ry="3.95" fill="#000"/>
<ellipse cx="397.5" cy="102.2" rx="4.3" ry="3.95" fill="#000"/>
<ellipse cx="471.9" cy="123.2" rx="4.3" ry="3.95" fill="#000"/>
<ellipse cx="495.5" cy="169.3" rx="4.3" ry="3.95" fill="#000"/>
<ellipse cx="582.7" cy="166.5" rx="4.3" ry="3.95" fill="#000"/>
<ellipse cx="643.9" cy="158.7" rx="4.3" ry="3.95" fill="#000"/>
<ellipse cx="663.1" cy="166.9" rx="4.3" ry="3.95" fill="#000"/>
<circle cx="67.6" cy="33.4" r="4.15" fill="#000"/>
<rect x="64.4" y="58.1" width="8.4" height="7.7" fill="#000"/>
<path d="M63.2 86.9L72.8 86.9L68.00 96.2Z" fill="#000"/>
<rect x="358.0" y="169.8" width="8.3" height="8.0" fill="#000"/>
<path d="M368.0 167.5L378.5 167.5L373.25 178.4Z" fill="#000"/>
<rect x="348.9" y="294.4" width="8.8" height="8.5" fill="#000"/>
<path d="M365.0 295.9L375.7 295.9L370.35 307.2Z" fill="#000"/>
<rect x="348.0" y="359.8" width="8.5" height="8.3" fill="#000"/>
<path d="M364.0 366.2L374.4 366.2L369.20 376.9Z" fill="#000"/>
<rect x="349.5" y="427.8" width="8.5" height="8.4" fill="#000"/>
<path d="M365.4 438.0L375.4 438.0L370.40 448.8Z" fill="#000"/>
<text x="38.1" y="526.1" font-size="24" fill="#000" text-anchor="middle" >5</text>
<text x="80.5" y="526.1" font-size="24" fill="#000" text-anchor="middle" >10</text>
<text x="122.8" y="526.1" font-size="24" fill="#000" text-anchor="middle" >15</text>
<text x="165.2" y="526.1" font-size="24" fill="#000" text-anchor="middle" >20</text>
<text x="207.6" y="526.1" font-size="24" fill="#000" text-anchor="middle" >25</text>
<text x="250.0" y="526.1" font-size="24" fill="#000" text-anchor="middle" >30</text>
<text x="292.3" y="526.1" font-size="24" fill="#000" text-anchor="middle" >35</text>
<text x="334.7" y="526.1" font-size="24" fill="#000" text-anchor="middle" >40</text>
<text x="377.1" y="526.1" font-size="24" fill="#000" text-anchor="middle" >45</text>
<text x="419.5" y="526.1" font-size="24" fill="#000" text-anchor="middle" >50</text>
<text x="461.8" y="526.1" font-size="24" fill="#000" text-anchor="middle" >55</text>
<text x="504.2" y="526.1" font-size="24" fill="#000" text-anchor="middle" >60</text>
<text x="546.6" y="526.1" font-size="24" fill="#000" text-anchor="middle" >65</text>
<text x="589.0" y="526.1" font-size="24" fill="#000" text-anchor="middle" >70</text>
<text x="631.3" y="526.1" font-size="24" fill="#000" text-anchor="middle" >75</text>
<text x="673.7" y="526.1" font-size="24" fill="#000" text-anchor="middle" >80</text>
<text x="356.8" y="554.5" font-size="23.7" fill="#000" text-anchor="middle" >2θ (degree)</text>
<text transform="translate(17.8 255.2) rotate(-90)" font-size="23.2" text-anchor="middle">Intensity (a.u.)</text>
<text x="76.4" y="39.9" font-size="22.5" letter-spacing="0.5">CeO<tspan font-size="14.9" dy="5.4">2</tspan></text>
<text x="76.7" y="67.9" font-size="22.5" fill="#000" text-anchor="start" letter-spacing="0.4">NiO</text>
<text x="79.6" y="96.6" font-size="22.5" fill="#000" text-anchor="start" >Ni</text>
<text x="343.8" y="212.0" font-size="20.7" fill="#C00000">Spent Ni/CeO<tspan font-size="13.7" dy="4.8">2</tspan><tspan dy="-4.8"> from single-passed</tspan></text>
<text x="323.6" y="335.8" font-size="20.7" fill="#BF9000">Spent-R1 Ni/CeO<tspan font-size="13.7" dy="4.8">2</tspan><tspan dy="-4.8"> from triple-passed</tspan></text>
<text x="322.7" y="409.8" font-size="20.7" fill="#00B050">Spent-R2 Ni/CeO<tspan font-size="13.7" dy="4.8">2</tspan><tspan dy="-4.8"> from triple-passed</tspan></text>
<text x="322.6" y="480.0" font-size="20.7" fill="#0F9ED5">Spent-R3 Ni/CeO<tspan font-size="13.7" dy="4.8">2</tspan><tspan dy="-4.8"> from triple-passed</tspan></text>
<line x1="238.2" y1="2" x2="236.1" y2="490" stroke="#4472C4" stroke-width="1" stroke-dasharray="3.1 2.14" opacity="0.72"/>
<line x1="275.4" y1="2" x2="275.4" y2="487" stroke="#4472C4" stroke-width="1" stroke-dasharray="3.1 2.14" opacity="0.72"/>
<line x1="397.6" y1="2" x2="397.6" y2="487" stroke="#4472C4" stroke-width="1" stroke-dasharray="3.1 2.14" opacity="0.72"/>
<line x1="471.6" y1="2" x2="471.6" y2="490" stroke="#4472C4" stroke-width="1" stroke-dasharray="3.1 2.14" opacity="0.72"/>
<line x1="495.7" y1="2" x2="495.7" y2="487" stroke="#4472C4" stroke-width="1" stroke-dasharray="3.1 2.14" opacity="0.72"/>
<line x1="582.4" y1="2" x2="582.4" y2="486" stroke="#4472C4" stroke-width="1" stroke-dasharray="3.1 2.14" opacity="0.72"/>
<line x1="644.5" y1="2" x2="644.5" y2="490.5" stroke="#4472C4" stroke-width="1" stroke-dasharray="3.1 2.14" opacity="0.72"/>
<line x1="662.5" y1="2" x2="662.5" y2="486.5" stroke="#4472C4" stroke-width="1" stroke-dasharray="3.1 2.14" opacity="0.72"/>
</svg>
</body></html>
